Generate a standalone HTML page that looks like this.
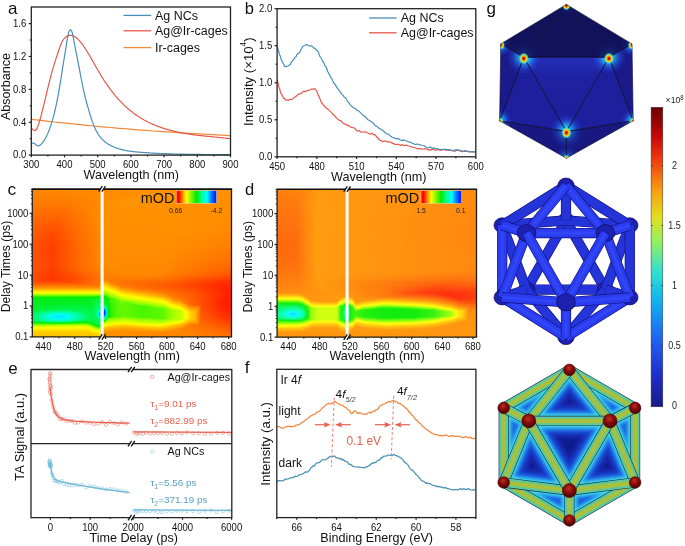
<!DOCTYPE html>
<html><head><meta charset="utf-8"><style>
html,body{margin:0;padding:0;background:#fff;width:685px;height:546px;overflow:hidden}
svg{display:block;will-change:transform}
text{font-family:"Liberation Sans", sans-serif}
</style></head><body>
<svg width="685" height="546" viewBox="0 0 685 546" font-family='"Liberation Sans", sans-serif'>
<path d="M31.3,119.3 L34.3,119.7 L38.3,120.1 L43.1,120.7 L48.5,121.3 L54.2,122.0 L60.0,122.6 L66.1,123.2 L72.9,123.9 L79.9,124.6 L87.0,125.3 L93.8,126.0 L100.0,126.6 L105.3,127.1 L110.0,127.5 L114.4,127.9 L118.9,128.3 L124.0,128.7 L130.0,129.2 L137.2,129.8 L145.2,130.4 L153.7,131.0 L162.6,131.6 L171.4,132.2 L180.0,132.8 L189.0,133.3 L198.6,133.9 L208.3,134.4 L217.3,134.9 L224.9,135.3 L230.4,135.6" fill="none" stroke="#f28a3c" stroke-width="1.2" stroke-linejoin="round"/>
<path d="M31.4,127.8 L32.1,128.8 L32.8,129.6 L33.5,130.2 L34.2,130.6 L34.9,130.6 L35.6,130.3 L36.3,129.5 L37.0,128.4 L37.7,126.8 L38.4,124.9 L39.1,122.7 L39.8,120.4 L40.5,117.9 L41.2,115.3 L41.9,112.6 L42.6,109.8 L43.3,107.0 L44.0,104.1 L44.7,101.2 L45.4,98.3 L46.1,95.4 L46.8,92.4 L47.5,89.5 L48.2,86.6 L48.9,83.7 L49.6,80.9 L50.3,78.1 L51.0,75.5 L51.7,72.9 L52.4,70.3 L53.1,67.9 L53.8,65.6 L54.5,63.3 L55.2,61.1 L55.9,58.9 L56.6,56.8 L57.3,54.7 L58.0,52.5 L58.7,50.4 L59.4,48.3 L60.1,46.4 L60.8,44.5 L61.5,42.9 L62.2,41.5 L62.9,40.3 L63.6,39.3 L64.3,38.4 L65.0,37.7 L65.7,37.1 L66.4,36.6 L67.1,36.2 L67.8,35.8 L68.5,35.6 L69.2,35.4 L69.9,35.3 L70.6,35.3 L71.3,35.4 L72.0,35.5 L72.7,35.7 L73.4,36.0 L74.1,36.3 L74.8,36.7 L75.5,37.2 L76.2,37.7 L76.9,38.3 L77.6,38.9 L78.3,39.6 L79.0,40.3 L79.7,41.1 L80.4,41.9 L81.1,42.7 L81.8,43.6 L82.5,44.6 L83.2,45.5 L83.9,46.6 L84.6,47.6 L85.3,48.7 L86.0,49.7 L86.7,50.9 L87.4,52.0 L88.1,53.1 L88.8,54.3 L89.5,55.5 L90.2,56.7 L90.9,57.9 L91.6,59.1 L92.3,60.4 L93.0,61.6 L93.7,62.9 L94.4,64.1 L95.1,65.3 L95.8,66.6 L96.5,67.8 L97.2,69.0 L97.9,70.2 L98.6,71.5 L99.3,72.6 L100.0,73.8 L100.7,75.0 L101.4,76.1 L102.1,77.3 L102.8,78.4 L103.5,79.5 L104.2,80.6 L104.9,81.6 L105.6,82.7 L106.3,83.7 L107.0,84.7 L107.7,85.7 L108.4,86.7 L109.1,87.7 L109.8,88.6 L110.5,89.6 L111.2,90.5 L111.9,91.4 L112.6,92.3 L113.3,93.2 L114.0,94.1 L114.7,94.9 L115.4,95.8 L116.1,96.6 L116.8,97.4 L117.5,98.2 L118.2,99.0 L118.9,99.8 L119.6,100.5 L120.3,101.3 L121.0,102.0 L121.7,102.7 L122.4,103.4 L123.1,104.1 L123.8,104.8 L124.5,105.5 L125.2,106.1 L125.9,106.8 L126.6,107.4 L127.3,108.0 L128.0,108.7 L128.7,109.3 L129.4,109.8 L130.1,110.4 L130.8,111.0 L131.5,111.6 L132.2,112.1 L132.9,112.6 L133.6,113.2 L134.3,113.7 L135.0,114.2 L135.7,114.7 L136.4,115.2 L137.1,115.7 L137.8,116.1 L138.5,116.6 L139.2,117.0 L139.9,117.5 L140.6,117.9 L141.3,118.3 L142.0,118.8 L142.7,119.2 L143.4,119.6 L144.1,120.0 L144.8,120.3 L145.5,120.7 L146.2,121.1 L146.9,121.5 L147.6,121.8 L148.3,122.2 L149.0,122.5 L149.7,122.8 L150.4,123.2 L151.1,123.5 L151.8,123.8 L152.5,124.1 L153.2,124.4 L153.9,124.7 L154.6,125.0 L155.3,125.3 L156.0,125.6 L156.7,125.8 L157.4,126.1 L158.1,126.4 L158.8,126.6 L159.5,126.9 L160.2,127.1 L160.9,127.4 L161.6,127.6 L162.3,127.9 L163.0,128.1 L163.7,128.3 L164.4,128.6 L165.1,128.8 L165.8,129.0 L166.5,129.2 L167.2,129.4 L167.9,129.6 L168.6,129.8 L169.3,130.0 L170.0,130.2 L170.7,130.4 L171.4,130.6 L172.1,130.7 L172.8,130.9 L173.5,131.1 L174.2,131.3 L174.9,131.4 L175.6,131.6 L176.3,131.7 L177.0,131.9 L177.7,132.0 L178.4,132.2 L179.1,132.3 L179.8,132.5 L180.5,132.6 L181.2,132.8 L181.9,132.9 L182.6,133.0 L183.3,133.1 L184.0,133.3 L184.7,133.4 L185.4,133.5 L186.1,133.6 L186.8,133.7 L187.5,133.9 L188.2,134.0 L188.9,134.1 L189.6,134.2 L190.3,134.3 L191.0,134.4 L191.7,134.5 L192.4,134.6 L193.1,134.7 L193.8,134.8 L194.5,134.9 L195.2,134.9 L195.9,135.0 L196.6,135.1 L197.3,135.2 L198.0,135.3 L198.7,135.4 L199.4,135.5 L200.1,135.5 L200.8,135.6 L201.5,135.7 L202.2,135.8 L202.9,135.8 L203.6,135.9 L204.3,136.0 L205.0,136.1 L205.7,136.1 L206.4,136.2 L207.1,136.3 L207.8,136.4 L208.5,136.4 L209.2,136.5 L209.9,136.6 L210.6,136.6 L211.3,136.7 L212.0,136.8 L212.7,136.8 L213.4,136.9 L214.1,137.0 L214.8,137.0 L215.5,137.1 L216.2,137.2 L216.9,137.2 L217.6,137.3 L218.3,137.4 L219.0,137.5 L219.7,137.5 L220.4,137.6 L221.1,137.7 L221.8,137.7 L222.5,137.8 L223.2,137.9 L223.9,138.0 L224.6,138.0 L225.3,138.1 L226.0,138.2 L226.7,138.3 L227.4,138.4 L228.1,138.4 L228.8,138.5 L229.5,138.6 L230.2,138.7 L230.4,138.7" fill="none" stroke="#e8584b" stroke-width="1.2" stroke-linejoin="round"/>
<path d="M31.4,144.3 L32.1,143.4 L32.8,143.0 L33.5,143.0 L34.2,143.3 L34.9,143.9 L35.6,144.5 L36.3,145.0 L37.0,145.5 L37.7,145.8 L38.4,145.8 L39.1,145.7 L39.8,145.3 L40.5,144.8 L41.2,144.2 L41.9,143.4 L42.6,142.6 L43.3,141.6 L44.0,140.5 L44.7,139.4 L45.4,138.2 L46.1,136.9 L46.8,135.5 L47.5,134.0 L48.2,132.4 L48.9,130.7 L49.6,128.9 L50.3,126.9 L51.0,124.9 L51.7,122.7 L52.4,120.3 L53.1,117.9 L53.8,115.2 L54.5,112.5 L55.2,109.5 L55.9,106.4 L56.6,103.1 L57.3,99.7 L58.0,96.0 L58.7,92.2 L59.4,88.2 L60.1,83.9 L60.8,79.6 L61.5,75.1 L62.2,70.7 L62.9,66.2 L63.6,61.9 L64.3,57.6 L65.0,53.4 L65.7,49.1 L66.4,44.6 L67.1,40.1 L67.8,36.1 L68.5,33.0 L69.2,31.1 L69.9,30.1 L70.6,29.9 L71.3,30.5 L72.0,32.0 L72.7,34.6 L73.4,38.1 L74.1,41.9 L74.8,45.6 L75.5,49.2 L76.2,52.7 L76.9,56.2 L77.6,59.7 L78.3,63.3 L79.0,66.9 L79.7,70.6 L80.4,74.3 L81.1,78.0 L81.8,81.6 L82.5,85.2 L83.2,88.5 L83.9,91.8 L84.6,94.8 L85.3,97.6 L86.0,100.4 L86.7,103.0 L87.4,105.5 L88.1,107.9 L88.8,110.4 L89.5,112.7 L90.2,115.0 L90.9,117.3 L91.6,119.4 L92.3,121.5 L93.0,123.4 L93.7,125.2 L94.4,127.0 L95.1,128.5 L95.8,130.0 L96.5,131.3 L97.2,132.6 L97.9,133.7 L98.6,134.8 L99.3,135.8 L100.0,136.7 L100.7,137.6 L101.4,138.3 L102.1,139.1 L102.8,139.8 L103.5,140.5 L104.2,141.1 L104.9,141.7 L105.6,142.2 L106.3,142.8 L107.0,143.3 L107.7,143.7 L108.4,144.2 L109.1,144.6 L109.8,145.0 L110.5,145.4 L111.2,145.7 L111.9,146.1 L112.6,146.4 L113.3,146.7 L114.0,147.0 L114.7,147.3 L115.4,147.6 L116.1,147.8 L116.8,148.1 L117.5,148.3 L118.2,148.6 L118.9,148.8 L119.6,149.0 L120.3,149.2 L121.0,149.4 L121.7,149.6 L122.4,149.8 L123.1,149.9 L123.8,150.1 L124.5,150.2 L125.2,150.4 L125.9,150.5 L126.6,150.7 L127.3,150.8 L128.0,150.9 L128.7,151.0 L129.4,151.1 L130.1,151.2 L130.8,151.3 L131.5,151.4 L132.2,151.5 L132.9,151.6 L133.6,151.7 L134.3,151.7 L135.0,151.8 L135.7,151.9 L136.4,151.9 L137.1,152.0 L137.8,152.1 L138.5,152.1 L139.2,152.2 L139.9,152.2 L140.6,152.3 L141.3,152.3 L142.0,152.4 L142.7,152.5 L143.4,152.5 L144.1,152.6 L144.8,152.6 L145.5,152.7 L146.2,152.7 L146.9,152.7 L147.6,152.8 L148.3,152.8 L149.0,152.9 L149.7,152.9 L150.4,153.0 L151.1,153.0 L151.8,153.1 L152.5,153.1 L153.2,153.1 L153.9,153.2 L154.6,153.2 L155.3,153.3 L156.0,153.3 L156.7,153.3 L157.4,153.4 L158.1,153.4 L158.8,153.4 L159.5,153.5 L160.2,153.5 L160.9,153.5 L161.6,153.6 L162.3,153.6 L163.0,153.6 L163.7,153.6 L164.4,153.7 L165.1,153.7 L165.8,153.7 L166.5,153.8 L167.2,153.8 L167.9,153.8 L168.6,153.8 L169.3,153.9 L170.0,153.9 L170.7,153.9 L171.4,153.9 L172.1,153.9 L172.8,154.0 L173.5,154.0 L174.2,154.0 L174.9,154.0 L175.6,154.0 L176.3,154.1 L177.0,154.1 L177.7,154.1 L178.4,154.1 L179.1,154.1 L179.8,154.2 L180.5,154.2 L181.2,154.2 L181.9,154.2 L182.6,154.2 L183.3,154.2 L184.0,154.2 L184.7,154.2 L185.4,154.3 L186.1,154.3 L186.8,154.3 L187.5,154.3 L188.2,154.3 L188.9,154.3 L189.6,154.3 L190.3,154.3 L191.0,154.3 L191.7,154.4 L192.4,154.4 L193.1,154.4 L193.8,154.4 L194.5,154.4 L195.2,154.4 L195.9,154.4 L196.6,154.4 L197.3,154.4 L198.0,154.4 L198.7,154.4 L199.4,154.4 L200.1,154.4 L200.8,154.4 L201.5,154.5 L202.2,154.5 L202.9,154.5 L203.6,154.5 L204.3,154.5 L205.0,154.5 L205.7,154.5 L206.4,154.5 L207.1,154.5 L207.8,154.5 L208.5,154.5 L209.2,154.5 L209.9,154.5 L210.6,154.5 L211.3,154.5 L212.0,154.5 L212.7,154.5 L213.4,154.5 L214.1,154.5 L214.8,154.5 L215.5,154.5 L216.2,154.5 L216.9,154.5 L217.6,154.5 L218.3,154.5 L219.0,154.5 L219.7,154.5 L220.4,154.5 L221.1,154.5 L221.8,154.6 L222.5,154.6 L223.2,154.6 L223.9,154.6 L224.6,154.6 L225.3,154.6 L226.0,154.6 L226.7,154.6 L227.4,154.6 L228.1,154.6 L228.8,154.6 L229.5,154.6 L230.2,154.6 L230.4,154.6" fill="none" stroke="#4a8fb8" stroke-width="1.2" stroke-linejoin="round"/>
<rect x="31.3" y="7" width="199.2" height="148.1" fill="none" stroke="#222" stroke-width="1.3"/>
<line x1="31.3" y1="155.1" x2="31.3" y2="157.3" stroke="#222" stroke-width="1.2"/>
<text transform="translate(31.3 167.6) scale(0.9 1)" font-size="10.6" text-anchor="middle" fill="#111">300</text>
<line x1="47.9" y1="155.1" x2="47.9" y2="156.5" stroke="#222" stroke-width="1.2"/>
<line x1="64.5" y1="155.1" x2="64.5" y2="157.3" stroke="#222" stroke-width="1.2"/>
<text transform="translate(64.5 167.6) scale(0.9 1)" font-size="10.6" text-anchor="middle" fill="#111">400</text>
<line x1="81.1" y1="155.1" x2="81.1" y2="156.5" stroke="#222" stroke-width="1.2"/>
<line x1="97.7" y1="155.1" x2="97.7" y2="157.3" stroke="#222" stroke-width="1.2"/>
<text transform="translate(97.7 167.6) scale(0.9 1)" font-size="10.6" text-anchor="middle" fill="#111">500</text>
<line x1="114.3" y1="155.1" x2="114.3" y2="156.5" stroke="#222" stroke-width="1.2"/>
<line x1="130.9" y1="155.1" x2="130.9" y2="157.3" stroke="#222" stroke-width="1.2"/>
<text transform="translate(130.9 167.6) scale(0.9 1)" font-size="10.6" text-anchor="middle" fill="#111">600</text>
<line x1="147.5" y1="155.1" x2="147.5" y2="156.5" stroke="#222" stroke-width="1.2"/>
<line x1="164.1" y1="155.1" x2="164.1" y2="157.3" stroke="#222" stroke-width="1.2"/>
<text transform="translate(164.1 167.6) scale(0.9 1)" font-size="10.6" text-anchor="middle" fill="#111">700</text>
<line x1="180.7" y1="155.1" x2="180.7" y2="156.5" stroke="#222" stroke-width="1.2"/>
<line x1="197.3" y1="155.1" x2="197.3" y2="157.3" stroke="#222" stroke-width="1.2"/>
<text transform="translate(197.3 167.6) scale(0.9 1)" font-size="10.6" text-anchor="middle" fill="#111">800</text>
<line x1="213.9" y1="155.1" x2="213.9" y2="156.5" stroke="#222" stroke-width="1.2"/>
<line x1="230.5" y1="155.1" x2="230.5" y2="157.3" stroke="#222" stroke-width="1.2"/>
<text transform="translate(230.5 167.6) scale(0.9 1)" font-size="10.6" text-anchor="middle" fill="#111">900</text>
<line x1="31.3" y1="155.1" x2="28.7" y2="155.1" stroke="#222" stroke-width="1.2"/>
<text transform="translate(26.3 158.4) scale(0.9 1)" font-size="10.6" text-anchor="end" fill="#111">0.0</text>
<line x1="31.3" y1="138.66" x2="29.8" y2="138.66" stroke="#222" stroke-width="1.2"/>
<line x1="31.3" y1="122.22" x2="28.7" y2="122.22" stroke="#222" stroke-width="1.2"/>
<text transform="translate(26.3 125.52) scale(0.9 1)" font-size="10.6" text-anchor="end" fill="#111">0.4</text>
<line x1="31.3" y1="105.79" x2="29.8" y2="105.79" stroke="#222" stroke-width="1.2"/>
<line x1="31.3" y1="89.35" x2="28.7" y2="89.35" stroke="#222" stroke-width="1.2"/>
<text transform="translate(26.3 92.65) scale(0.9 1)" font-size="10.6" text-anchor="end" fill="#111">0.8</text>
<line x1="31.3" y1="72.91" x2="29.8" y2="72.91" stroke="#222" stroke-width="1.2"/>
<line x1="31.3" y1="56.47" x2="28.7" y2="56.47" stroke="#222" stroke-width="1.2"/>
<text transform="translate(26.3 59.77) scale(0.9 1)" font-size="10.6" text-anchor="end" fill="#111">1.2</text>
<line x1="31.3" y1="40.03" x2="29.8" y2="40.03" stroke="#222" stroke-width="1.2"/>
<line x1="31.3" y1="23.6" x2="28.7" y2="23.6" stroke="#222" stroke-width="1.2"/>
<text transform="translate(26.3 26.9) scale(0.9 1)" font-size="10.6" text-anchor="end" fill="#111">1.6</text>
<text x="131.2" y="179.4" font-size="12.6" text-anchor="middle" fill="#111">Wavelength (nm)</text>
<text x="10.2" y="86.5" font-size="12.6" text-anchor="middle" fill="#111" transform="rotate(-90 10.2 86.5)">Absorbance</text>
<line x1="123.5" y1="15.4" x2="151.2" y2="15.4" stroke="#4a8fb8" stroke-width="1.3"/>
<text x="155" y="19.7" font-size="12.45" text-anchor="start" fill="#111">Ag NCs</text>
<line x1="123.5" y1="30.8" x2="151.2" y2="30.8" stroke="#e8584b" stroke-width="1.3"/>
<text x="155" y="35.1" font-size="12.45" text-anchor="start" fill="#111">Ag@Ir-cages</text>
<line x1="123.5" y1="47.6" x2="151.2" y2="47.6" stroke="#f28a3c" stroke-width="1.3"/>
<text x="155" y="51.9" font-size="12.45" text-anchor="start" fill="#111">Ir-cages</text>
<text x="8.1" y="13.8" font-size="17" text-anchor="start" fill="#111">a</text>
<path d="M277.2,79.6 L277.7,81.9 L278.3,84.3 L278.7,86.1 L279.1,87.7 L279.5,88.4 L279.9,89.7 L280.7,93.3 L281.5,94.2 L282.5,95.7 L283.4,98.2 L284.4,98.4 L285.8,100.1 L287.2,100.1 L288.6,100.3 L290.0,99.3 L291.4,99.4 L292.8,98.8 L294.1,97.3 L295.5,96.8 L296.8,95.8 L298.2,94.0 L299.9,94.1 L301.2,93.2 L302.6,92.1 L304.1,91.1 L305.5,91.7 L306.9,90.6 L308.4,90.3 L309.9,90.0 L311.4,89.2 L313.2,89.2 L314.9,88.7 L316.1,90.4 L317.0,91.4 L317.7,93.8 L318.4,95.6 L319.1,96.5 L319.8,98.4 L320.6,100.2 L321.4,102.7 L322.3,103.3 L323.2,105.0 L324.2,105.8 L325.4,107.3 L326.7,108.3 L328.2,109.4 L329.6,110.9 L331.1,112.1 L332.5,113.9 L333.9,114.9 L335.3,116.8 L336.7,118.1 L338.1,119.6 L339.5,120.3 L340.9,120.6 L342.3,122.6 L343.7,123.6 L345.1,124.4 L346.5,124.7 L347.9,125.7 L349.2,125.6 L350.6,127.2 L352.0,127.5 L353.4,127.7 L354.8,128.2 L356.2,130.2 L357.6,131.2 L359.2,130.5 L360.9,132.1 L362.8,132.0 L364.9,131.9 L366.9,132.5 L368.7,133.5 L370.2,134.1 L372.1,133.3 L373.6,134.8 L375.2,134.8 L376.9,137.2 L377.9,137.7 L379.1,139.6 L380.3,140.6 L381.6,140.6 L383.0,141.8 L384.5,141.1 L386.0,141.0 L387.7,142.1 L389.4,141.8 L391.3,142.6 L393.4,143.6 L395.4,144.5 L397.2,144.3 L398.7,144.4 L400.5,145.5 L402.0,144.4 L403.7,145.4 L405.1,145.5 L406.6,145.1 L408.1,145.7 L409.7,146.2 L411.2,146.8 L412.7,147.1 L414.1,147.5 L415.6,148.0 L417.2,148.8 L418.8,148.5 L420.6,148.6 L422.6,149.3 L424.5,148.7 L426.5,149.0 L428.3,150.1 L429.9,149.6 L431.4,149.8 L432.8,149.1 L434.3,149.8 L435.9,150.1 L437.7,149.3 L439.6,150.2 L441.5,150.2 L443.5,149.3 L445.4,150.2 L447.3,150.0 L449.2,150.5 L451.1,150.2 L453.0,150.9 L454.9,151.1 L456.8,150.1 L458.6,150.2 L460.5,151.2 L462.4,151.7 L464.4,150.7 L466.7,151.2 L469.4,151.7 L472.0,151.6 L474.2,151.9 L475.8,152.0" fill="none" stroke="#e8584b" stroke-width="1.2" stroke-linejoin="round"/>
<path d="M277.2,46.1 L277.7,48.1 L278.3,49.9 L279.1,52.7 L279.5,54.7 L280.3,56.1 L281.1,59.0 L282.0,61.4 L282.9,62.9 L283.9,64.5 L284.8,66.7 L286.2,66.6 L287.7,66.0 L289.1,65.2 L290.5,64.2 L291.4,62.1 L292.3,61.1 L293.2,59.7 L294.1,59.0 L295.1,57.2 L296.0,56.7 L296.9,54.5 L297.8,53.7 L298.8,53.0 L299.8,52.0 L300.9,49.7 L302.1,47.7 L303.2,46.0 L304.5,45.5 L306.4,44.4 L307.9,45.5 L309.3,46.0 L310.7,45.7 L312.6,46.6 L314.1,48.1 L315.4,48.8 L316.7,50.3 L317.8,51.3 L318.5,52.4 L319.1,54.1 L319.8,56.4 L320.6,57.1 L321.4,58.7 L322.3,60.2 L323.2,61.9 L324.2,63.7 L325.4,66.7 L326.0,66.8 L326.7,68.0 L327.4,70.8 L328.2,72.2 L328.9,73.9 L329.6,74.5 L330.4,76.7 L331.1,78.1 L331.8,78.4 L332.5,80.4 L333.2,81.8 L333.9,82.8 L334.6,83.8 L336.0,85.9 L337.4,88.2 L338.8,90.1 L340.2,91.7 L341.6,94.1 L343.0,95.2 L344.4,97.5 L345.8,97.9 L347.2,100.9 L348.5,102.2 L349.9,104.3 L351.3,105.8 L352.7,107.3 L354.1,108.1 L355.5,108.3 L356.9,110.4 L358.4,110.7 L360.0,112.1 L361.8,114.1 L363.6,115.5 L365.6,117.0 L367.6,119.4 L369.5,120.6 L371.4,121.7 L373.3,123.1 L375.2,125.6 L377.1,126.5 L379.0,128.4 L380.9,129.2 L382.8,130.4 L384.7,132.2 L386.6,133.9 L388.5,134.1 L390.4,136.1 L392.3,137.2 L394.2,137.9 L396.1,138.8 L398.0,138.3 L399.9,139.8 L401.8,140.7 L403.6,139.9 L405.5,140.7 L407.4,141.3 L409.3,142.2 L411.2,142.7 L413.2,143.5 L415.1,144.5 L417.0,144.0 L418.9,144.5 L420.8,145.1 L422.6,145.5 L424.5,145.8 L426.4,147.6 L428.3,147.8 L430.2,147.1 L432.1,148.1 L434.0,148.2 L435.9,148.5 L437.8,148.8 L439.7,149.5 L441.6,149.6 L443.5,149.4 L445.4,149.3 L447.3,149.7 L449.2,149.5 L451.1,150.3 L453.0,150.6 L454.9,150.2 L456.8,149.9 L458.6,150.2 L460.5,150.6 L462.4,151.1 L464.4,151.5 L466.7,151.1 L469.4,152.0 L472.0,151.9 L474.2,151.9 L475.8,151.9" fill="none" stroke="#4a8fb8" stroke-width="1.2" stroke-linejoin="round"/>
<rect x="277.1" y="8.7" width="198.7" height="148.1" fill="none" stroke="#222" stroke-width="1.3"/>
<line x1="277.1" y1="156.8" x2="277.1" y2="159" stroke="#222" stroke-width="1.2"/>
<text transform="translate(277.1 169.6) scale(0.9 1)" font-size="10.6" text-anchor="middle" fill="#111">450</text>
<line x1="296.97" y1="156.8" x2="296.97" y2="158.2" stroke="#222" stroke-width="1.2"/>
<line x1="316.84" y1="156.8" x2="316.84" y2="159" stroke="#222" stroke-width="1.2"/>
<text transform="translate(316.84 169.6) scale(0.9 1)" font-size="10.6" text-anchor="middle" fill="#111">480</text>
<line x1="336.71" y1="156.8" x2="336.71" y2="158.2" stroke="#222" stroke-width="1.2"/>
<line x1="356.58" y1="156.8" x2="356.58" y2="159" stroke="#222" stroke-width="1.2"/>
<text transform="translate(356.58 169.6) scale(0.9 1)" font-size="10.6" text-anchor="middle" fill="#111">510</text>
<line x1="376.45" y1="156.8" x2="376.45" y2="158.2" stroke="#222" stroke-width="1.2"/>
<line x1="396.32" y1="156.8" x2="396.32" y2="159" stroke="#222" stroke-width="1.2"/>
<text transform="translate(396.32 169.6) scale(0.9 1)" font-size="10.6" text-anchor="middle" fill="#111">540</text>
<line x1="416.19" y1="156.8" x2="416.19" y2="158.2" stroke="#222" stroke-width="1.2"/>
<line x1="436.06" y1="156.8" x2="436.06" y2="159" stroke="#222" stroke-width="1.2"/>
<text transform="translate(436.06 169.6) scale(0.9 1)" font-size="10.6" text-anchor="middle" fill="#111">570</text>
<line x1="455.93" y1="156.8" x2="455.93" y2="158.2" stroke="#222" stroke-width="1.2"/>
<line x1="475.8" y1="156.8" x2="475.8" y2="159" stroke="#222" stroke-width="1.2"/>
<text transform="translate(475.8 169.6) scale(0.9 1)" font-size="10.6" text-anchor="middle" fill="#111">600</text>
<line x1="277.1" y1="156.8" x2="274.5" y2="156.8" stroke="#222" stroke-width="1.2"/>
<text transform="translate(272.3 160.1) scale(0.9 1)" font-size="10.6" text-anchor="end" fill="#111">0.0</text>
<line x1="277.1" y1="138.29" x2="275.6" y2="138.29" stroke="#222" stroke-width="1.2"/>
<line x1="277.1" y1="119.78" x2="274.5" y2="119.78" stroke="#222" stroke-width="1.2"/>
<text transform="translate(272.3 123.08) scale(0.9 1)" font-size="10.6" text-anchor="end" fill="#111">0.5</text>
<line x1="277.1" y1="101.26" x2="275.6" y2="101.26" stroke="#222" stroke-width="1.2"/>
<line x1="277.1" y1="82.75" x2="274.5" y2="82.75" stroke="#222" stroke-width="1.2"/>
<text transform="translate(272.3 86.05) scale(0.9 1)" font-size="10.6" text-anchor="end" fill="#111">1.0</text>
<line x1="277.1" y1="64.24" x2="275.6" y2="64.24" stroke="#222" stroke-width="1.2"/>
<line x1="277.1" y1="45.73" x2="274.5" y2="45.73" stroke="#222" stroke-width="1.2"/>
<text transform="translate(272.3 49.03) scale(0.9 1)" font-size="10.6" text-anchor="end" fill="#111">1.5</text>
<line x1="277.1" y1="27.21" x2="275.6" y2="27.21" stroke="#222" stroke-width="1.2"/>
<line x1="277.1" y1="8.7" x2="274.5" y2="8.7" stroke="#222" stroke-width="1.2"/>
<text transform="translate(272.3 12) scale(0.9 1)" font-size="10.6" text-anchor="end" fill="#111">2.0</text>
<text x="378.8" y="180.6" font-size="12.6" text-anchor="middle" fill="#111">Wavelength (nm)</text>
<text x="253.5" y="81.7" font-size="13.2" text-anchor="middle" fill="#111" transform="rotate(-90 253.5 81.7)">Intensity (×10<tspan font-size="8.2" dy="-7.2">4</tspan><tspan dy="7.2">)</tspan></text>
<line x1="369.1" y1="18" x2="396.6" y2="18" stroke="#4a8fb8" stroke-width="1.3"/>
<text x="400.8" y="22.3" font-size="12.45" text-anchor="start" fill="#111">Ag NCs</text>
<line x1="369.1" y1="32.8" x2="396.6" y2="32.8" stroke="#e8584b" stroke-width="1.3"/>
<text x="400.8" y="37.1" font-size="12.45" text-anchor="start" fill="#111">Ag@Ir-cages</text>
<text x="244.8" y="13.7" font-size="16.5" text-anchor="start" fill="#111">b</text>
<defs><linearGradient id="c0"><stop offset="0.000" stop-color="#ff8600"/><stop offset="0.256" stop-color="#ff8c00"/><stop offset="1.000" stop-color="#ff9100"/></linearGradient><linearGradient id="c1"><stop offset="0.000" stop-color="#ff8500"/><stop offset="0.241" stop-color="#ff8b00"/><stop offset="0.924" stop-color="#ff9100"/><stop offset="1.000" stop-color="#ff9100"/></linearGradient><linearGradient id="c2"><stop offset="0.000" stop-color="#ff8500"/><stop offset="0.226" stop-color="#ff8900"/><stop offset="0.823" stop-color="#ff9300"/><stop offset="1.000" stop-color="#ff9100"/></linearGradient><linearGradient id="c3"><stop offset="0.000" stop-color="#ff8400"/><stop offset="0.221" stop-color="#ff8800"/><stop offset="0.773" stop-color="#ff9300"/><stop offset="1.000" stop-color="#ff9100"/></linearGradient><linearGradient id="c4"><stop offset="0.000" stop-color="#ff8300"/><stop offset="0.211" stop-color="#ff8700"/><stop offset="0.703" stop-color="#ff9400"/><stop offset="1.000" stop-color="#ff9100"/></linearGradient><linearGradient id="c5"><stop offset="0.000" stop-color="#ff8300"/><stop offset="0.201" stop-color="#ff8500"/><stop offset="0.643" stop-color="#ff9500"/><stop offset="1.000" stop-color="#ff9100"/></linearGradient><linearGradient id="c6"><stop offset="0.000" stop-color="#ff8200"/><stop offset="0.196" stop-color="#ff8400"/><stop offset="0.602" stop-color="#ff9500"/><stop offset="1.000" stop-color="#ff9100"/></linearGradient><linearGradient id="c7"><stop offset="0.000" stop-color="#ff8100"/><stop offset="0.191" stop-color="#ff8300"/><stop offset="0.567" stop-color="#ff9400"/><stop offset="1.000" stop-color="#ff9100"/></linearGradient><linearGradient id="c8"><stop offset="0.000" stop-color="#ff8000"/><stop offset="0.186" stop-color="#ff8100"/><stop offset="0.537" stop-color="#ff9400"/><stop offset="1.000" stop-color="#ff9000"/></linearGradient><linearGradient id="c9"><stop offset="0.000" stop-color="#ff7f00"/><stop offset="0.181" stop-color="#ff8000"/><stop offset="0.512" stop-color="#ff9400"/><stop offset="1.000" stop-color="#ff9000"/></linearGradient><linearGradient id="c10"><stop offset="0.000" stop-color="#ff7f00"/><stop offset="0.176" stop-color="#ff7e00"/><stop offset="0.487" stop-color="#ff9400"/><stop offset="1.000" stop-color="#ff9000"/></linearGradient><linearGradient id="c11"><stop offset="0.000" stop-color="#ff7e00"/><stop offset="0.171" stop-color="#ff7d00"/><stop offset="0.472" stop-color="#ff9300"/><stop offset="1.000" stop-color="#ff9000"/></linearGradient><linearGradient id="c12"><stop offset="0.000" stop-color="#ff7d00"/><stop offset="0.166" stop-color="#ff7b00"/><stop offset="0.457" stop-color="#ff9300"/><stop offset="1.000" stop-color="#ff9000"/></linearGradient><linearGradient id="c13"><stop offset="0.000" stop-color="#ff7c00"/><stop offset="0.161" stop-color="#ff7a00"/><stop offset="0.447" stop-color="#ff9300"/><stop offset="1.000" stop-color="#ff9000"/></linearGradient><linearGradient id="c14"><stop offset="0.000" stop-color="#ff7b00"/><stop offset="0.161" stop-color="#ff7900"/><stop offset="0.437" stop-color="#ff9300"/><stop offset="1.000" stop-color="#ff9000"/></linearGradient><linearGradient id="c15"><stop offset="0.000" stop-color="#ff7a00"/><stop offset="0.156" stop-color="#ff7700"/><stop offset="0.427" stop-color="#ff9300"/><stop offset="1.000" stop-color="#ff9000"/></linearGradient><linearGradient id="c16"><stop offset="0.000" stop-color="#ff7900"/><stop offset="0.151" stop-color="#ff7500"/><stop offset="0.422" stop-color="#ff9200"/><stop offset="1.000" stop-color="#ff9000"/></linearGradient><linearGradient id="c17"><stop offset="0.000" stop-color="#ff7800"/><stop offset="0.151" stop-color="#ff7400"/><stop offset="0.412" stop-color="#ff9200"/><stop offset="1.000" stop-color="#ff8f00"/></linearGradient><linearGradient id="c18"><stop offset="0.000" stop-color="#ff7700"/><stop offset="0.146" stop-color="#ff7200"/><stop offset="0.407" stop-color="#ff9200"/><stop offset="1.000" stop-color="#ff8f00"/></linearGradient><linearGradient id="c19"><stop offset="0.000" stop-color="#ff7600"/><stop offset="0.141" stop-color="#ff7000"/><stop offset="0.402" stop-color="#ff9200"/><stop offset="1.000" stop-color="#ff8f00"/></linearGradient><linearGradient id="c20"><stop offset="0.000" stop-color="#ff7500"/><stop offset="0.141" stop-color="#ff6f00"/><stop offset="0.397" stop-color="#ff9200"/><stop offset="1.000" stop-color="#ff8f00"/></linearGradient><linearGradient id="c21"><stop offset="0.000" stop-color="#ff7400"/><stop offset="0.136" stop-color="#ff6d00"/><stop offset="0.397" stop-color="#ff9100"/><stop offset="1.000" stop-color="#ff8f00"/></linearGradient><linearGradient id="c22"><stop offset="0.000" stop-color="#ff7300"/><stop offset="0.136" stop-color="#ff6c00"/><stop offset="0.392" stop-color="#ff9100"/><stop offset="1.000" stop-color="#ff8f00"/></linearGradient><linearGradient id="c23"><stop offset="0.000" stop-color="#ff7100"/><stop offset="0.136" stop-color="#ff6b00"/><stop offset="0.387" stop-color="#ff9100"/><stop offset="1.000" stop-color="#ff8e00"/></linearGradient><linearGradient id="c24"><stop offset="0.000" stop-color="#ff7000"/><stop offset="0.131" stop-color="#ff6900"/><stop offset="0.387" stop-color="#ff9100"/><stop offset="1.000" stop-color="#ff8e00"/></linearGradient><linearGradient id="c25"><stop offset="0.000" stop-color="#ff6f00"/><stop offset="0.131" stop-color="#ff6700"/><stop offset="0.382" stop-color="#ff9100"/><stop offset="0.909" stop-color="#ff8f00"/><stop offset="1.000" stop-color="#ff8e00"/></linearGradient><linearGradient id="c26"><stop offset="0.000" stop-color="#ff6e00"/><stop offset="0.126" stop-color="#ff6500"/><stop offset="0.382" stop-color="#ff9000"/><stop offset="0.889" stop-color="#ff8f00"/><stop offset="1.000" stop-color="#ff8e00"/></linearGradient><linearGradient id="c27"><stop offset="0.000" stop-color="#ff6d00"/><stop offset="0.126" stop-color="#ff6400"/><stop offset="0.382" stop-color="#ff9000"/><stop offset="0.879" stop-color="#ff8f00"/><stop offset="1.000" stop-color="#ff8d00"/></linearGradient><linearGradient id="c28"><stop offset="0.000" stop-color="#ff6c00"/><stop offset="0.126" stop-color="#ff6200"/><stop offset="0.377" stop-color="#ff9000"/><stop offset="0.853" stop-color="#ff8f00"/><stop offset="1.000" stop-color="#ff8d00"/></linearGradient><linearGradient id="c29"><stop offset="0.000" stop-color="#ff6b00"/><stop offset="0.120" stop-color="#ff6000"/><stop offset="0.377" stop-color="#ff9000"/><stop offset="0.843" stop-color="#ff8f00"/><stop offset="1.000" stop-color="#ff8d00"/></linearGradient><linearGradient id="c30"><stop offset="0.000" stop-color="#ff6a00"/><stop offset="0.120" stop-color="#ff5f00"/><stop offset="0.371" stop-color="#ff9000"/><stop offset="0.823" stop-color="#ff9000"/><stop offset="1.000" stop-color="#ff8d00"/></linearGradient><linearGradient id="c31"><stop offset="0.000" stop-color="#ff6800"/><stop offset="0.120" stop-color="#ff5d00"/><stop offset="0.371" stop-color="#ff8f00"/><stop offset="0.818" stop-color="#ff9000"/><stop offset="1.000" stop-color="#ff8c00"/></linearGradient><linearGradient id="c32"><stop offset="0.000" stop-color="#ff6700"/><stop offset="0.115" stop-color="#ff5b00"/><stop offset="0.371" stop-color="#ff8f00"/><stop offset="0.808" stop-color="#ff9000"/><stop offset="1.000" stop-color="#ff8c00"/></linearGradient><linearGradient id="c33"><stop offset="0.000" stop-color="#ff6600"/><stop offset="0.115" stop-color="#ff5a00"/><stop offset="0.371" stop-color="#ff8f00"/><stop offset="0.803" stop-color="#ff9000"/><stop offset="1.000" stop-color="#ff8c00"/></linearGradient><linearGradient id="c34"><stop offset="0.000" stop-color="#ff6500"/><stop offset="0.115" stop-color="#ff5900"/><stop offset="0.366" stop-color="#ff8f00"/><stop offset="0.788" stop-color="#ff9000"/><stop offset="1.000" stop-color="#ff8b00"/></linearGradient><linearGradient id="c35"><stop offset="0.000" stop-color="#ff6400"/><stop offset="0.115" stop-color="#ff5700"/><stop offset="0.366" stop-color="#ff8f00"/><stop offset="0.783" stop-color="#ff9000"/><stop offset="1.000" stop-color="#ff8b00"/></linearGradient><linearGradient id="c36"><stop offset="0.000" stop-color="#ff6300"/><stop offset="0.110" stop-color="#ff5500"/><stop offset="0.366" stop-color="#ff8f00"/><stop offset="0.773" stop-color="#ff9000"/><stop offset="1.000" stop-color="#ff8b00"/></linearGradient><linearGradient id="c37"><stop offset="0.000" stop-color="#ff6200"/><stop offset="0.110" stop-color="#ff5400"/><stop offset="0.366" stop-color="#ff8f00"/><stop offset="0.768" stop-color="#ff9000"/><stop offset="1.000" stop-color="#ff8a00"/></linearGradient><linearGradient id="c38"><stop offset="0.000" stop-color="#ff6100"/><stop offset="0.110" stop-color="#ff5300"/><stop offset="0.366" stop-color="#ff8e00"/><stop offset="0.763" stop-color="#ff9000"/><stop offset="1.000" stop-color="#ff8a00"/></linearGradient><linearGradient id="c39"><stop offset="0.000" stop-color="#ff6000"/><stop offset="0.110" stop-color="#ff5100"/><stop offset="0.361" stop-color="#ff8e00"/><stop offset="0.753" stop-color="#ff9000"/><stop offset="1.000" stop-color="#ff8900"/></linearGradient><linearGradient id="c40"><stop offset="0.000" stop-color="#ff5f00"/><stop offset="0.110" stop-color="#ff5000"/><stop offset="0.361" stop-color="#ff8e00"/><stop offset="0.748" stop-color="#ff9000"/><stop offset="1.000" stop-color="#ff8900"/></linearGradient><linearGradient id="c41"><stop offset="0.000" stop-color="#ff5e00"/><stop offset="0.105" stop-color="#ff4e00"/><stop offset="0.361" stop-color="#ff8e00"/><stop offset="0.743" stop-color="#ff9000"/><stop offset="1.000" stop-color="#ff8900"/></linearGradient><linearGradient id="c42"><stop offset="0.000" stop-color="#ff5d00"/><stop offset="0.105" stop-color="#ff4d00"/><stop offset="0.361" stop-color="#ff8e00"/><stop offset="0.738" stop-color="#ff9000"/><stop offset="1.000" stop-color="#ff8800"/></linearGradient><linearGradient id="c43"><stop offset="0.000" stop-color="#ff5c00"/><stop offset="0.105" stop-color="#ff4c00"/><stop offset="0.361" stop-color="#ff8d00"/><stop offset="0.733" stop-color="#ff9000"/><stop offset="1.000" stop-color="#ff8800"/></linearGradient><linearGradient id="c44"><stop offset="0.000" stop-color="#ff5b00"/><stop offset="0.105" stop-color="#ff4b00"/><stop offset="0.361" stop-color="#ff8d00"/><stop offset="0.728" stop-color="#ff9000"/><stop offset="1.000" stop-color="#ff8700"/></linearGradient><linearGradient id="c45"><stop offset="0.000" stop-color="#ff5a00"/><stop offset="0.105" stop-color="#ff4900"/><stop offset="0.361" stop-color="#ff8d00"/><stop offset="0.723" stop-color="#ff9000"/><stop offset="1.000" stop-color="#ff8700"/></linearGradient><linearGradient id="c46"><stop offset="0.000" stop-color="#ff5900"/><stop offset="0.105" stop-color="#ff4800"/><stop offset="0.356" stop-color="#ff8d00"/><stop offset="0.708" stop-color="#ff9000"/><stop offset="1.000" stop-color="#ff8600"/></linearGradient><linearGradient id="c47"><stop offset="0.000" stop-color="#ff5800"/><stop offset="0.100" stop-color="#ff4700"/><stop offset="0.246" stop-color="#ff7200"/><stop offset="0.397" stop-color="#ff9000"/><stop offset="0.773" stop-color="#ff8c00"/><stop offset="1.000" stop-color="#ff8500"/></linearGradient><linearGradient id="c48"><stop offset="0.000" stop-color="#ff5800"/><stop offset="0.100" stop-color="#ff4600"/><stop offset="0.246" stop-color="#ff7200"/><stop offset="0.397" stop-color="#ff9000"/><stop offset="0.768" stop-color="#ff8c00"/><stop offset="1.000" stop-color="#ff8500"/></linearGradient><linearGradient id="c49"><stop offset="0.000" stop-color="#ff5700"/><stop offset="0.100" stop-color="#ff4500"/><stop offset="0.241" stop-color="#ff6f00"/><stop offset="0.387" stop-color="#ff8f00"/><stop offset="0.748" stop-color="#ff8d00"/><stop offset="1.000" stop-color="#ff8400"/></linearGradient><linearGradient id="c50"><stop offset="0.000" stop-color="#ff5600"/><stop offset="0.100" stop-color="#ff4400"/><stop offset="0.236" stop-color="#ff6d00"/><stop offset="0.382" stop-color="#ff8f00"/><stop offset="0.738" stop-color="#ff8d00"/><stop offset="1.000" stop-color="#ff8400"/></linearGradient><linearGradient id="c51"><stop offset="0.000" stop-color="#ff5600"/><stop offset="0.100" stop-color="#ff4300"/><stop offset="0.236" stop-color="#ff6d00"/><stop offset="0.382" stop-color="#ff8f00"/><stop offset="0.738" stop-color="#ff8d00"/><stop offset="1.000" stop-color="#ff8300"/></linearGradient><linearGradient id="c52"><stop offset="0.000" stop-color="#ff5500"/><stop offset="0.100" stop-color="#ff4300"/><stop offset="0.236" stop-color="#ff6c00"/><stop offset="0.382" stop-color="#ff8f00"/><stop offset="0.733" stop-color="#ff8d00"/><stop offset="1.000" stop-color="#ff8200"/></linearGradient><linearGradient id="c53"><stop offset="0.000" stop-color="#ff5500"/><stop offset="0.100" stop-color="#ff4200"/><stop offset="0.231" stop-color="#ff6a00"/><stop offset="0.371" stop-color="#ff8e00"/><stop offset="0.713" stop-color="#ff8e00"/><stop offset="1.000" stop-color="#ff8200"/></linearGradient><linearGradient id="c54"><stop offset="0.000" stop-color="#ff5400"/><stop offset="0.100" stop-color="#ff4100"/><stop offset="0.231" stop-color="#ff6a00"/><stop offset="0.371" stop-color="#ff8e00"/><stop offset="0.708" stop-color="#ff8d00"/><stop offset="1.000" stop-color="#ff8100"/></linearGradient><linearGradient id="c55"><stop offset="0.000" stop-color="#ff5400"/><stop offset="0.100" stop-color="#ff4100"/><stop offset="0.231" stop-color="#ff6900"/><stop offset="0.371" stop-color="#ff8d00"/><stop offset="0.708" stop-color="#ff8d00"/><stop offset="1.000" stop-color="#ff8100"/></linearGradient><linearGradient id="c56"><stop offset="0.000" stop-color="#ff5300"/><stop offset="0.100" stop-color="#ff4000"/><stop offset="0.231" stop-color="#ff6900"/><stop offset="0.371" stop-color="#ff8d00"/><stop offset="0.703" stop-color="#ff8d00"/><stop offset="1.000" stop-color="#ff8000"/></linearGradient><linearGradient id="c57"><stop offset="0.000" stop-color="#ff5300"/><stop offset="0.100" stop-color="#ff4000"/><stop offset="0.226" stop-color="#ff6700"/><stop offset="0.366" stop-color="#ff8d00"/><stop offset="0.693" stop-color="#ff8d00"/><stop offset="1.000" stop-color="#ff7f00"/></linearGradient><linearGradient id="c58"><stop offset="0.000" stop-color="#ff5300"/><stop offset="0.100" stop-color="#ff3f00"/><stop offset="0.226" stop-color="#ff6700"/><stop offset="0.366" stop-color="#ff8d00"/><stop offset="0.688" stop-color="#ff8d00"/><stop offset="1.000" stop-color="#ff7e00"/></linearGradient><linearGradient id="c59"><stop offset="0.000" stop-color="#ff5200"/><stop offset="0.100" stop-color="#ff3f00"/><stop offset="0.226" stop-color="#ff6600"/><stop offset="0.366" stop-color="#ff8d00"/><stop offset="0.688" stop-color="#ff8d00"/><stop offset="1.000" stop-color="#ff7e00"/></linearGradient><linearGradient id="c60"><stop offset="0.000" stop-color="#ff5200"/><stop offset="0.100" stop-color="#ff3f00"/><stop offset="0.226" stop-color="#ff6600"/><stop offset="0.366" stop-color="#ff8d00"/><stop offset="0.683" stop-color="#ff8d00"/><stop offset="0.999" stop-color="#ff7d00"/><stop offset="1.000" stop-color="#ff7d00"/></linearGradient><linearGradient id="c61"><stop offset="0.000" stop-color="#ff5200"/><stop offset="0.100" stop-color="#ff3f00"/><stop offset="0.226" stop-color="#ff6600"/><stop offset="0.366" stop-color="#ff8d00"/><stop offset="0.683" stop-color="#ff8c00"/><stop offset="0.994" stop-color="#ff7c00"/><stop offset="1.000" stop-color="#ff7c00"/></linearGradient><linearGradient id="c62"><stop offset="0.000" stop-color="#ff5200"/><stop offset="0.100" stop-color="#ff3f00"/><stop offset="0.226" stop-color="#ff6600"/><stop offset="0.366" stop-color="#ff8d00"/><stop offset="0.683" stop-color="#ff8c00"/><stop offset="0.989" stop-color="#ff7b00"/><stop offset="1.000" stop-color="#ff7b00"/></linearGradient><linearGradient id="c63"><stop offset="0.000" stop-color="#ff5200"/><stop offset="0.100" stop-color="#ff3f00"/><stop offset="0.226" stop-color="#ff6600"/><stop offset="0.366" stop-color="#ff8d00"/><stop offset="0.678" stop-color="#ff8c00"/><stop offset="0.989" stop-color="#ff7a00"/><stop offset="1.000" stop-color="#ff7b00"/></linearGradient><linearGradient id="c64"><stop offset="0.000" stop-color="#ff5200"/><stop offset="0.100" stop-color="#ff3f00"/><stop offset="0.226" stop-color="#ff6600"/><stop offset="0.366" stop-color="#ff8d00"/><stop offset="0.678" stop-color="#ff8c00"/><stop offset="0.984" stop-color="#ff7900"/><stop offset="1.000" stop-color="#ff7a00"/></linearGradient><linearGradient id="c65"><stop offset="0.000" stop-color="#ff5200"/><stop offset="0.100" stop-color="#ff3f00"/><stop offset="0.226" stop-color="#ff6600"/><stop offset="0.366" stop-color="#ff8c00"/><stop offset="0.673" stop-color="#ff8c00"/><stop offset="0.984" stop-color="#ff7800"/><stop offset="1.000" stop-color="#ff7900"/></linearGradient><linearGradient id="c66"><stop offset="0.000" stop-color="#ff5200"/><stop offset="0.100" stop-color="#ff3f00"/><stop offset="0.226" stop-color="#ff6600"/><stop offset="0.366" stop-color="#ff8c00"/><stop offset="0.673" stop-color="#ff8b00"/><stop offset="0.979" stop-color="#ff7700"/><stop offset="1.000" stop-color="#ff7800"/></linearGradient><linearGradient id="c67"><stop offset="0.000" stop-color="#ff5300"/><stop offset="0.100" stop-color="#ff3f00"/><stop offset="0.226" stop-color="#ff6600"/><stop offset="0.366" stop-color="#ff8c00"/><stop offset="0.673" stop-color="#ff8b00"/><stop offset="0.979" stop-color="#ff7600"/><stop offset="1.000" stop-color="#ff7700"/></linearGradient><linearGradient id="c68"><stop offset="0.000" stop-color="#ff5300"/><stop offset="0.100" stop-color="#ff3f00"/><stop offset="0.226" stop-color="#ff6700"/><stop offset="0.366" stop-color="#ff8c00"/><stop offset="0.668" stop-color="#ff8b00"/><stop offset="0.979" stop-color="#ff7500"/><stop offset="1.000" stop-color="#ff7600"/></linearGradient><linearGradient id="c69"><stop offset="0.000" stop-color="#ff5300"/><stop offset="0.100" stop-color="#ff4000"/><stop offset="0.231" stop-color="#ff6900"/><stop offset="0.371" stop-color="#ff8d00"/><stop offset="0.678" stop-color="#ff8a00"/><stop offset="0.979" stop-color="#ff7400"/><stop offset="1.000" stop-color="#ff7500"/></linearGradient><linearGradient id="c70"><stop offset="0.000" stop-color="#ff5300"/><stop offset="0.100" stop-color="#ff4000"/><stop offset="0.231" stop-color="#ff6900"/><stop offset="0.371" stop-color="#ff8d00"/><stop offset="0.673" stop-color="#ff8a00"/><stop offset="0.974" stop-color="#ff7300"/><stop offset="1.000" stop-color="#ff7400"/></linearGradient><linearGradient id="c71"><stop offset="0.000" stop-color="#ff5400"/><stop offset="0.100" stop-color="#ff4000"/><stop offset="0.231" stop-color="#ff6900"/><stop offset="0.371" stop-color="#ff8d00"/><stop offset="0.673" stop-color="#ff8900"/><stop offset="0.974" stop-color="#ff7100"/><stop offset="1.000" stop-color="#ff7300"/></linearGradient><linearGradient id="c72"><stop offset="0.000" stop-color="#ff5400"/><stop offset="0.100" stop-color="#ff4100"/><stop offset="0.231" stop-color="#ff6900"/><stop offset="0.371" stop-color="#ff8d00"/><stop offset="0.668" stop-color="#ff8a00"/><stop offset="0.974" stop-color="#ff7000"/><stop offset="1.000" stop-color="#ff7100"/></linearGradient><linearGradient id="c73"><stop offset="0.000" stop-color="#ff5400"/><stop offset="0.100" stop-color="#ff4100"/><stop offset="0.231" stop-color="#ff6900"/><stop offset="0.371" stop-color="#ff8c00"/><stop offset="0.668" stop-color="#ff8900"/><stop offset="0.974" stop-color="#ff6f00"/><stop offset="1.000" stop-color="#ff7000"/></linearGradient><linearGradient id="c74"><stop offset="0.000" stop-color="#ff5400"/><stop offset="0.100" stop-color="#ff4100"/><stop offset="0.231" stop-color="#ff6900"/><stop offset="0.377" stop-color="#ff8d00"/><stop offset="0.673" stop-color="#ff8800"/><stop offset="0.974" stop-color="#ff6d00"/><stop offset="1.000" stop-color="#ff6f00"/></linearGradient><linearGradient id="c75"><stop offset="0.000" stop-color="#ff5400"/><stop offset="0.100" stop-color="#ff4100"/><stop offset="0.231" stop-color="#ff6800"/><stop offset="0.377" stop-color="#ff8c00"/><stop offset="0.668" stop-color="#ff8900"/><stop offset="0.974" stop-color="#ff6c00"/><stop offset="1.000" stop-color="#ff6d00"/></linearGradient><linearGradient id="c76"><stop offset="0.000" stop-color="#ff5400"/><stop offset="0.100" stop-color="#ff4100"/><stop offset="0.231" stop-color="#ff6800"/><stop offset="0.377" stop-color="#ff8c00"/><stop offset="0.663" stop-color="#ff8900"/><stop offset="0.974" stop-color="#ff6b00"/><stop offset="1.000" stop-color="#ff6c00"/></linearGradient><linearGradient id="c77"><stop offset="0.000" stop-color="#ff5400"/><stop offset="0.100" stop-color="#ff4100"/><stop offset="0.231" stop-color="#ff6700"/><stop offset="0.377" stop-color="#ff8b00"/><stop offset="0.663" stop-color="#ff8800"/><stop offset="0.974" stop-color="#ff6900"/><stop offset="1.000" stop-color="#ff6a00"/></linearGradient><linearGradient id="c78"><stop offset="0.000" stop-color="#ff5400"/><stop offset="0.100" stop-color="#ff4000"/><stop offset="0.231" stop-color="#ff6600"/><stop offset="0.382" stop-color="#ff8b00"/><stop offset="0.663" stop-color="#ff8800"/><stop offset="0.974" stop-color="#ff6700"/><stop offset="1.000" stop-color="#ff6900"/></linearGradient><linearGradient id="c79"><stop offset="0.000" stop-color="#ff5300"/><stop offset="0.100" stop-color="#ff4000"/><stop offset="0.231" stop-color="#ff6500"/><stop offset="0.382" stop-color="#ff8b00"/><stop offset="0.658" stop-color="#ff8800"/><stop offset="0.974" stop-color="#ff6600"/><stop offset="1.000" stop-color="#ff6700"/></linearGradient><linearGradient id="c80"><stop offset="0.000" stop-color="#ff5300"/><stop offset="0.100" stop-color="#ff3f00"/><stop offset="0.231" stop-color="#ff6400"/><stop offset="0.382" stop-color="#ff8a00"/><stop offset="0.653" stop-color="#ff8800"/><stop offset="0.974" stop-color="#ff6400"/><stop offset="1.000" stop-color="#ff6500"/></linearGradient><linearGradient id="c81"><stop offset="0.000" stop-color="#ff5200"/><stop offset="0.100" stop-color="#ff3d00"/><stop offset="0.226" stop-color="#ff6000"/><stop offset="0.382" stop-color="#ff8900"/><stop offset="0.648" stop-color="#ff8800"/><stop offset="0.979" stop-color="#ff6200"/><stop offset="1.000" stop-color="#ff6300"/></linearGradient><linearGradient id="c82"><stop offset="0.000" stop-color="#ff5100"/><stop offset="0.100" stop-color="#ff3c00"/><stop offset="0.226" stop-color="#ff5e00"/><stop offset="0.382" stop-color="#ff8700"/><stop offset="0.638" stop-color="#ff8800"/><stop offset="0.979" stop-color="#ff5f00"/><stop offset="1.000" stop-color="#ff6100"/></linearGradient><linearGradient id="c83"><stop offset="0.000" stop-color="#ff5000"/><stop offset="0.100" stop-color="#ff3b00"/><stop offset="0.221" stop-color="#ff5a00"/><stop offset="0.382" stop-color="#ff8600"/><stop offset="0.633" stop-color="#ff8800"/><stop offset="0.979" stop-color="#ff5d00"/><stop offset="1.000" stop-color="#ff5e00"/></linearGradient><linearGradient id="c84"><stop offset="0.000" stop-color="#ff4f00"/><stop offset="0.100" stop-color="#ff3a00"/><stop offset="0.216" stop-color="#ff5600"/><stop offset="0.377" stop-color="#ff8400"/><stop offset="0.617" stop-color="#ff8800"/><stop offset="0.979" stop-color="#ff5a00"/><stop offset="1.000" stop-color="#ff5b00"/></linearGradient><linearGradient id="c85"><stop offset="0.000" stop-color="#ff4e00"/><stop offset="0.100" stop-color="#ff3800"/><stop offset="0.211" stop-color="#ff5300"/><stop offset="0.377" stop-color="#ff8200"/><stop offset="0.612" stop-color="#ff8700"/><stop offset="0.979" stop-color="#ff5600"/><stop offset="1.000" stop-color="#ff5800"/></linearGradient><linearGradient id="c86"><stop offset="0.000" stop-color="#ff4d00"/><stop offset="0.100" stop-color="#ff3800"/><stop offset="0.206" stop-color="#ff4f00"/><stop offset="0.377" stop-color="#ff8100"/><stop offset="0.612" stop-color="#ff8500"/><stop offset="0.979" stop-color="#ff5300"/><stop offset="1.000" stop-color="#ff5400"/></linearGradient><linearGradient id="c87"><stop offset="0.000" stop-color="#ff4c00"/><stop offset="0.100" stop-color="#ff3700"/><stop offset="0.206" stop-color="#ff4d00"/><stop offset="0.377" stop-color="#ff7f00"/><stop offset="0.612" stop-color="#ff8200"/><stop offset="0.979" stop-color="#ff4e00"/><stop offset="1.000" stop-color="#ff5000"/></linearGradient><linearGradient id="c88"><stop offset="0.000" stop-color="#ff4c00"/><stop offset="0.100" stop-color="#ff3600"/><stop offset="0.206" stop-color="#ff4c00"/><stop offset="0.377" stop-color="#ff7d00"/><stop offset="0.612" stop-color="#ff7f00"/><stop offset="0.979" stop-color="#ff4900"/><stop offset="1.000" stop-color="#ff4b00"/></linearGradient><linearGradient id="c89"><stop offset="0.000" stop-color="#ff4c00"/><stop offset="0.100" stop-color="#ff3600"/><stop offset="0.206" stop-color="#ff4c00"/><stop offset="0.371" stop-color="#ff7b00"/><stop offset="0.607" stop-color="#ff7b00"/><stop offset="0.974" stop-color="#ff4300"/><stop offset="1.000" stop-color="#ff4600"/></linearGradient><linearGradient id="c90"><stop offset="0.000" stop-color="#ff4c00"/><stop offset="0.100" stop-color="#ff3700"/><stop offset="0.211" stop-color="#ff4d00"/><stop offset="0.341" stop-color="#ff7400"/><stop offset="0.346" stop-color="#ff8700"/><stop offset="0.382" stop-color="#ff7a00"/><stop offset="0.638" stop-color="#ff7400"/><stop offset="0.974" stop-color="#ff3d00"/><stop offset="1.000" stop-color="#ff4000"/></linearGradient><linearGradient id="c91"><stop offset="0.000" stop-color="#ff4e00"/><stop offset="0.100" stop-color="#ff3800"/><stop offset="0.211" stop-color="#ff4e00"/><stop offset="0.341" stop-color="#ff7400"/><stop offset="0.346" stop-color="#ff9400"/><stop offset="0.371" stop-color="#ff8400"/><stop offset="0.387" stop-color="#ff7900"/><stop offset="0.663" stop-color="#ff6d00"/><stop offset="0.964" stop-color="#ff3800"/><stop offset="1.000" stop-color="#ff3a00"/></linearGradient><linearGradient id="c92"><stop offset="0.000" stop-color="#ff4f00"/><stop offset="0.080" stop-color="#ff3f00"/><stop offset="0.186" stop-color="#ff4700"/><stop offset="0.341" stop-color="#ff7300"/><stop offset="0.346" stop-color="#ffa100"/><stop offset="0.377" stop-color="#ff8a00"/><stop offset="0.392" stop-color="#ff7800"/><stop offset="0.688" stop-color="#ff6500"/><stop offset="0.959" stop-color="#ff3300"/><stop offset="1.000" stop-color="#ff3600"/></linearGradient><linearGradient id="c93"><stop offset="0.000" stop-color="#ff5100"/><stop offset="0.206" stop-color="#ff4f00"/><stop offset="0.341" stop-color="#ff7300"/><stop offset="0.346" stop-color="#ffb000"/><stop offset="0.377" stop-color="#ff9700"/><stop offset="0.397" stop-color="#ff7a00"/><stop offset="0.743" stop-color="#ff5700"/><stop offset="0.959" stop-color="#ff2f00"/><stop offset="1.000" stop-color="#ff3200"/></linearGradient><linearGradient id="c94"><stop offset="0.000" stop-color="#ff5800"/><stop offset="0.241" stop-color="#ff5d00"/><stop offset="0.341" stop-color="#ff7400"/><stop offset="0.346" stop-color="#ffc100"/><stop offset="0.371" stop-color="#ffac00"/><stop offset="0.397" stop-color="#ff8800"/><stop offset="0.432" stop-color="#ff7700"/><stop offset="0.763" stop-color="#ff5000"/><stop offset="0.964" stop-color="#ff2b00"/><stop offset="1.000" stop-color="#ff2e00"/></linearGradient><linearGradient id="c95"><stop offset="0.000" stop-color="#ff6400"/><stop offset="0.281" stop-color="#ff6a00"/><stop offset="0.341" stop-color="#ff7500"/><stop offset="0.346" stop-color="#ffd300"/><stop offset="0.371" stop-color="#ffbe00"/><stop offset="0.397" stop-color="#ff9500"/><stop offset="0.422" stop-color="#ff7f00"/><stop offset="0.442" stop-color="#ff7600"/><stop offset="0.773" stop-color="#ff4c00"/><stop offset="0.964" stop-color="#ff2800"/><stop offset="1.000" stop-color="#ff2a00"/></linearGradient><linearGradient id="c96"><stop offset="0.000" stop-color="#ff7100"/><stop offset="0.341" stop-color="#ff7600"/><stop offset="0.346" stop-color="#ffe400"/><stop offset="0.371" stop-color="#ffcf00"/><stop offset="0.397" stop-color="#ffa200"/><stop offset="0.422" stop-color="#ff8d00"/><stop offset="0.442" stop-color="#ff7700"/><stop offset="0.773" stop-color="#ff4b00"/><stop offset="0.964" stop-color="#ff2500"/><stop offset="1.000" stop-color="#ff2800"/></linearGradient><linearGradient id="c97"><stop offset="0.000" stop-color="#ff8000"/><stop offset="0.341" stop-color="#ff8000"/><stop offset="0.346" stop-color="#fff200"/><stop offset="0.371" stop-color="#ffe100"/><stop offset="0.397" stop-color="#ffb100"/><stop offset="0.427" stop-color="#ff9200"/><stop offset="0.452" stop-color="#ff7900"/><stop offset="0.783" stop-color="#ff4a00"/><stop offset="0.964" stop-color="#ff2400"/><stop offset="1.000" stop-color="#ff2600"/></linearGradient><linearGradient id="c98"><stop offset="0.000" stop-color="#ff8e00"/><stop offset="0.341" stop-color="#ff8e00"/><stop offset="0.346" stop-color="#fdff00"/><stop offset="0.371" stop-color="#fff000"/><stop offset="0.397" stop-color="#ffc200"/><stop offset="0.417" stop-color="#ffb000"/><stop offset="0.447" stop-color="#ff8800"/><stop offset="0.527" stop-color="#ff7300"/><stop offset="0.788" stop-color="#ff4a00"/><stop offset="0.964" stop-color="#ff2300"/><stop offset="1.000" stop-color="#ff2500"/></linearGradient><linearGradient id="c99"><stop offset="0.000" stop-color="#ff9e00"/><stop offset="0.341" stop-color="#ff9e00"/><stop offset="0.346" stop-color="#edff00"/><stop offset="0.371" stop-color="#fffe00"/><stop offset="0.397" stop-color="#ffd400"/><stop offset="0.417" stop-color="#ffc100"/><stop offset="0.442" stop-color="#ff9800"/><stop offset="0.527" stop-color="#ff7600"/><stop offset="0.783" stop-color="#ff4f00"/><stop offset="0.964" stop-color="#ff2300"/><stop offset="1.000" stop-color="#ff2500"/></linearGradient><linearGradient id="c100"><stop offset="0.000" stop-color="#ffb400"/><stop offset="0.341" stop-color="#ffb400"/><stop offset="0.346" stop-color="#d6ff00"/><stop offset="0.371" stop-color="#f1ff00"/><stop offset="0.387" stop-color="#fff100"/><stop offset="0.417" stop-color="#ffd300"/><stop offset="0.442" stop-color="#ffa500"/><stop offset="0.547" stop-color="#ff7900"/><stop offset="0.793" stop-color="#ff5000"/><stop offset="0.964" stop-color="#ff2300"/><stop offset="1.000" stop-color="#ff2400"/></linearGradient><linearGradient id="c101"><stop offset="0.000" stop-color="#ffcb00"/><stop offset="0.341" stop-color="#ffcb00"/><stop offset="0.346" stop-color="#c0ff00"/><stop offset="0.371" stop-color="#dbff00"/><stop offset="0.387" stop-color="#feff00"/><stop offset="0.422" stop-color="#ffdb00"/><stop offset="0.447" stop-color="#ffb100"/><stop offset="0.547" stop-color="#ff8700"/><stop offset="0.628" stop-color="#ff7400"/><stop offset="0.818" stop-color="#ff4c00"/><stop offset="0.969" stop-color="#ff2300"/><stop offset="1.000" stop-color="#ff2400"/></linearGradient><linearGradient id="c102"><stop offset="0.000" stop-color="#ffe200"/><stop offset="0.341" stop-color="#ffe200"/><stop offset="0.346" stop-color="#aaff00"/><stop offset="0.371" stop-color="#c4ff00"/><stop offset="0.392" stop-color="#f8ff00"/><stop offset="0.412" stop-color="#fff900"/><stop offset="0.447" stop-color="#ffc200"/><stop offset="0.542" stop-color="#ff9400"/><stop offset="0.628" stop-color="#ff7800"/><stop offset="0.813" stop-color="#ff5100"/><stop offset="0.964" stop-color="#ff2400"/><stop offset="1.000" stop-color="#ff2400"/></linearGradient><linearGradient id="c103"><stop offset="0.000" stop-color="#fff800"/><stop offset="0.341" stop-color="#fff800"/><stop offset="0.346" stop-color="#93ff00"/><stop offset="0.371" stop-color="#aeff00"/><stop offset="0.397" stop-color="#ebff00"/><stop offset="0.422" stop-color="#fff900"/><stop offset="0.447" stop-color="#ffd400"/><stop offset="0.497" stop-color="#ffb700"/><stop offset="0.542" stop-color="#ffa100"/><stop offset="0.643" stop-color="#ff7a00"/><stop offset="0.818" stop-color="#ff5300"/><stop offset="0.964" stop-color="#ff2500"/><stop offset="1.000" stop-color="#ff2400"/></linearGradient><linearGradient id="c104"><stop offset="0.000" stop-color="#eaff00"/><stop offset="0.341" stop-color="#eaff00"/><stop offset="0.346" stop-color="#7bfd00"/><stop offset="0.371" stop-color="#98ff00"/><stop offset="0.397" stop-color="#d4ff00"/><stop offset="0.412" stop-color="#e2ff00"/><stop offset="0.427" stop-color="#ffff00"/><stop offset="0.447" stop-color="#ffe500"/><stop offset="0.492" stop-color="#ffcd00"/><stop offset="0.542" stop-color="#ffb000"/><stop offset="0.683" stop-color="#ff7800"/><stop offset="0.838" stop-color="#ff4d00"/><stop offset="0.969" stop-color="#ff2400"/><stop offset="1.000" stop-color="#ff2400"/></linearGradient><linearGradient id="c105"><stop offset="0.000" stop-color="#b0ff00"/><stop offset="0.341" stop-color="#b0ff00"/><stop offset="0.346" stop-color="#4cf600"/><stop offset="0.351" stop-color="#54f700"/><stop offset="0.356" stop-color="#6cfa00"/><stop offset="0.371" stop-color="#80fd00"/><stop offset="0.397" stop-color="#beff00"/><stop offset="0.412" stop-color="#ccff00"/><stop offset="0.437" stop-color="#fffd00"/><stop offset="0.542" stop-color="#ffc100"/><stop offset="0.643" stop-color="#ff9400"/><stop offset="0.683" stop-color="#ff7b00"/><stop offset="0.838" stop-color="#ff4f00"/><stop offset="0.969" stop-color="#ff2400"/><stop offset="1.000" stop-color="#ff2400"/></linearGradient><linearGradient id="c106"><stop offset="0.000" stop-color="#76fc00"/><stop offset="0.341" stop-color="#76fc00"/><stop offset="0.346" stop-color="#1def00"/><stop offset="0.366" stop-color="#3ff400"/><stop offset="0.371" stop-color="#54f700"/><stop offset="0.377" stop-color="#76fc00"/><stop offset="0.392" stop-color="#a0ff00"/><stop offset="0.417" stop-color="#c0ff00"/><stop offset="0.442" stop-color="#f9ff00"/><stop offset="0.482" stop-color="#fff500"/><stop offset="0.542" stop-color="#ffd300"/><stop offset="0.638" stop-color="#ffa100"/><stop offset="0.668" stop-color="#ff8f00"/><stop offset="0.688" stop-color="#ff7d00"/><stop offset="0.838" stop-color="#ff5100"/><stop offset="0.964" stop-color="#ff2400"/><stop offset="1.000" stop-color="#ff2300"/></linearGradient><linearGradient id="c107"><stop offset="0.000" stop-color="#40f400"/><stop offset="0.301" stop-color="#3af300"/><stop offset="0.341" stop-color="#2af100"/><stop offset="0.346" stop-color="#00ee14"/><stop offset="0.356" stop-color="#00eb00"/><stop offset="0.366" stop-color="#10ed00"/><stop offset="0.377" stop-color="#42f400"/><stop offset="0.382" stop-color="#6dfb00"/><stop offset="0.397" stop-color="#91ff00"/><stop offset="0.412" stop-color="#9fff00"/><stop offset="0.442" stop-color="#e6ff00"/><stop offset="0.497" stop-color="#fff900"/><stop offset="0.552" stop-color="#ffe200"/><stop offset="0.638" stop-color="#ffb000"/><stop offset="0.673" stop-color="#ff9600"/><stop offset="0.698" stop-color="#ff7d00"/><stop offset="0.843" stop-color="#ff5000"/><stop offset="0.969" stop-color="#ff2300"/><stop offset="1.000" stop-color="#ff2200"/></linearGradient><linearGradient id="c108"><stop offset="0.000" stop-color="#0fed00"/><stop offset="0.301" stop-color="#08ec00"/><stop offset="0.341" stop-color="#00ed0d"/><stop offset="0.346" stop-color="#00ef1f"/><stop offset="0.366" stop-color="#00ee14"/><stop offset="0.371" stop-color="#00ec05"/><stop offset="0.382" stop-color="#32f200"/><stop offset="0.392" stop-color="#71fb00"/><stop offset="0.412" stop-color="#88fe00"/><stop offset="0.442" stop-color="#cfff00"/><stop offset="0.517" stop-color="#fffa00"/><stop offset="0.592" stop-color="#ffdb00"/><stop offset="0.643" stop-color="#ffc100"/><stop offset="0.678" stop-color="#ff9c00"/><stop offset="0.708" stop-color="#ff7c00"/><stop offset="0.848" stop-color="#ff4e00"/><stop offset="0.969" stop-color="#ff2200"/><stop offset="1.000" stop-color="#ff2100"/></linearGradient><linearGradient id="c109"><stop offset="0.000" stop-color="#00ed10"/><stop offset="0.296" stop-color="#00ee15"/><stop offset="0.341" stop-color="#00f232"/><stop offset="0.346" stop-color="#00f025"/><stop offset="0.366" stop-color="#00ee19"/><stop offset="0.377" stop-color="#08ec00"/><stop offset="0.397" stop-color="#4df600"/><stop offset="0.407" stop-color="#5df800"/><stop offset="0.442" stop-color="#b9ff00"/><stop offset="0.492" stop-color="#ddff00"/><stop offset="0.527" stop-color="#fbff00"/><stop offset="0.577" stop-color="#fff400"/><stop offset="0.658" stop-color="#ffc800"/><stop offset="0.713" stop-color="#ff7f00"/><stop offset="0.868" stop-color="#ff4400"/><stop offset="0.979" stop-color="#ff2100"/><stop offset="1.000" stop-color="#ff2000"/></linearGradient><linearGradient id="c110"><stop offset="0.000" stop-color="#00ee19"/><stop offset="0.296" stop-color="#00ef20"/><stop offset="0.341" stop-color="#00f442"/><stop offset="0.346" stop-color="#00f12c"/><stop offset="0.361" stop-color="#00f029"/><stop offset="0.377" stop-color="#04ec00"/><stop offset="0.397" stop-color="#48f500"/><stop offset="0.417" stop-color="#58f800"/><stop offset="0.427" stop-color="#7ffd00"/><stop offset="0.447" stop-color="#a8ff00"/><stop offset="0.487" stop-color="#c2ff00"/><stop offset="0.532" stop-color="#ebff00"/><stop offset="0.592" stop-color="#fff900"/><stop offset="0.658" stop-color="#ffdb00"/><stop offset="0.708" stop-color="#ff9100"/><stop offset="0.768" stop-color="#ff6f00"/><stop offset="0.964" stop-color="#ff2200"/><stop offset="1.000" stop-color="#ff2000"/></linearGradient><linearGradient id="c111"><stop offset="0.000" stop-color="#00ef1a"/><stop offset="0.296" stop-color="#00ef22"/><stop offset="0.341" stop-color="#00f549"/><stop offset="0.346" stop-color="#00f234"/><stop offset="0.361" stop-color="#00f130"/><stop offset="0.377" stop-color="#00eb01"/><stop offset="0.397" stop-color="#46f500"/><stop offset="0.427" stop-color="#60f900"/><stop offset="0.442" stop-color="#8cff00"/><stop offset="0.492" stop-color="#b1ff00"/><stop offset="0.537" stop-color="#d6ff00"/><stop offset="0.577" stop-color="#eaff00"/><stop offset="0.617" stop-color="#fff900"/><stop offset="0.663" stop-color="#ffe400"/><stop offset="0.708" stop-color="#ff9e00"/><stop offset="0.743" stop-color="#ff8900"/><stop offset="0.763" stop-color="#ff7100"/><stop offset="0.964" stop-color="#ff2100"/><stop offset="1.000" stop-color="#ff1f00"/></linearGradient><linearGradient id="c112"><stop offset="0.000" stop-color="#00ef1c"/><stop offset="0.296" stop-color="#00f023"/><stop offset="0.341" stop-color="#00f651"/><stop offset="0.346" stop-color="#00f33c"/><stop offset="0.361" stop-color="#00f238"/><stop offset="0.377" stop-color="#00ec07"/><stop offset="0.397" stop-color="#43f500"/><stop offset="0.437" stop-color="#67fa00"/><stop offset="0.452" stop-color="#7bfd00"/><stop offset="0.497" stop-color="#a0ff00"/><stop offset="0.537" stop-color="#bfff00"/><stop offset="0.577" stop-color="#d4ff00"/><stop offset="0.622" stop-color="#faff00"/><stop offset="0.658" stop-color="#fff900"/><stop offset="0.713" stop-color="#ffa600"/><stop offset="0.743" stop-color="#ff9600"/><stop offset="0.763" stop-color="#ff7100"/><stop offset="0.964" stop-color="#ff2100"/><stop offset="1.000" stop-color="#ff1e00"/></linearGradient><linearGradient id="c113"><stop offset="0.000" stop-color="#00ef1d"/><stop offset="0.281" stop-color="#00ef21"/><stop offset="0.306" stop-color="#00f12f"/><stop offset="0.341" stop-color="#00f75a"/><stop offset="0.346" stop-color="#00f445"/><stop offset="0.361" stop-color="#00f440"/><stop offset="0.371" stop-color="#00f023"/><stop offset="0.382" stop-color="#0bed00"/><stop offset="0.397" stop-color="#41f400"/><stop offset="0.447" stop-color="#6afa00"/><stop offset="0.472" stop-color="#6cfa00"/><stop offset="0.532" stop-color="#a8ff00"/><stop offset="0.577" stop-color="#beff00"/><stop offset="0.633" stop-color="#ebff00"/><stop offset="0.668" stop-color="#fffc00"/><stop offset="0.718" stop-color="#ffb300"/><stop offset="0.743" stop-color="#ffa300"/><stop offset="0.773" stop-color="#ff6e00"/><stop offset="0.964" stop-color="#ff2100"/><stop offset="1.000" stop-color="#ff1e00"/></linearGradient><linearGradient id="c114"><stop offset="0.000" stop-color="#00ef1f"/><stop offset="0.251" stop-color="#00f026"/><stop offset="0.296" stop-color="#00f027"/><stop offset="0.341" stop-color="#00f862"/><stop offset="0.346" stop-color="#00f54e"/><stop offset="0.361" stop-color="#00f548"/><stop offset="0.371" stop-color="#00f12a"/><stop offset="0.382" stop-color="#06ec00"/><stop offset="0.397" stop-color="#3ef400"/><stop offset="0.442" stop-color="#68fa00"/><stop offset="0.487" stop-color="#5ff900"/><stop offset="0.527" stop-color="#8fff00"/><stop offset="0.577" stop-color="#a7ff00"/><stop offset="0.633" stop-color="#d5ff00"/><stop offset="0.658" stop-color="#e3ff00"/><stop offset="0.678" stop-color="#fffc00"/><stop offset="0.718" stop-color="#ffc400"/><stop offset="0.743" stop-color="#ffb200"/><stop offset="0.778" stop-color="#ff6d00"/><stop offset="0.959" stop-color="#ff2200"/><stop offset="1.000" stop-color="#ff1e00"/></linearGradient><linearGradient id="c115"><stop offset="0.000" stop-color="#00ef21"/><stop offset="0.226" stop-color="#00f12c"/><stop offset="0.296" stop-color="#00f029"/><stop offset="0.341" stop-color="#00f96b"/><stop offset="0.346" stop-color="#00f757"/><stop offset="0.361" stop-color="#00f651"/><stop offset="0.371" stop-color="#00f231"/><stop offset="0.382" stop-color="#01eb00"/><stop offset="0.397" stop-color="#3cf400"/><stop offset="0.442" stop-color="#68fa00"/><stop offset="0.497" stop-color="#5af800"/><stop offset="0.507" stop-color="#5cf800"/><stop offset="0.527" stop-color="#76fc00"/><stop offset="0.572" stop-color="#8cff00"/><stop offset="0.633" stop-color="#beff00"/><stop offset="0.658" stop-color="#cdff00"/><stop offset="0.683" stop-color="#fcff00"/><stop offset="0.723" stop-color="#ffd400"/><stop offset="0.743" stop-color="#ffc300"/><stop offset="0.788" stop-color="#ff6a00"/><stop offset="0.959" stop-color="#ff2200"/><stop offset="1.000" stop-color="#ff1e00"/></linearGradient><linearGradient id="c116"><stop offset="0.000" stop-color="#00f024"/><stop offset="0.206" stop-color="#00f233"/><stop offset="0.296" stop-color="#00f12b"/><stop offset="0.341" stop-color="#00fa74"/><stop offset="0.346" stop-color="#00f860"/><stop offset="0.361" stop-color="#00f75a"/><stop offset="0.371" stop-color="#00f338"/><stop offset="0.382" stop-color="#00ec05"/><stop offset="0.397" stop-color="#39f300"/><stop offset="0.437" stop-color="#64f900"/><stop offset="0.482" stop-color="#61f900"/><stop offset="0.527" stop-color="#52f700"/><stop offset="0.572" stop-color="#73fb00"/><stop offset="0.633" stop-color="#a8ff00"/><stop offset="0.658" stop-color="#b7ff00"/><stop offset="0.693" stop-color="#fcff00"/><stop offset="0.728" stop-color="#ffe400"/><stop offset="0.748" stop-color="#ffcb00"/><stop offset="0.788" stop-color="#ff7a00"/><stop offset="0.803" stop-color="#ff6500"/><stop offset="0.843" stop-color="#ff6000"/><stop offset="0.848" stop-color="#ff5000"/><stop offset="0.969" stop-color="#ff2000"/><stop offset="1.000" stop-color="#ff1f00"/></linearGradient><linearGradient id="c117"><stop offset="0.000" stop-color="#00f027"/><stop offset="0.196" stop-color="#00f33a"/><stop offset="0.296" stop-color="#00f12e"/><stop offset="0.341" stop-color="#00fc7d"/><stop offset="0.346" stop-color="#00f969"/><stop offset="0.356" stop-color="#00f967"/><stop offset="0.361" stop-color="#00ffa1"/><stop offset="0.366" stop-color="#00ffa1"/><stop offset="0.371" stop-color="#00f33f"/><stop offset="0.382" stop-color="#00ec0a"/><stop offset="0.392" stop-color="#26f000"/><stop offset="0.407" stop-color="#46f500"/><stop offset="0.447" stop-color="#68fa00"/><stop offset="0.552" stop-color="#4bf600"/><stop offset="0.572" stop-color="#4ef600"/><stop offset="0.607" stop-color="#80fd00"/><stop offset="0.658" stop-color="#a0ff00"/><stop offset="0.703" stop-color="#fcff00"/><stop offset="0.743" stop-color="#ffe600"/><stop offset="0.788" stop-color="#ff8800"/><stop offset="0.813" stop-color="#ff7900"/><stop offset="0.838" stop-color="#ff7800"/><stop offset="0.848" stop-color="#ff5000"/><stop offset="0.969" stop-color="#ff2100"/><stop offset="1.000" stop-color="#ff1f00"/></linearGradient><linearGradient id="c118"><stop offset="0.000" stop-color="#00f12a"/><stop offset="0.181" stop-color="#00f442"/><stop offset="0.301" stop-color="#00f236"/><stop offset="0.341" stop-color="#00fd85"/><stop offset="0.346" stop-color="#00fa71"/><stop offset="0.356" stop-color="#00fa6f"/><stop offset="0.361" stop-color="#00ffe2"/><stop offset="0.366" stop-color="#00ffe2"/><stop offset="0.371" stop-color="#00f967"/><stop offset="0.377" stop-color="#00f12b"/><stop offset="0.382" stop-color="#00ed0e"/><stop offset="0.387" stop-color="#0ded00"/><stop offset="0.397" stop-color="#34f200"/><stop offset="0.432" stop-color="#60f900"/><stop offset="0.472" stop-color="#64f900"/><stop offset="0.547" stop-color="#4bf600"/><stop offset="0.597" stop-color="#52f700"/><stop offset="0.622" stop-color="#74fc00"/><stop offset="0.653" stop-color="#82fe00"/><stop offset="0.713" stop-color="#f8ff00"/><stop offset="0.738" stop-color="#fffb00"/><stop offset="0.763" stop-color="#ffca00"/><stop offset="0.788" stop-color="#ff9500"/><stop offset="0.813" stop-color="#ff8700"/><stop offset="0.833" stop-color="#ff8700"/><stop offset="0.848" stop-color="#ff5100"/><stop offset="0.964" stop-color="#ff2300"/><stop offset="1.000" stop-color="#ff2000"/></linearGradient><linearGradient id="c119"><stop offset="0.000" stop-color="#00f12d"/><stop offset="0.176" stop-color="#00f54a"/><stop offset="0.301" stop-color="#00f238"/><stop offset="0.341" stop-color="#00fe8c"/><stop offset="0.346" stop-color="#00fb79"/><stop offset="0.351" stop-color="#00fb79"/><stop offset="0.356" stop-color="#00ffa6"/><stop offset="0.361" stop-color="#00d7ff"/><stop offset="0.366" stop-color="#00d7ff"/><stop offset="0.371" stop-color="#00ffa6"/><stop offset="0.377" stop-color="#00f130"/><stop offset="0.387" stop-color="#09ec00"/><stop offset="0.397" stop-color="#32f200"/><stop offset="0.427" stop-color="#5bf800"/><stop offset="0.462" stop-color="#66fa00"/><stop offset="0.547" stop-color="#4bf600"/><stop offset="0.648" stop-color="#5ff900"/><stop offset="0.713" stop-color="#e3ff00"/><stop offset="0.748" stop-color="#fffb00"/><stop offset="0.788" stop-color="#ffa200"/><stop offset="0.813" stop-color="#ff9400"/><stop offset="0.833" stop-color="#ff8d00"/><stop offset="0.848" stop-color="#ff5200"/><stop offset="0.964" stop-color="#ff2400"/><stop offset="1.000" stop-color="#ff2100"/></linearGradient><linearGradient id="c120"><stop offset="0.000" stop-color="#00f131"/><stop offset="0.166" stop-color="#00f652"/><stop offset="0.301" stop-color="#00f33b"/><stop offset="0.341" stop-color="#00fe92"/><stop offset="0.346" stop-color="#00fc7f"/><stop offset="0.351" stop-color="#00fc80"/><stop offset="0.356" stop-color="#00ffd0"/><stop offset="0.361" stop-color="#0093ff"/><stop offset="0.366" stop-color="#0093ff"/><stop offset="0.371" stop-color="#00ffd0"/><stop offset="0.377" stop-color="#00f234"/><stop offset="0.387" stop-color="#06ec00"/><stop offset="0.397" stop-color="#30f200"/><stop offset="0.427" stop-color="#5af800"/><stop offset="0.462" stop-color="#66fa00"/><stop offset="0.547" stop-color="#4bf600"/><stop offset="0.653" stop-color="#5bf800"/><stop offset="0.673" stop-color="#77fc00"/><stop offset="0.708" stop-color="#c6ff00"/><stop offset="0.738" stop-color="#e0ff00"/><stop offset="0.753" stop-color="#feff00"/><stop offset="0.793" stop-color="#ffa900"/><stop offset="0.828" stop-color="#ff9f00"/><stop offset="0.848" stop-color="#ff5300"/><stop offset="0.964" stop-color="#ff2500"/><stop offset="1.000" stop-color="#ff2200"/></linearGradient><linearGradient id="c121"><stop offset="0.000" stop-color="#00f234"/><stop offset="0.070" stop-color="#00f654"/><stop offset="0.136" stop-color="#00fa6e"/><stop offset="0.301" stop-color="#00f33f"/><stop offset="0.331" stop-color="#00fd85"/><stop offset="0.336" stop-color="#00ffc9"/><stop offset="0.341" stop-color="#00ff9d"/><stop offset="0.346" stop-color="#00fd84"/><stop offset="0.351" stop-color="#00fd85"/><stop offset="0.356" stop-color="#00fff2"/><stop offset="0.361" stop-color="#0066ff"/><stop offset="0.366" stop-color="#0066ff"/><stop offset="0.371" stop-color="#00fff2"/><stop offset="0.377" stop-color="#00f238"/><stop offset="0.387" stop-color="#04ec00"/><stop offset="0.397" stop-color="#2ff200"/><stop offset="0.422" stop-color="#55f700"/><stop offset="0.462" stop-color="#65f900"/><stop offset="0.547" stop-color="#4bf600"/><stop offset="0.653" stop-color="#5bf800"/><stop offset="0.723" stop-color="#bfff00"/><stop offset="0.738" stop-color="#caff00"/><stop offset="0.763" stop-color="#fffa00"/><stop offset="0.798" stop-color="#ffb400"/><stop offset="0.823" stop-color="#ffae00"/><stop offset="0.848" stop-color="#ff5400"/><stop offset="0.964" stop-color="#ff2600"/><stop offset="1.000" stop-color="#ff2400"/></linearGradient><linearGradient id="c122"><stop offset="0.000" stop-color="#00f237"/><stop offset="0.120" stop-color="#00fe92"/><stop offset="0.171" stop-color="#00fd8a"/><stop offset="0.236" stop-color="#00f758"/><stop offset="0.306" stop-color="#00f447"/><stop offset="0.326" stop-color="#00fb7b"/><stop offset="0.331" stop-color="#00ffbd"/><stop offset="0.336" stop-color="#00f6ff"/><stop offset="0.341" stop-color="#00ffd4"/><stop offset="0.346" stop-color="#00fd87"/><stop offset="0.351" stop-color="#00fd88"/><stop offset="0.356" stop-color="#00f3ff"/><stop offset="0.361" stop-color="#0049ff"/><stop offset="0.366" stop-color="#0049ff"/><stop offset="0.371" stop-color="#00f3ff"/><stop offset="0.377" stop-color="#00f33a"/><stop offset="0.387" stop-color="#03eb00"/><stop offset="0.397" stop-color="#2ef200"/><stop offset="0.422" stop-color="#54f700"/><stop offset="0.462" stop-color="#65f900"/><stop offset="0.547" stop-color="#4af600"/><stop offset="0.653" stop-color="#5bf800"/><stop offset="0.718" stop-color="#b0ff00"/><stop offset="0.743" stop-color="#c0ff00"/><stop offset="0.768" stop-color="#fffe00"/><stop offset="0.798" stop-color="#ffc500"/><stop offset="0.818" stop-color="#ffbb00"/><stop offset="0.838" stop-color="#ff7800"/><stop offset="0.848" stop-color="#ff5500"/><stop offset="0.964" stop-color="#ff2800"/><stop offset="1.000" stop-color="#ff2500"/></linearGradient><linearGradient id="c123"><stop offset="0.000" stop-color="#00f33e"/><stop offset="0.095" stop-color="#00ffa5"/><stop offset="0.146" stop-color="#00ffb4"/><stop offset="0.201" stop-color="#00ff94"/><stop offset="0.251" stop-color="#00f75a"/><stop offset="0.306" stop-color="#00f547"/><stop offset="0.326" stop-color="#00fc7d"/><stop offset="0.331" stop-color="#00ffe5"/><stop offset="0.336" stop-color="#00bdff"/><stop offset="0.341" stop-color="#00fffe"/><stop offset="0.346" stop-color="#00fd89"/><stop offset="0.351" stop-color="#00fd8a"/><stop offset="0.356" stop-color="#00e6ff"/><stop offset="0.361" stop-color="#003cff"/><stop offset="0.366" stop-color="#003cff"/><stop offset="0.371" stop-color="#00e6ff"/><stop offset="0.377" stop-color="#00f33b"/><stop offset="0.387" stop-color="#02eb00"/><stop offset="0.397" stop-color="#2ef200"/><stop offset="0.422" stop-color="#53f700"/><stop offset="0.462" stop-color="#64f900"/><stop offset="0.547" stop-color="#4af600"/><stop offset="0.653" stop-color="#5bf800"/><stop offset="0.718" stop-color="#b0ff00"/><stop offset="0.743" stop-color="#c0ff00"/><stop offset="0.773" stop-color="#fffe00"/><stop offset="0.798" stop-color="#ffcc00"/><stop offset="0.818" stop-color="#ffbb00"/><stop offset="0.838" stop-color="#ff7800"/><stop offset="0.848" stop-color="#ff5600"/><stop offset="0.964" stop-color="#ff2a00"/><stop offset="1.000" stop-color="#ff2700"/></linearGradient><linearGradient id="c124"><stop offset="0.000" stop-color="#00f549"/><stop offset="0.080" stop-color="#00ffb3"/><stop offset="0.131" stop-color="#00ffd5"/><stop offset="0.176" stop-color="#00ffc5"/><stop offset="0.231" stop-color="#00fd86"/><stop offset="0.266" stop-color="#00f758"/><stop offset="0.306" stop-color="#00f549"/><stop offset="0.326" stop-color="#00fc7d"/><stop offset="0.331" stop-color="#00fffb"/><stop offset="0.336" stop-color="#009dff"/><stop offset="0.341" stop-color="#00e4ff"/><stop offset="0.346" stop-color="#00fd89"/><stop offset="0.351" stop-color="#00fd8a"/><stop offset="0.356" stop-color="#00e9ff"/><stop offset="0.361" stop-color="#003fff"/><stop offset="0.366" stop-color="#003fff"/><stop offset="0.371" stop-color="#00e9ff"/><stop offset="0.377" stop-color="#00f33b"/><stop offset="0.387" stop-color="#02eb00"/><stop offset="0.397" stop-color="#2df100"/><stop offset="0.422" stop-color="#52f700"/><stop offset="0.462" stop-color="#64f900"/><stop offset="0.547" stop-color="#4af600"/><stop offset="0.653" stop-color="#5bf800"/><stop offset="0.718" stop-color="#b0ff00"/><stop offset="0.743" stop-color="#c0ff00"/><stop offset="0.773" stop-color="#fffe00"/><stop offset="0.798" stop-color="#ffcc00"/><stop offset="0.818" stop-color="#ffbb00"/><stop offset="0.838" stop-color="#ff7800"/><stop offset="0.848" stop-color="#ff5800"/><stop offset="0.964" stop-color="#ff2c00"/><stop offset="1.000" stop-color="#ff2900"/></linearGradient><linearGradient id="c125"><stop offset="0.000" stop-color="#00f653"/><stop offset="0.085" stop-color="#00ffd1"/><stop offset="0.131" stop-color="#00fff3"/><stop offset="0.171" stop-color="#00ffe4"/><stop offset="0.241" stop-color="#00fd89"/><stop offset="0.271" stop-color="#00f759"/><stop offset="0.306" stop-color="#00f54b"/><stop offset="0.326" stop-color="#00fb7c"/><stop offset="0.331" stop-color="#00fffd"/><stop offset="0.336" stop-color="#009aff"/><stop offset="0.341" stop-color="#00e1ff"/><stop offset="0.346" stop-color="#00fd88"/><stop offset="0.351" stop-color="#00fd89"/><stop offset="0.356" stop-color="#00fdff"/><stop offset="0.361" stop-color="#0053ff"/><stop offset="0.366" stop-color="#0053ff"/><stop offset="0.371" stop-color="#00fdff"/><stop offset="0.377" stop-color="#00f33a"/><stop offset="0.387" stop-color="#02eb00"/><stop offset="0.397" stop-color="#2ef200"/><stop offset="0.417" stop-color="#4ef600"/><stop offset="0.457" stop-color="#64f900"/><stop offset="0.552" stop-color="#4bf600"/><stop offset="0.653" stop-color="#5bf800"/><stop offset="0.718" stop-color="#b0ff00"/><stop offset="0.743" stop-color="#c0ff00"/><stop offset="0.773" stop-color="#fffe00"/><stop offset="0.798" stop-color="#ffcc00"/><stop offset="0.818" stop-color="#ffbb00"/><stop offset="0.838" stop-color="#ff7800"/><stop offset="0.843" stop-color="#ff6200"/><stop offset="0.924" stop-color="#ff3800"/><stop offset="1.000" stop-color="#ff2c00"/></linearGradient><linearGradient id="c126"><stop offset="0.000" stop-color="#00f75b"/><stop offset="0.090" stop-color="#00ffea"/><stop offset="0.115" stop-color="#00faff"/><stop offset="0.146" stop-color="#00f2ff"/><stop offset="0.171" stop-color="#00fffa"/><stop offset="0.246" stop-color="#00fe8d"/><stop offset="0.281" stop-color="#00f757"/><stop offset="0.306" stop-color="#00f54c"/><stop offset="0.326" stop-color="#00fb79"/><stop offset="0.331" stop-color="#00ffeb"/><stop offset="0.336" stop-color="#00b4ff"/><stop offset="0.341" stop-color="#00f9ff"/><stop offset="0.346" stop-color="#00fd85"/><stop offset="0.351" stop-color="#00fd85"/><stop offset="0.356" stop-color="#00ffe5"/><stop offset="0.361" stop-color="#0075ff"/><stop offset="0.366" stop-color="#0075ff"/><stop offset="0.371" stop-color="#00ffe5"/><stop offset="0.377" stop-color="#00f338"/><stop offset="0.387" stop-color="#04ec00"/><stop offset="0.397" stop-color="#2ff200"/><stop offset="0.417" stop-color="#4df600"/><stop offset="0.457" stop-color="#64f900"/><stop offset="0.552" stop-color="#4bf600"/><stop offset="0.653" stop-color="#5bf800"/><stop offset="0.718" stop-color="#b0ff00"/><stop offset="0.743" stop-color="#c0ff00"/><stop offset="0.773" stop-color="#fffe00"/><stop offset="0.798" stop-color="#ffcc00"/><stop offset="0.818" stop-color="#ffbb00"/><stop offset="0.838" stop-color="#ff7800"/><stop offset="0.843" stop-color="#ff6200"/><stop offset="0.949" stop-color="#ff3300"/><stop offset="1.000" stop-color="#ff2e00"/></linearGradient><linearGradient id="c127"><stop offset="0.000" stop-color="#00f85f"/><stop offset="0.090" stop-color="#00fff4"/><stop offset="0.110" stop-color="#00f1ff"/><stop offset="0.141" stop-color="#00e1ff"/><stop offset="0.181" stop-color="#00fff9"/><stop offset="0.281" stop-color="#00f757"/><stop offset="0.311" stop-color="#00f650"/><stop offset="0.326" stop-color="#00fb76"/><stop offset="0.331" stop-color="#00ffc6"/><stop offset="0.336" stop-color="#00e9ff"/><stop offset="0.341" stop-color="#00ffde"/><stop offset="0.346" stop-color="#00fc80"/><stop offset="0.351" stop-color="#00fc81"/><stop offset="0.356" stop-color="#00ffc0"/><stop offset="0.361" stop-color="#00adff"/><stop offset="0.366" stop-color="#00adff"/><stop offset="0.371" stop-color="#00ffc0"/><stop offset="0.377" stop-color="#00f235"/><stop offset="0.387" stop-color="#06ec00"/><stop offset="0.397" stop-color="#30f200"/><stop offset="0.422" stop-color="#51f700"/><stop offset="0.462" stop-color="#63f900"/><stop offset="0.547" stop-color="#4af600"/><stop offset="0.653" stop-color="#5bf800"/><stop offset="0.718" stop-color="#b0ff00"/><stop offset="0.743" stop-color="#c0ff00"/><stop offset="0.773" stop-color="#fffe00"/><stop offset="0.798" stop-color="#ffcc00"/><stop offset="0.818" stop-color="#ffbb00"/><stop offset="0.838" stop-color="#ff7800"/><stop offset="0.843" stop-color="#ff6200"/><stop offset="0.959" stop-color="#ff3300"/><stop offset="1.000" stop-color="#ff3000"/></linearGradient><linearGradient id="c128"><stop offset="0.000" stop-color="#00f85e"/><stop offset="0.095" stop-color="#00fff9"/><stop offset="0.136" stop-color="#00e3ff"/><stop offset="0.166" stop-color="#00f3ff"/><stop offset="0.186" stop-color="#00fff1"/><stop offset="0.281" stop-color="#00f656"/><stop offset="0.311" stop-color="#00f54d"/><stop offset="0.326" stop-color="#00fa71"/><stop offset="0.331" stop-color="#00ff92"/><stop offset="0.336" stop-color="#00ffd6"/><stop offset="0.341" stop-color="#00ffa9"/><stop offset="0.346" stop-color="#00f650"/><stop offset="0.351" stop-color="#00f651"/><stop offset="0.356" stop-color="#00fe92"/><stop offset="0.361" stop-color="#00f5ff"/><stop offset="0.366" stop-color="#00f5ff"/><stop offset="0.371" stop-color="#00fe92"/><stop offset="0.377" stop-color="#00ed10"/><stop offset="0.382" stop-color="#09ec00"/><stop offset="0.397" stop-color="#43f500"/><stop offset="0.407" stop-color="#56f700"/><stop offset="0.412" stop-color="#6dfb00"/><stop offset="0.457" stop-color="#82fe00"/><stop offset="0.507" stop-color="#63f900"/><stop offset="0.547" stop-color="#50f600"/><stop offset="0.653" stop-color="#5bf800"/><stop offset="0.718" stop-color="#b0ff00"/><stop offset="0.743" stop-color="#c0ff00"/><stop offset="0.773" stop-color="#fffe00"/><stop offset="0.798" stop-color="#ffcc00"/><stop offset="0.818" stop-color="#ffbb00"/><stop offset="0.838" stop-color="#ff7800"/><stop offset="0.843" stop-color="#ff6200"/><stop offset="0.964" stop-color="#ff3500"/><stop offset="1.000" stop-color="#ff3300"/></linearGradient><linearGradient id="c129"><stop offset="0.000" stop-color="#00f759"/><stop offset="0.085" stop-color="#00ffe0"/><stop offset="0.120" stop-color="#00fbff"/><stop offset="0.151" stop-color="#00f9ff"/><stop offset="0.181" stop-color="#00ffeb"/><stop offset="0.256" stop-color="#00fb78"/><stop offset="0.281" stop-color="#00f653"/><stop offset="0.311" stop-color="#00f54a"/><stop offset="0.331" stop-color="#00fb77"/><stop offset="0.336" stop-color="#00fe8f"/><stop offset="0.341" stop-color="#00fd86"/><stop offset="0.346" stop-color="#00ef1b"/><stop offset="0.351" stop-color="#00ef1c"/><stop offset="0.356" stop-color="#00f549"/><stop offset="0.361" stop-color="#00ffc9"/><stop offset="0.366" stop-color="#00ffc9"/><stop offset="0.371" stop-color="#00f549"/><stop offset="0.377" stop-color="#21f000"/><stop offset="0.382" stop-color="#72fb00"/><stop offset="0.412" stop-color="#86fe00"/><stop offset="0.457" stop-color="#99ff00"/><stop offset="0.547" stop-color="#75fc00"/><stop offset="0.638" stop-color="#56f700"/><stop offset="0.663" stop-color="#66fa00"/><stop offset="0.713" stop-color="#acff00"/><stop offset="0.743" stop-color="#c0ff00"/><stop offset="0.773" stop-color="#fffe00"/><stop offset="0.798" stop-color="#ffcc00"/><stop offset="0.818" stop-color="#ffbb00"/><stop offset="0.838" stop-color="#ff7800"/><stop offset="0.843" stop-color="#ff6200"/><stop offset="0.974" stop-color="#ff3700"/><stop offset="1.000" stop-color="#ff3600"/></linearGradient><linearGradient id="c130"><stop offset="0.000" stop-color="#00f651"/><stop offset="0.085" stop-color="#00ffcc"/><stop offset="0.131" stop-color="#00ffed"/><stop offset="0.171" stop-color="#00ffdf"/><stop offset="0.241" stop-color="#00fd85"/><stop offset="0.276" stop-color="#00f652"/><stop offset="0.311" stop-color="#00f446"/><stop offset="0.341" stop-color="#00fc7e"/><stop offset="0.346" stop-color="#76fc00"/><stop offset="0.351" stop-color="#76fc00"/><stop offset="0.356" stop-color="#04ec00"/><stop offset="0.361" stop-color="#00fc7f"/><stop offset="0.366" stop-color="#00fc7f"/><stop offset="0.371" stop-color="#04ec00"/><stop offset="0.377" stop-color="#84fe00"/><stop offset="0.402" stop-color="#9aff00"/><stop offset="0.457" stop-color="#b0ff00"/><stop offset="0.547" stop-color="#8eff00"/><stop offset="0.648" stop-color="#77fc00"/><stop offset="0.723" stop-color="#bbff00"/><stop offset="0.743" stop-color="#caff00"/><stop offset="0.768" stop-color="#fffd00"/><stop offset="0.793" stop-color="#ffc900"/><stop offset="0.818" stop-color="#ffbb00"/><stop offset="0.838" stop-color="#ff7800"/><stop offset="0.843" stop-color="#ff6300"/><stop offset="0.979" stop-color="#ff3900"/><stop offset="1.000" stop-color="#ff3900"/></linearGradient><linearGradient id="c131"><stop offset="0.000" stop-color="#00f447"/><stop offset="0.085" stop-color="#00ffb3"/><stop offset="0.136" stop-color="#00ffcf"/><stop offset="0.181" stop-color="#00ffbb"/><stop offset="0.231" stop-color="#00fc81"/><stop offset="0.271" stop-color="#00f64f"/><stop offset="0.311" stop-color="#00f442"/><stop offset="0.341" stop-color="#00fb76"/><stop offset="0.346" stop-color="#8fff00"/><stop offset="0.351" stop-color="#8fff00"/><stop offset="0.356" stop-color="#4df600"/><stop offset="0.361" stop-color="#00ef1f"/><stop offset="0.366" stop-color="#00ef1f"/><stop offset="0.371" stop-color="#4df600"/><stop offset="0.377" stop-color="#9bff00"/><stop offset="0.402" stop-color="#b0ff00"/><stop offset="0.457" stop-color="#c6ff00"/><stop offset="0.547" stop-color="#a5ff00"/><stop offset="0.648" stop-color="#90ff00"/><stop offset="0.723" stop-color="#d1ff00"/><stop offset="0.743" stop-color="#e0ff00"/><stop offset="0.758" stop-color="#feff00"/><stop offset="0.788" stop-color="#ffc000"/><stop offset="0.823" stop-color="#ffae00"/><stop offset="0.843" stop-color="#ff6500"/><stop offset="0.984" stop-color="#ff3b00"/><stop offset="1.000" stop-color="#ff3b00"/></linearGradient><linearGradient id="c132"><stop offset="0.000" stop-color="#00f236"/><stop offset="0.110" stop-color="#00ff99"/><stop offset="0.161" stop-color="#00ff95"/><stop offset="0.231" stop-color="#00f443"/><stop offset="0.261" stop-color="#00f025"/><stop offset="0.291" stop-color="#00f443"/><stop offset="0.311" stop-color="#00f33e"/><stop offset="0.341" stop-color="#00fa6d"/><stop offset="0.346" stop-color="#a5ff00"/><stop offset="0.351" stop-color="#a5ff00"/><stop offset="0.356" stop-color="#93ff00"/><stop offset="0.361" stop-color="#3bf300"/><stop offset="0.366" stop-color="#3bf300"/><stop offset="0.371" stop-color="#93ff00"/><stop offset="0.377" stop-color="#b1ff00"/><stop offset="0.402" stop-color="#c7ff00"/><stop offset="0.457" stop-color="#dcff00"/><stop offset="0.547" stop-color="#bbff00"/><stop offset="0.648" stop-color="#a6ff00"/><stop offset="0.723" stop-color="#e8ff00"/><stop offset="0.743" stop-color="#f7ff00"/><stop offset="0.753" stop-color="#fff500"/><stop offset="0.778" stop-color="#ffbf00"/><stop offset="0.808" stop-color="#ffa700"/><stop offset="0.823" stop-color="#ffa700"/><stop offset="0.833" stop-color="#ff8d00"/><stop offset="0.843" stop-color="#ff6700"/><stop offset="0.984" stop-color="#ff3f00"/><stop offset="1.000" stop-color="#ff3f00"/></linearGradient><linearGradient id="c133"><stop offset="0.000" stop-color="#02eb00"/><stop offset="0.120" stop-color="#00f445"/><stop offset="0.171" stop-color="#00f237"/><stop offset="0.236" stop-color="#06ec00"/><stop offset="0.261" stop-color="#0eed00"/><stop offset="0.281" stop-color="#00ec0b"/><stop offset="0.291" stop-color="#00ef1c"/><stop offset="0.301" stop-color="#00f33c"/><stop offset="0.316" stop-color="#00f442"/><stop offset="0.341" stop-color="#00f864"/><stop offset="0.346" stop-color="#bbff00"/><stop offset="0.356" stop-color="#bbff00"/><stop offset="0.361" stop-color="#8dff00"/><stop offset="0.366" stop-color="#8dff00"/><stop offset="0.371" stop-color="#c2ff00"/><stop offset="0.402" stop-color="#ddff00"/><stop offset="0.457" stop-color="#f3ff00"/><stop offset="0.547" stop-color="#d1ff00"/><stop offset="0.648" stop-color="#bcff00"/><stop offset="0.718" stop-color="#fbff00"/><stop offset="0.738" stop-color="#fffa00"/><stop offset="0.783" stop-color="#ffaa00"/><stop offset="0.808" stop-color="#ff9900"/><stop offset="0.828" stop-color="#ff9900"/><stop offset="0.843" stop-color="#ff6900"/><stop offset="0.984" stop-color="#ff4300"/><stop offset="1.000" stop-color="#ff4300"/></linearGradient><linearGradient id="c134"><stop offset="0.000" stop-color="#31f200"/><stop offset="0.131" stop-color="#0ded00"/><stop offset="0.201" stop-color="#29f100"/><stop offset="0.261" stop-color="#3ff400"/><stop offset="0.291" stop-color="#16ee00"/><stop offset="0.296" stop-color="#02eb00"/><stop offset="0.311" stop-color="#00f236"/><stop offset="0.341" stop-color="#00f75b"/><stop offset="0.346" stop-color="#d2ff00"/><stop offset="0.366" stop-color="#ceff00"/><stop offset="0.397" stop-color="#f2ff00"/><stop offset="0.462" stop-color="#fff800"/><stop offset="0.517" stop-color="#eeff00"/><stop offset="0.648" stop-color="#d3ff00"/><stop offset="0.698" stop-color="#fffc00"/><stop offset="0.743" stop-color="#ffdd00"/><stop offset="0.793" stop-color="#ff9200"/><stop offset="0.833" stop-color="#ff8b00"/><stop offset="0.843" stop-color="#ff6a00"/><stop offset="0.989" stop-color="#ff4600"/><stop offset="1.000" stop-color="#ff4700"/></linearGradient><linearGradient id="c135"><stop offset="0.000" stop-color="#71fb00"/><stop offset="0.261" stop-color="#90ff00"/><stop offset="0.286" stop-color="#6cfa00"/><stop offset="0.291" stop-color="#46f500"/><stop offset="0.306" stop-color="#08ec00"/><stop offset="0.321" stop-color="#00f33b"/><stop offset="0.341" stop-color="#00f653"/><stop offset="0.346" stop-color="#e8ff00"/><stop offset="0.371" stop-color="#efff00"/><stop offset="0.392" stop-color="#fffa00"/><stop offset="0.457" stop-color="#ffe100"/><stop offset="0.542" stop-color="#fdff00"/><stop offset="0.648" stop-color="#e9ff00"/><stop offset="0.683" stop-color="#fff700"/><stop offset="0.723" stop-color="#ffd600"/><stop offset="0.748" stop-color="#ffc200"/><stop offset="0.798" stop-color="#ff7f00"/><stop offset="0.838" stop-color="#ff7800"/><stop offset="0.848" stop-color="#ff6b00"/><stop offset="0.989" stop-color="#ff4a00"/><stop offset="1.000" stop-color="#ff4a00"/></linearGradient><linearGradient id="c136"><stop offset="0.000" stop-color="#9cff00"/><stop offset="0.261" stop-color="#beff00"/><stop offset="0.291" stop-color="#8cff00"/><stop offset="0.296" stop-color="#76fc00"/><stop offset="0.301" stop-color="#4cf600"/><stop offset="0.316" stop-color="#09ec00"/><stop offset="0.326" stop-color="#00ee18"/><stop offset="0.336" stop-color="#00f235"/><stop offset="0.341" stop-color="#00f238"/><stop offset="0.346" stop-color="#fdff00"/><stop offset="0.371" stop-color="#fffb00"/><stop offset="0.402" stop-color="#ffe000"/><stop offset="0.457" stop-color="#ffcb00"/><stop offset="0.547" stop-color="#ffeb00"/><stop offset="0.648" stop-color="#feff00"/><stop offset="0.718" stop-color="#ffc400"/><stop offset="0.748" stop-color="#ffb400"/><stop offset="0.788" stop-color="#ff7b00"/><stop offset="0.989" stop-color="#ff4e00"/><stop offset="1.000" stop-color="#ff4e00"/></linearGradient><linearGradient id="c137"><stop offset="0.000" stop-color="#ccff00"/><stop offset="0.261" stop-color="#eeff00"/><stop offset="0.291" stop-color="#baff00"/><stop offset="0.306" stop-color="#76fc00"/><stop offset="0.311" stop-color="#4ef600"/><stop offset="0.331" stop-color="#0bed00"/><stop offset="0.341" stop-color="#00eb02"/><stop offset="0.346" stop-color="#ffeb00"/><stop offset="0.377" stop-color="#ffdf00"/><stop offset="0.402" stop-color="#ffca00"/><stop offset="0.467" stop-color="#ffbd00"/><stop offset="0.638" stop-color="#ffeb00"/><stop offset="0.673" stop-color="#ffd700"/><stop offset="0.718" stop-color="#ffb600"/><stop offset="0.748" stop-color="#ffa600"/><stop offset="0.778" stop-color="#ff7e00"/><stop offset="0.994" stop-color="#ff5200"/><stop offset="1.000" stop-color="#ff5200"/></linearGradient><linearGradient id="c138"><stop offset="0.000" stop-color="#f7ff00"/><stop offset="0.276" stop-color="#faff00"/><stop offset="0.286" stop-color="#f6ff00"/><stop offset="0.296" stop-color="#d1ff00"/><stop offset="0.316" stop-color="#7afc00"/><stop offset="0.321" stop-color="#6ffb00"/><stop offset="0.326" stop-color="#4af600"/><stop offset="0.336" stop-color="#31f200"/><stop offset="0.341" stop-color="#2ff200"/><stop offset="0.346" stop-color="#ffd500"/><stop offset="0.377" stop-color="#ffc900"/><stop offset="0.452" stop-color="#ffae00"/><stop offset="0.648" stop-color="#ffd400"/><stop offset="0.723" stop-color="#ffa700"/><stop offset="0.753" stop-color="#ff9200"/><stop offset="0.768" stop-color="#ff8000"/><stop offset="0.994" stop-color="#ff5500"/><stop offset="1.000" stop-color="#ff5500"/></linearGradient><linearGradient id="c139"><stop offset="0.000" stop-color="#fff900"/><stop offset="0.271" stop-color="#fff400"/><stop offset="0.296" stop-color="#f9ff00"/><stop offset="0.316" stop-color="#a5ff00"/><stop offset="0.336" stop-color="#7dfd00"/><stop offset="0.341" stop-color="#7dfd00"/><stop offset="0.346" stop-color="#ffc200"/><stop offset="0.382" stop-color="#ffb700"/><stop offset="0.462" stop-color="#ffa100"/><stop offset="0.633" stop-color="#ffc200"/><stop offset="0.678" stop-color="#ffb200"/><stop offset="0.748" stop-color="#ff8a00"/><stop offset="0.979" stop-color="#ff5900"/><stop offset="1.000" stop-color="#ff5900"/></linearGradient><linearGradient id="c140"><stop offset="0.000" stop-color="#ffeb00"/><stop offset="0.271" stop-color="#ffe500"/><stop offset="0.296" stop-color="#fff800"/><stop offset="0.306" stop-color="#f9ff00"/><stop offset="0.326" stop-color="#bdff00"/><stop offset="0.336" stop-color="#a9ff00"/><stop offset="0.341" stop-color="#a9ff00"/><stop offset="0.346" stop-color="#ffb500"/><stop offset="0.382" stop-color="#ffa900"/><stop offset="0.462" stop-color="#ff9300"/><stop offset="0.633" stop-color="#ffb400"/><stop offset="0.678" stop-color="#ffa400"/><stop offset="0.743" stop-color="#ff8500"/><stop offset="1.000" stop-color="#ff5c00"/></linearGradient><linearGradient id="c141"><stop offset="0.000" stop-color="#ffdd00"/><stop offset="0.281" stop-color="#ffdd00"/><stop offset="0.306" stop-color="#fff800"/><stop offset="0.326" stop-color="#edff00"/><stop offset="0.336" stop-color="#d9ff00"/><stop offset="0.341" stop-color="#d9ff00"/><stop offset="0.346" stop-color="#ffa700"/><stop offset="0.382" stop-color="#ff9b00"/><stop offset="0.437" stop-color="#ff9100"/><stop offset="0.577" stop-color="#ff9d00"/><stop offset="0.658" stop-color="#ffa300"/><stop offset="0.708" stop-color="#ff8900"/><stop offset="1.000" stop-color="#ff6000"/></linearGradient><linearGradient id="c142"><stop offset="0.000" stop-color="#ffd600"/><stop offset="0.281" stop-color="#ffd500"/><stop offset="0.306" stop-color="#ffe900"/><stop offset="0.331" stop-color="#fdff00"/><stop offset="0.341" stop-color="#fbff00"/><stop offset="0.346" stop-color="#ff9900"/><stop offset="0.472" stop-color="#ff9100"/><stop offset="0.612" stop-color="#ff9600"/><stop offset="0.663" stop-color="#ff9300"/><stop offset="1.000" stop-color="#ff6300"/></linearGradient><linearGradient id="c143"><stop offset="0.000" stop-color="#ffce00"/><stop offset="0.281" stop-color="#ffce00"/><stop offset="0.341" stop-color="#fff500"/><stop offset="0.346" stop-color="#ff9100"/><stop offset="0.778" stop-color="#ff8300"/><stop offset="1.000" stop-color="#ff6600"/></linearGradient><linearGradient id="c144"><stop offset="0.000" stop-color="#ffc800"/><stop offset="0.291" stop-color="#ffca00"/><stop offset="0.341" stop-color="#ffe700"/><stop offset="0.346" stop-color="#ff9100"/><stop offset="0.783" stop-color="#ff8300"/><stop offset="1.000" stop-color="#ff6900"/></linearGradient><linearGradient id="c145"><stop offset="0.000" stop-color="#ffc500"/><stop offset="0.296" stop-color="#ffc700"/><stop offset="0.341" stop-color="#ffdb00"/><stop offset="0.346" stop-color="#ff9100"/><stop offset="0.788" stop-color="#ff8300"/><stop offset="1.000" stop-color="#ff6c00"/></linearGradient><linearGradient id="c146"><stop offset="0.000" stop-color="#ffc200"/><stop offset="0.301" stop-color="#ffc600"/><stop offset="0.341" stop-color="#ffd400"/><stop offset="0.346" stop-color="#ff9100"/><stop offset="0.798" stop-color="#ff8300"/><stop offset="1.000" stop-color="#ff6f00"/></linearGradient><linearGradient id="c147"><stop offset="0.000" stop-color="#ffc000"/><stop offset="0.301" stop-color="#ffc300"/><stop offset="0.341" stop-color="#ffcc00"/><stop offset="0.346" stop-color="#ff9100"/><stop offset="0.808" stop-color="#ff8200"/><stop offset="1.000" stop-color="#ff7100"/></linearGradient></defs>
<rect x="32.30" y="188.90" width="199.20" height="1.30" fill="url(#c0)"/><rect x="32.30" y="189.90" width="199.20" height="1.30" fill="url(#c1)"/><rect x="32.30" y="190.90" width="199.20" height="1.30" fill="url(#c2)"/><rect x="32.30" y="191.90" width="199.20" height="1.30" fill="url(#c3)"/><rect x="32.30" y="192.90" width="199.20" height="1.30" fill="url(#c4)"/><rect x="32.30" y="193.90" width="199.20" height="1.30" fill="url(#c5)"/><rect x="32.30" y="194.90" width="199.20" height="1.30" fill="url(#c6)"/><rect x="32.30" y="195.90" width="199.20" height="1.30" fill="url(#c7)"/><rect x="32.30" y="196.90" width="199.20" height="1.30" fill="url(#c8)"/><rect x="32.30" y="197.90" width="199.20" height="1.30" fill="url(#c9)"/><rect x="32.30" y="198.90" width="199.20" height="1.30" fill="url(#c10)"/><rect x="32.30" y="199.90" width="199.20" height="1.30" fill="url(#c11)"/><rect x="32.30" y="200.90" width="199.20" height="1.30" fill="url(#c12)"/><rect x="32.30" y="201.90" width="199.20" height="1.30" fill="url(#c13)"/><rect x="32.30" y="202.90" width="199.20" height="1.30" fill="url(#c14)"/><rect x="32.30" y="203.90" width="199.20" height="1.30" fill="url(#c15)"/><rect x="32.30" y="204.90" width="199.20" height="1.30" fill="url(#c16)"/><rect x="32.30" y="205.90" width="199.20" height="1.30" fill="url(#c17)"/><rect x="32.30" y="206.90" width="199.20" height="1.30" fill="url(#c18)"/><rect x="32.30" y="207.90" width="199.20" height="1.30" fill="url(#c19)"/><rect x="32.30" y="208.90" width="199.20" height="1.30" fill="url(#c20)"/><rect x="32.30" y="209.90" width="199.20" height="1.30" fill="url(#c21)"/><rect x="32.30" y="210.90" width="199.20" height="1.30" fill="url(#c22)"/><rect x="32.30" y="211.90" width="199.20" height="1.30" fill="url(#c23)"/><rect x="32.30" y="212.90" width="199.20" height="1.30" fill="url(#c24)"/><rect x="32.30" y="213.90" width="199.20" height="1.30" fill="url(#c25)"/><rect x="32.30" y="214.90" width="199.20" height="1.30" fill="url(#c26)"/><rect x="32.30" y="215.90" width="199.20" height="1.30" fill="url(#c27)"/><rect x="32.30" y="216.90" width="199.20" height="1.30" fill="url(#c28)"/><rect x="32.30" y="217.90" width="199.20" height="1.30" fill="url(#c29)"/><rect x="32.30" y="218.90" width="199.20" height="1.30" fill="url(#c30)"/><rect x="32.30" y="219.90" width="199.20" height="1.30" fill="url(#c31)"/><rect x="32.30" y="220.90" width="199.20" height="1.30" fill="url(#c32)"/><rect x="32.30" y="221.90" width="199.20" height="1.30" fill="url(#c33)"/><rect x="32.30" y="222.90" width="199.20" height="1.30" fill="url(#c34)"/><rect x="32.30" y="223.90" width="199.20" height="1.30" fill="url(#c35)"/><rect x="32.30" y="224.90" width="199.20" height="1.30" fill="url(#c36)"/><rect x="32.30" y="225.90" width="199.20" height="1.30" fill="url(#c37)"/><rect x="32.30" y="226.90" width="199.20" height="1.30" fill="url(#c38)"/><rect x="32.30" y="227.90" width="199.20" height="1.30" fill="url(#c39)"/><rect x="32.30" y="228.90" width="199.20" height="1.30" fill="url(#c40)"/><rect x="32.30" y="229.90" width="199.20" height="1.30" fill="url(#c41)"/><rect x="32.30" y="230.90" width="199.20" height="1.30" fill="url(#c42)"/><rect x="32.30" y="231.90" width="199.20" height="1.30" fill="url(#c43)"/><rect x="32.30" y="232.90" width="199.20" height="1.30" fill="url(#c44)"/><rect x="32.30" y="233.90" width="199.20" height="1.30" fill="url(#c45)"/><rect x="32.30" y="234.90" width="199.20" height="1.30" fill="url(#c46)"/><rect x="32.30" y="235.90" width="199.20" height="1.30" fill="url(#c47)"/><rect x="32.30" y="236.90" width="199.20" height="1.30" fill="url(#c48)"/><rect x="32.30" y="237.90" width="199.20" height="1.30" fill="url(#c49)"/><rect x="32.30" y="238.90" width="199.20" height="1.30" fill="url(#c50)"/><rect x="32.30" y="239.90" width="199.20" height="1.30" fill="url(#c51)"/><rect x="32.30" y="240.90" width="199.20" height="1.30" fill="url(#c52)"/><rect x="32.30" y="241.90" width="199.20" height="1.30" fill="url(#c53)"/><rect x="32.30" y="242.90" width="199.20" height="1.30" fill="url(#c54)"/><rect x="32.30" y="243.90" width="199.20" height="1.30" fill="url(#c55)"/><rect x="32.30" y="244.90" width="199.20" height="1.30" fill="url(#c56)"/><rect x="32.30" y="245.90" width="199.20" height="1.30" fill="url(#c57)"/><rect x="32.30" y="246.90" width="199.20" height="1.30" fill="url(#c58)"/><rect x="32.30" y="247.90" width="199.20" height="1.30" fill="url(#c59)"/><rect x="32.30" y="248.90" width="199.20" height="1.30" fill="url(#c60)"/><rect x="32.30" y="249.90" width="199.20" height="1.30" fill="url(#c61)"/><rect x="32.30" y="250.90" width="199.20" height="1.30" fill="url(#c62)"/><rect x="32.30" y="251.90" width="199.20" height="1.30" fill="url(#c63)"/><rect x="32.30" y="252.90" width="199.20" height="1.30" fill="url(#c64)"/><rect x="32.30" y="253.90" width="199.20" height="1.30" fill="url(#c65)"/><rect x="32.30" y="254.90" width="199.20" height="1.30" fill="url(#c66)"/><rect x="32.30" y="255.90" width="199.20" height="1.30" fill="url(#c67)"/><rect x="32.30" y="256.90" width="199.20" height="1.30" fill="url(#c68)"/><rect x="32.30" y="257.90" width="199.20" height="1.30" fill="url(#c69)"/><rect x="32.30" y="258.90" width="199.20" height="1.30" fill="url(#c70)"/><rect x="32.30" y="259.90" width="199.20" height="1.30" fill="url(#c71)"/><rect x="32.30" y="260.90" width="199.20" height="1.30" fill="url(#c72)"/><rect x="32.30" y="261.90" width="199.20" height="1.30" fill="url(#c73)"/><rect x="32.30" y="262.90" width="199.20" height="1.30" fill="url(#c74)"/><rect x="32.30" y="263.90" width="199.20" height="1.30" fill="url(#c75)"/><rect x="32.30" y="264.90" width="199.20" height="1.30" fill="url(#c76)"/><rect x="32.30" y="265.90" width="199.20" height="1.30" fill="url(#c77)"/><rect x="32.30" y="266.90" width="199.20" height="1.30" fill="url(#c78)"/><rect x="32.30" y="267.90" width="199.20" height="1.30" fill="url(#c79)"/><rect x="32.30" y="268.90" width="199.20" height="1.30" fill="url(#c80)"/><rect x="32.30" y="269.90" width="199.20" height="1.30" fill="url(#c81)"/><rect x="32.30" y="270.90" width="199.20" height="1.30" fill="url(#c82)"/><rect x="32.30" y="271.90" width="199.20" height="1.30" fill="url(#c83)"/><rect x="32.30" y="272.90" width="199.20" height="1.30" fill="url(#c84)"/><rect x="32.30" y="273.90" width="199.20" height="1.30" fill="url(#c85)"/><rect x="32.30" y="274.90" width="199.20" height="1.30" fill="url(#c86)"/><rect x="32.30" y="275.90" width="199.20" height="1.30" fill="url(#c87)"/><rect x="32.30" y="276.90" width="199.20" height="1.30" fill="url(#c88)"/><rect x="32.30" y="277.90" width="199.20" height="1.30" fill="url(#c89)"/><rect x="32.30" y="278.90" width="199.20" height="1.30" fill="url(#c90)"/><rect x="32.30" y="279.90" width="199.20" height="1.30" fill="url(#c91)"/><rect x="32.30" y="280.90" width="199.20" height="1.30" fill="url(#c92)"/><rect x="32.30" y="281.90" width="199.20" height="1.30" fill="url(#c93)"/><rect x="32.30" y="282.90" width="199.20" height="1.30" fill="url(#c94)"/><rect x="32.30" y="283.90" width="199.20" height="1.30" fill="url(#c95)"/><rect x="32.30" y="284.90" width="199.20" height="1.30" fill="url(#c96)"/><rect x="32.30" y="285.90" width="199.20" height="1.30" fill="url(#c97)"/><rect x="32.30" y="286.90" width="199.20" height="1.30" fill="url(#c98)"/><rect x="32.30" y="287.90" width="199.20" height="1.30" fill="url(#c99)"/><rect x="32.30" y="288.90" width="199.20" height="1.30" fill="url(#c100)"/><rect x="32.30" y="289.90" width="199.20" height="1.30" fill="url(#c101)"/><rect x="32.30" y="290.90" width="199.20" height="1.30" fill="url(#c102)"/><rect x="32.30" y="291.90" width="199.20" height="1.30" fill="url(#c103)"/><rect x="32.30" y="292.90" width="199.20" height="1.30" fill="url(#c104)"/><rect x="32.30" y="293.90" width="199.20" height="1.30" fill="url(#c105)"/><rect x="32.30" y="294.90" width="199.20" height="1.30" fill="url(#c106)"/><rect x="32.30" y="295.90" width="199.20" height="1.30" fill="url(#c107)"/><rect x="32.30" y="296.90" width="199.20" height="1.30" fill="url(#c108)"/><rect x="32.30" y="297.90" width="199.20" height="1.30" fill="url(#c109)"/><rect x="32.30" y="298.90" width="199.20" height="1.30" fill="url(#c110)"/><rect x="32.30" y="299.90" width="199.20" height="1.30" fill="url(#c111)"/><rect x="32.30" y="300.90" width="199.20" height="1.30" fill="url(#c112)"/><rect x="32.30" y="301.90" width="199.20" height="1.30" fill="url(#c113)"/><rect x="32.30" y="302.90" width="199.20" height="1.30" fill="url(#c114)"/><rect x="32.30" y="303.90" width="199.20" height="1.30" fill="url(#c115)"/><rect x="32.30" y="304.90" width="199.20" height="1.30" fill="url(#c116)"/><rect x="32.30" y="305.90" width="199.20" height="1.30" fill="url(#c117)"/><rect x="32.30" y="306.90" width="199.20" height="1.30" fill="url(#c118)"/><rect x="32.30" y="307.90" width="199.20" height="1.30" fill="url(#c119)"/><rect x="32.30" y="308.90" width="199.20" height="1.30" fill="url(#c120)"/><rect x="32.30" y="309.90" width="199.20" height="1.30" fill="url(#c121)"/><rect x="32.30" y="310.90" width="199.20" height="1.30" fill="url(#c122)"/><rect x="32.30" y="311.90" width="199.20" height="1.30" fill="url(#c123)"/><rect x="32.30" y="312.90" width="199.20" height="1.30" fill="url(#c124)"/><rect x="32.30" y="313.90" width="199.20" height="1.30" fill="url(#c125)"/><rect x="32.30" y="314.90" width="199.20" height="1.30" fill="url(#c126)"/><rect x="32.30" y="315.90" width="199.20" height="1.30" fill="url(#c127)"/><rect x="32.30" y="316.90" width="199.20" height="1.30" fill="url(#c128)"/><rect x="32.30" y="317.90" width="199.20" height="1.30" fill="url(#c129)"/><rect x="32.30" y="318.90" width="199.20" height="1.30" fill="url(#c130)"/><rect x="32.30" y="319.90" width="199.20" height="1.30" fill="url(#c131)"/><rect x="32.30" y="320.90" width="199.20" height="1.30" fill="url(#c132)"/><rect x="32.30" y="321.90" width="199.20" height="1.30" fill="url(#c133)"/><rect x="32.30" y="322.90" width="199.20" height="1.30" fill="url(#c134)"/><rect x="32.30" y="323.90" width="199.20" height="1.30" fill="url(#c135)"/><rect x="32.30" y="324.90" width="199.20" height="1.30" fill="url(#c136)"/><rect x="32.30" y="325.90" width="199.20" height="1.30" fill="url(#c137)"/><rect x="32.30" y="326.90" width="199.20" height="1.30" fill="url(#c138)"/><rect x="32.30" y="327.90" width="199.20" height="1.30" fill="url(#c139)"/><rect x="32.30" y="328.90" width="199.20" height="1.30" fill="url(#c140)"/><rect x="32.30" y="329.90" width="199.20" height="1.30" fill="url(#c141)"/><rect x="32.30" y="330.90" width="199.20" height="1.30" fill="url(#c142)"/><rect x="32.30" y="331.90" width="199.20" height="1.30" fill="url(#c143)"/><rect x="32.30" y="332.90" width="199.20" height="1.30" fill="url(#c144)"/><rect x="32.30" y="333.90" width="199.20" height="1.30" fill="url(#c145)"/><rect x="32.30" y="334.90" width="199.20" height="1.30" fill="url(#c146)"/><rect x="32.30" y="335.90" width="199.20" height="1.30" fill="url(#c147)"/>
<rect x="100.6" y="188.9" width="3.0" height="147.99999999999997" fill="#fff"/>
<line x1="31.7" y1="189.1" x2="232.1" y2="189.1" stroke="#111" stroke-width="1.6"/>
<line x1="231.5" y1="188.9" x2="231.5" y2="336.9" stroke="#1a1a1a" stroke-width="1.3"/>
<line x1="32.3" y1="188.9" x2="32.3" y2="336.9" stroke="#222" stroke-width="1.3"/>
<line x1="31.7" y1="336.9" x2="232.1" y2="336.9" stroke="#222" stroke-width="1.3"/>
<rect x="100.39999999999999" y="187.9" width="3.4" height="2" fill="#fff"/>
<rect x="100.39999999999999" y="335.9" width="3.4" height="2" fill="#fff"/>
<line x1="98.7" y1="191.6" x2="102.3" y2="186.2" stroke="#111" stroke-width="1.3"/>
<line x1="101.9" y1="191.6" x2="105.5" y2="186.2" stroke="#111" stroke-width="1.3"/>
<line x1="98.7" y1="339.6" x2="102.3" y2="334.2" stroke="#111" stroke-width="1.3"/>
<line x1="101.9" y1="339.6" x2="105.5" y2="334.2" stroke="#111" stroke-width="1.3"/>
<line x1="32.3" y1="336.9" x2="29.7" y2="336.9" stroke="#222" stroke-width="1.2"/>
<line x1="32.3" y1="327.6" x2="30.9" y2="327.6" stroke="#222" stroke-width="0.9"/>
<line x1="32.3" y1="322.16" x2="30.9" y2="322.16" stroke="#222" stroke-width="0.9"/>
<line x1="32.3" y1="318.3" x2="30.9" y2="318.3" stroke="#222" stroke-width="0.9"/>
<line x1="32.3" y1="315.3" x2="30.9" y2="315.3" stroke="#222" stroke-width="0.9"/>
<line x1="32.3" y1="312.86" x2="30.9" y2="312.86" stroke="#222" stroke-width="0.9"/>
<line x1="32.3" y1="310.79" x2="30.9" y2="310.79" stroke="#222" stroke-width="0.9"/>
<line x1="32.3" y1="308.99" x2="30.9" y2="308.99" stroke="#222" stroke-width="0.9"/>
<line x1="32.3" y1="307.41" x2="30.9" y2="307.41" stroke="#222" stroke-width="0.9"/>
<line x1="32.3" y1="306" x2="29.7" y2="306" stroke="#222" stroke-width="1.2"/>
<line x1="32.3" y1="296.7" x2="30.9" y2="296.7" stroke="#222" stroke-width="0.9"/>
<line x1="32.3" y1="291.26" x2="30.9" y2="291.26" stroke="#222" stroke-width="0.9"/>
<line x1="32.3" y1="287.4" x2="30.9" y2="287.4" stroke="#222" stroke-width="0.9"/>
<line x1="32.3" y1="284.4" x2="30.9" y2="284.4" stroke="#222" stroke-width="0.9"/>
<line x1="32.3" y1="281.96" x2="30.9" y2="281.96" stroke="#222" stroke-width="0.9"/>
<line x1="32.3" y1="279.89" x2="30.9" y2="279.89" stroke="#222" stroke-width="0.9"/>
<line x1="32.3" y1="278.09" x2="30.9" y2="278.09" stroke="#222" stroke-width="0.9"/>
<line x1="32.3" y1="276.51" x2="30.9" y2="276.51" stroke="#222" stroke-width="0.9"/>
<line x1="32.3" y1="275.1" x2="29.7" y2="275.1" stroke="#222" stroke-width="1.2"/>
<line x1="32.3" y1="265.8" x2="30.9" y2="265.8" stroke="#222" stroke-width="0.9"/>
<line x1="32.3" y1="260.36" x2="30.9" y2="260.36" stroke="#222" stroke-width="0.9"/>
<line x1="32.3" y1="256.5" x2="30.9" y2="256.5" stroke="#222" stroke-width="0.9"/>
<line x1="32.3" y1="253.5" x2="30.9" y2="253.5" stroke="#222" stroke-width="0.9"/>
<line x1="32.3" y1="251.06" x2="30.9" y2="251.06" stroke="#222" stroke-width="0.9"/>
<line x1="32.3" y1="248.99" x2="30.9" y2="248.99" stroke="#222" stroke-width="0.9"/>
<line x1="32.3" y1="247.19" x2="30.9" y2="247.19" stroke="#222" stroke-width="0.9"/>
<line x1="32.3" y1="245.61" x2="30.9" y2="245.61" stroke="#222" stroke-width="0.9"/>
<line x1="32.3" y1="244.2" x2="29.7" y2="244.2" stroke="#222" stroke-width="1.2"/>
<line x1="32.3" y1="234.9" x2="30.9" y2="234.9" stroke="#222" stroke-width="0.9"/>
<line x1="32.3" y1="229.46" x2="30.9" y2="229.46" stroke="#222" stroke-width="0.9"/>
<line x1="32.3" y1="225.6" x2="30.9" y2="225.6" stroke="#222" stroke-width="0.9"/>
<line x1="32.3" y1="222.6" x2="30.9" y2="222.6" stroke="#222" stroke-width="0.9"/>
<line x1="32.3" y1="220.16" x2="30.9" y2="220.16" stroke="#222" stroke-width="0.9"/>
<line x1="32.3" y1="218.09" x2="30.9" y2="218.09" stroke="#222" stroke-width="0.9"/>
<line x1="32.3" y1="216.29" x2="30.9" y2="216.29" stroke="#222" stroke-width="0.9"/>
<line x1="32.3" y1="214.71" x2="30.9" y2="214.71" stroke="#222" stroke-width="0.9"/>
<line x1="32.3" y1="213.3" x2="29.7" y2="213.3" stroke="#222" stroke-width="1.2"/>
<line x1="32.3" y1="204" x2="30.9" y2="204" stroke="#222" stroke-width="0.9"/>
<line x1="32.3" y1="198.56" x2="30.9" y2="198.56" stroke="#222" stroke-width="0.9"/>
<line x1="32.3" y1="194.7" x2="30.9" y2="194.7" stroke="#222" stroke-width="0.9"/>
<line x1="32.3" y1="191.7" x2="30.9" y2="191.7" stroke="#222" stroke-width="0.9"/>
<line x1="32.3" y1="189.26" x2="30.9" y2="189.26" stroke="#222" stroke-width="0.9"/>
<text transform="translate(28.4 340.3) scale(0.9 1)" font-size="10.6" text-anchor="end" fill="#111">0.1</text>
<text transform="translate(28.4 309.4) scale(0.9 1)" font-size="10.6" text-anchor="end" fill="#111">1</text>
<text transform="translate(28.4 278.5) scale(0.9 1)" font-size="10.6" text-anchor="end" fill="#111">10</text>
<text transform="translate(28.4 247.6) scale(0.9 1)" font-size="10.6" text-anchor="end" fill="#111">100</text>
<text transform="translate(28.4 216.7) scale(0.9 1)" font-size="10.6" text-anchor="end" fill="#111">1000</text>
<line x1="43.5" y1="336.9" x2="43.5" y2="339.1" stroke="#222" stroke-width="1.2"/>
<text transform="translate(43.5 350.2) scale(0.9 1)" font-size="10.6" text-anchor="middle" fill="#111">440</text>
<line x1="59" y1="336.9" x2="59" y2="338.3" stroke="#222" stroke-width="1.2"/>
<line x1="74.8" y1="336.9" x2="74.8" y2="339.1" stroke="#222" stroke-width="1.2"/>
<text transform="translate(74.8 350.2) scale(0.9 1)" font-size="10.6" text-anchor="middle" fill="#111">480</text>
<line x1="90.2" y1="336.9" x2="90.2" y2="338.3" stroke="#222" stroke-width="1.2"/>
<line x1="105.6" y1="336.9" x2="105.6" y2="339.1" stroke="#222" stroke-width="1.2"/>
<text transform="translate(105.6 350.2) scale(0.9 1)" font-size="10.6" text-anchor="middle" fill="#111">520</text>
<line x1="121.2" y1="336.9" x2="121.2" y2="338.3" stroke="#222" stroke-width="1.2"/>
<line x1="136.6" y1="336.9" x2="136.6" y2="339.1" stroke="#222" stroke-width="1.2"/>
<text transform="translate(136.6 350.2) scale(0.9 1)" font-size="10.6" text-anchor="middle" fill="#111">560</text>
<line x1="151.8" y1="336.9" x2="151.8" y2="338.3" stroke="#222" stroke-width="1.2"/>
<line x1="166.9" y1="336.9" x2="166.9" y2="339.1" stroke="#222" stroke-width="1.2"/>
<text transform="translate(166.9 350.2) scale(0.9 1)" font-size="10.6" text-anchor="middle" fill="#111">600</text>
<line x1="182.3" y1="336.9" x2="182.3" y2="338.3" stroke="#222" stroke-width="1.2"/>
<line x1="197.7" y1="336.9" x2="197.7" y2="339.1" stroke="#222" stroke-width="1.2"/>
<text transform="translate(197.7 350.2) scale(0.9 1)" font-size="10.6" text-anchor="middle" fill="#111">640</text>
<line x1="213.1" y1="336.9" x2="213.1" y2="338.3" stroke="#222" stroke-width="1.2"/>
<line x1="228.6" y1="336.9" x2="228.6" y2="339.1" stroke="#222" stroke-width="1.2"/>
<text transform="translate(228.6 350.2) scale(0.9 1)" font-size="10.6" text-anchor="middle" fill="#111">680</text>
<defs><linearGradient id="cbc"><stop offset="0.00" stop-color="#ff1414"/><stop offset="0.06" stop-color="#ff0000"/><stop offset="0.15" stop-color="#ff8000"/><stop offset="0.25" stop-color="#ffff00"/><stop offset="0.50" stop-color="#00eb00"/><stop offset="0.63" stop-color="#00ff96"/><stop offset="0.76" stop-color="#00ffff"/><stop offset="0.88" stop-color="#006eff"/><stop offset="0.96" stop-color="#0028ff"/><stop offset="1.00" stop-color="#0a1ef0"/></linearGradient></defs>
<rect x="176.2" y="190.5" width="40.5" height="12.8" fill="url(#cbc)" stroke="#ffd8b0" stroke-width="0.5"/>
<text x="174.4" y="202.9" font-size="14.4" text-anchor="end" fill="#111">mOD</text>
<text transform="translate(169 213.1) scale(0.9 1)" font-size="7.6" text-anchor="start" fill="#222">0.66</text>
<text transform="translate(222.2 213.1) scale(0.9 1)" font-size="7.6" text-anchor="end" fill="#222">-4.2</text>
<text x="132.3" y="360.1" font-size="12.6" text-anchor="middle" fill="#111">Wavelength (nm)</text>
<text x="9.9" y="266.5" font-size="12.2" text-anchor="middle" fill="#111" transform="rotate(-90 9.9 266.5)">Delay Times (ps)</text>
<text x="7.6" y="195" font-size="17.3" text-anchor="start" fill="#111">c</text>
<defs><linearGradient id="d0"><stop offset="0.000" stop-color="#ff7900"/><stop offset="0.115" stop-color="#ff7d00"/><stop offset="0.216" stop-color="#ff9500"/><stop offset="1.000" stop-color="#ff8500"/></linearGradient><linearGradient id="d1"><stop offset="0.000" stop-color="#ff7800"/><stop offset="0.115" stop-color="#ff7d00"/><stop offset="0.216" stop-color="#ff9500"/><stop offset="1.000" stop-color="#ff8500"/></linearGradient><linearGradient id="d2"><stop offset="0.000" stop-color="#ff7800"/><stop offset="0.115" stop-color="#ff7c00"/><stop offset="0.211" stop-color="#ff9500"/><stop offset="1.000" stop-color="#ff8500"/></linearGradient><linearGradient id="d3"><stop offset="0.000" stop-color="#ff7700"/><stop offset="0.110" stop-color="#ff7a00"/><stop offset="0.211" stop-color="#ff9500"/><stop offset="1.000" stop-color="#ff8500"/></linearGradient><linearGradient id="d4"><stop offset="0.000" stop-color="#ff7600"/><stop offset="0.110" stop-color="#ff7900"/><stop offset="0.211" stop-color="#ff9600"/><stop offset="1.000" stop-color="#ff8500"/></linearGradient><linearGradient id="d5"><stop offset="0.000" stop-color="#ff7600"/><stop offset="0.110" stop-color="#ff7900"/><stop offset="0.206" stop-color="#ff9600"/><stop offset="1.000" stop-color="#ff8400"/></linearGradient><linearGradient id="d6"><stop offset="0.000" stop-color="#ff7500"/><stop offset="0.110" stop-color="#ff7800"/><stop offset="0.206" stop-color="#ff9600"/><stop offset="1.000" stop-color="#ff8400"/></linearGradient><linearGradient id="d7"><stop offset="0.000" stop-color="#ff7400"/><stop offset="0.110" stop-color="#ff7800"/><stop offset="0.206" stop-color="#ff9600"/><stop offset="1.000" stop-color="#ff8400"/></linearGradient><linearGradient id="d8"><stop offset="0.000" stop-color="#ff7400"/><stop offset="0.110" stop-color="#ff7700"/><stop offset="0.206" stop-color="#ff9600"/><stop offset="1.000" stop-color="#ff8400"/></linearGradient><linearGradient id="d9"><stop offset="0.000" stop-color="#ff7300"/><stop offset="0.110" stop-color="#ff7700"/><stop offset="0.206" stop-color="#ff9600"/><stop offset="1.000" stop-color="#ff8300"/></linearGradient><linearGradient id="d10"><stop offset="0.000" stop-color="#ff7300"/><stop offset="0.105" stop-color="#ff7500"/><stop offset="0.206" stop-color="#ff9600"/><stop offset="1.000" stop-color="#ff8300"/></linearGradient><linearGradient id="d11"><stop offset="0.000" stop-color="#ff7200"/><stop offset="0.105" stop-color="#ff7400"/><stop offset="0.201" stop-color="#ff9600"/><stop offset="1.000" stop-color="#ff8300"/></linearGradient><linearGradient id="d12"><stop offset="0.000" stop-color="#ff7200"/><stop offset="0.105" stop-color="#ff7400"/><stop offset="0.201" stop-color="#ff9600"/><stop offset="1.000" stop-color="#ff8300"/></linearGradient><linearGradient id="d13"><stop offset="0.000" stop-color="#ff7100"/><stop offset="0.105" stop-color="#ff7400"/><stop offset="0.201" stop-color="#ff9600"/><stop offset="1.000" stop-color="#ff8300"/></linearGradient><linearGradient id="d14"><stop offset="0.000" stop-color="#ff7100"/><stop offset="0.105" stop-color="#ff7300"/><stop offset="0.201" stop-color="#ff9600"/><stop offset="1.000" stop-color="#ff8300"/></linearGradient><linearGradient id="d15"><stop offset="0.000" stop-color="#ff7000"/><stop offset="0.105" stop-color="#ff7300"/><stop offset="0.201" stop-color="#ff9700"/><stop offset="1.000" stop-color="#ff8200"/></linearGradient><linearGradient id="d16"><stop offset="0.000" stop-color="#ff7000"/><stop offset="0.105" stop-color="#ff7200"/><stop offset="0.201" stop-color="#ff9700"/><stop offset="1.000" stop-color="#ff8200"/></linearGradient><linearGradient id="d17"><stop offset="0.000" stop-color="#ff7000"/><stop offset="0.105" stop-color="#ff7200"/><stop offset="0.201" stop-color="#ff9700"/><stop offset="1.000" stop-color="#ff8200"/></linearGradient><linearGradient id="d18"><stop offset="0.000" stop-color="#ff6f00"/><stop offset="0.105" stop-color="#ff7200"/><stop offset="0.201" stop-color="#ff9700"/><stop offset="1.000" stop-color="#ff8200"/></linearGradient><linearGradient id="d19"><stop offset="0.000" stop-color="#ff6f00"/><stop offset="0.100" stop-color="#ff7000"/><stop offset="0.201" stop-color="#ff9700"/><stop offset="1.000" stop-color="#ff8200"/></linearGradient><linearGradient id="d20"><stop offset="0.000" stop-color="#ff6e00"/><stop offset="0.100" stop-color="#ff6f00"/><stop offset="0.201" stop-color="#ff9700"/><stop offset="1.000" stop-color="#ff8200"/></linearGradient><linearGradient id="d21"><stop offset="0.000" stop-color="#ff6e00"/><stop offset="0.100" stop-color="#ff6f00"/><stop offset="0.201" stop-color="#ff9700"/><stop offset="1.000" stop-color="#ff8200"/></linearGradient><linearGradient id="d22"><stop offset="0.000" stop-color="#ff6d00"/><stop offset="0.100" stop-color="#ff6e00"/><stop offset="0.201" stop-color="#ff9700"/><stop offset="1.000" stop-color="#ff8100"/></linearGradient><linearGradient id="d23"><stop offset="0.000" stop-color="#ff6d00"/><stop offset="0.100" stop-color="#ff6e00"/><stop offset="0.196" stop-color="#ff9600"/><stop offset="1.000" stop-color="#ff8100"/></linearGradient><linearGradient id="d24"><stop offset="0.000" stop-color="#ff6d00"/><stop offset="0.100" stop-color="#ff6e00"/><stop offset="0.196" stop-color="#ff9700"/><stop offset="1.000" stop-color="#ff8100"/></linearGradient><linearGradient id="d25"><stop offset="0.000" stop-color="#ff6c00"/><stop offset="0.100" stop-color="#ff6d00"/><stop offset="0.196" stop-color="#ff9700"/><stop offset="1.000" stop-color="#ff8100"/></linearGradient><linearGradient id="d26"><stop offset="0.000" stop-color="#ff6c00"/><stop offset="0.100" stop-color="#ff6d00"/><stop offset="0.196" stop-color="#ff9700"/><stop offset="1.000" stop-color="#ff8100"/></linearGradient><linearGradient id="d27"><stop offset="0.000" stop-color="#ff6c00"/><stop offset="0.100" stop-color="#ff6c00"/><stop offset="0.196" stop-color="#ff9700"/><stop offset="1.000" stop-color="#ff8100"/></linearGradient><linearGradient id="d28"><stop offset="0.000" stop-color="#ff6b00"/><stop offset="0.100" stop-color="#ff6c00"/><stop offset="0.196" stop-color="#ff9700"/><stop offset="1.000" stop-color="#ff8100"/></linearGradient><linearGradient id="d29"><stop offset="0.000" stop-color="#ff6b00"/><stop offset="0.100" stop-color="#ff6c00"/><stop offset="0.196" stop-color="#ff9700"/><stop offset="1.000" stop-color="#ff8100"/></linearGradient><linearGradient id="d30"><stop offset="0.000" stop-color="#ff6a00"/><stop offset="0.100" stop-color="#ff6b00"/><stop offset="0.196" stop-color="#ff9700"/><stop offset="1.000" stop-color="#ff8100"/></linearGradient><linearGradient id="d31"><stop offset="0.000" stop-color="#ff6a00"/><stop offset="0.100" stop-color="#ff6b00"/><stop offset="0.196" stop-color="#ff9700"/><stop offset="1.000" stop-color="#ff8100"/></linearGradient><linearGradient id="d32"><stop offset="0.000" stop-color="#ff6a00"/><stop offset="0.100" stop-color="#ff6b00"/><stop offset="0.196" stop-color="#ff9700"/><stop offset="1.000" stop-color="#ff8000"/></linearGradient><linearGradient id="d33"><stop offset="0.000" stop-color="#ff6900"/><stop offset="0.095" stop-color="#ff6900"/><stop offset="0.196" stop-color="#ff9700"/><stop offset="1.000" stop-color="#ff8000"/></linearGradient><linearGradient id="d34"><stop offset="0.000" stop-color="#ff6900"/><stop offset="0.095" stop-color="#ff6800"/><stop offset="0.196" stop-color="#ff9700"/><stop offset="1.000" stop-color="#ff8000"/></linearGradient><linearGradient id="d35"><stop offset="0.000" stop-color="#ff6800"/><stop offset="0.095" stop-color="#ff6800"/><stop offset="0.196" stop-color="#ff9700"/><stop offset="1.000" stop-color="#ff8000"/></linearGradient><linearGradient id="d36"><stop offset="0.000" stop-color="#ff6800"/><stop offset="0.095" stop-color="#ff6800"/><stop offset="0.196" stop-color="#ff9700"/><stop offset="1.000" stop-color="#ff8000"/></linearGradient><linearGradient id="d37"><stop offset="0.000" stop-color="#ff6800"/><stop offset="0.095" stop-color="#ff6700"/><stop offset="0.196" stop-color="#ff9700"/><stop offset="1.000" stop-color="#ff8000"/></linearGradient><linearGradient id="d38"><stop offset="0.000" stop-color="#ff6700"/><stop offset="0.095" stop-color="#ff6700"/><stop offset="0.196" stop-color="#ff9700"/><stop offset="1.000" stop-color="#ff8000"/></linearGradient><linearGradient id="d39"><stop offset="0.000" stop-color="#ff6700"/><stop offset="0.095" stop-color="#ff6600"/><stop offset="0.196" stop-color="#ff9700"/><stop offset="1.000" stop-color="#ff8000"/></linearGradient><linearGradient id="d40"><stop offset="0.000" stop-color="#ff6700"/><stop offset="0.095" stop-color="#ff6600"/><stop offset="0.196" stop-color="#ff9700"/><stop offset="1.000" stop-color="#ff8000"/></linearGradient><linearGradient id="d41"><stop offset="0.000" stop-color="#ff6600"/><stop offset="0.095" stop-color="#ff6600"/><stop offset="0.196" stop-color="#ff9700"/><stop offset="1.000" stop-color="#ff8000"/></linearGradient><linearGradient id="d42"><stop offset="0.000" stop-color="#ff6600"/><stop offset="0.095" stop-color="#ff6500"/><stop offset="0.196" stop-color="#ff9700"/><stop offset="1.000" stop-color="#ff8000"/></linearGradient><linearGradient id="d43"><stop offset="0.000" stop-color="#ff6600"/><stop offset="0.095" stop-color="#ff6500"/><stop offset="0.196" stop-color="#ff9700"/><stop offset="1.000" stop-color="#ff8000"/></linearGradient><linearGradient id="d44"><stop offset="0.000" stop-color="#ff6500"/><stop offset="0.095" stop-color="#ff6500"/><stop offset="0.191" stop-color="#ff9600"/><stop offset="0.687" stop-color="#ff8900"/><stop offset="1.000" stop-color="#ff8000"/></linearGradient><linearGradient id="d45"><stop offset="0.000" stop-color="#ff6500"/><stop offset="0.095" stop-color="#ff6400"/><stop offset="0.191" stop-color="#ff9600"/><stop offset="0.682" stop-color="#ff8900"/><stop offset="1.000" stop-color="#ff8000"/></linearGradient><linearGradient id="d46"><stop offset="0.000" stop-color="#ff6500"/><stop offset="0.095" stop-color="#ff6400"/><stop offset="0.191" stop-color="#ff9600"/><stop offset="0.677" stop-color="#ff8900"/><stop offset="1.000" stop-color="#ff8000"/></linearGradient><linearGradient id="d47"><stop offset="0.000" stop-color="#ff6400"/><stop offset="0.095" stop-color="#ff6400"/><stop offset="0.191" stop-color="#ff9600"/><stop offset="0.672" stop-color="#ff8a00"/><stop offset="1.000" stop-color="#ff8000"/></linearGradient><linearGradient id="d48"><stop offset="0.000" stop-color="#ff6400"/><stop offset="0.095" stop-color="#ff6400"/><stop offset="0.191" stop-color="#ff9600"/><stop offset="0.672" stop-color="#ff8a00"/><stop offset="1.000" stop-color="#ff8000"/></linearGradient><linearGradient id="d49"><stop offset="0.000" stop-color="#ff6400"/><stop offset="0.095" stop-color="#ff6300"/><stop offset="0.191" stop-color="#ff9600"/><stop offset="0.667" stop-color="#ff8a00"/><stop offset="1.000" stop-color="#ff8000"/></linearGradient><linearGradient id="d50"><stop offset="0.000" stop-color="#ff6400"/><stop offset="0.095" stop-color="#ff6300"/><stop offset="0.191" stop-color="#ff9600"/><stop offset="0.667" stop-color="#ff8a00"/><stop offset="1.000" stop-color="#ff8000"/></linearGradient><linearGradient id="d51"><stop offset="0.000" stop-color="#ff6400"/><stop offset="0.095" stop-color="#ff6300"/><stop offset="0.191" stop-color="#ff9600"/><stop offset="0.667" stop-color="#ff8a00"/><stop offset="1.000" stop-color="#ff8000"/></linearGradient><linearGradient id="d52"><stop offset="0.000" stop-color="#ff6300"/><stop offset="0.095" stop-color="#ff6300"/><stop offset="0.191" stop-color="#ff9600"/><stop offset="0.662" stop-color="#ff8a00"/><stop offset="1.000" stop-color="#ff8000"/></linearGradient><linearGradient id="d53"><stop offset="0.000" stop-color="#ff6300"/><stop offset="0.090" stop-color="#ff6100"/><stop offset="0.196" stop-color="#ff9700"/><stop offset="1.000" stop-color="#ff8000"/></linearGradient><linearGradient id="d54"><stop offset="0.000" stop-color="#ff6300"/><stop offset="0.090" stop-color="#ff6100"/><stop offset="0.196" stop-color="#ff9700"/><stop offset="1.000" stop-color="#ff8000"/></linearGradient><linearGradient id="d55"><stop offset="0.000" stop-color="#ff6300"/><stop offset="0.090" stop-color="#ff6100"/><stop offset="0.196" stop-color="#ff9700"/><stop offset="1.000" stop-color="#ff8000"/></linearGradient><linearGradient id="d56"><stop offset="0.000" stop-color="#ff6300"/><stop offset="0.090" stop-color="#ff6100"/><stop offset="0.196" stop-color="#ff9700"/><stop offset="1.000" stop-color="#ff8000"/></linearGradient><linearGradient id="d57"><stop offset="0.000" stop-color="#ff6300"/><stop offset="0.090" stop-color="#ff6100"/><stop offset="0.196" stop-color="#ff9700"/><stop offset="1.000" stop-color="#ff8000"/></linearGradient><linearGradient id="d58"><stop offset="0.000" stop-color="#ff6300"/><stop offset="0.090" stop-color="#ff6100"/><stop offset="0.196" stop-color="#ff9700"/><stop offset="1.000" stop-color="#ff8000"/></linearGradient><linearGradient id="d59"><stop offset="0.000" stop-color="#ff6300"/><stop offset="0.090" stop-color="#ff6100"/><stop offset="0.196" stop-color="#ff9700"/><stop offset="1.000" stop-color="#ff8000"/></linearGradient><linearGradient id="d60"><stop offset="0.000" stop-color="#ff6300"/><stop offset="0.090" stop-color="#ff6100"/><stop offset="0.196" stop-color="#ff9700"/><stop offset="1.000" stop-color="#ff8100"/></linearGradient><linearGradient id="d61"><stop offset="0.000" stop-color="#ff6300"/><stop offset="0.090" stop-color="#ff6100"/><stop offset="0.196" stop-color="#ff9700"/><stop offset="1.000" stop-color="#ff8100"/></linearGradient><linearGradient id="d62"><stop offset="0.000" stop-color="#ff6300"/><stop offset="0.090" stop-color="#ff6100"/><stop offset="0.196" stop-color="#ff9700"/><stop offset="1.000" stop-color="#ff8100"/></linearGradient><linearGradient id="d63"><stop offset="0.000" stop-color="#ff6300"/><stop offset="0.095" stop-color="#ff6300"/><stop offset="0.191" stop-color="#ff9600"/><stop offset="0.682" stop-color="#ff8900"/><stop offset="1.000" stop-color="#ff8100"/></linearGradient><linearGradient id="d64"><stop offset="0.000" stop-color="#ff6400"/><stop offset="0.095" stop-color="#ff6300"/><stop offset="0.191" stop-color="#ff9600"/><stop offset="0.682" stop-color="#ff8a00"/><stop offset="1.000" stop-color="#ff8100"/></linearGradient><linearGradient id="d65"><stop offset="0.000" stop-color="#ff6400"/><stop offset="0.095" stop-color="#ff6300"/><stop offset="0.191" stop-color="#ff9600"/><stop offset="0.692" stop-color="#ff8900"/><stop offset="1.000" stop-color="#ff8100"/></linearGradient><linearGradient id="d66"><stop offset="0.000" stop-color="#ff6400"/><stop offset="0.095" stop-color="#ff6300"/><stop offset="0.191" stop-color="#ff9600"/><stop offset="0.697" stop-color="#ff8900"/><stop offset="1.000" stop-color="#ff8100"/></linearGradient><linearGradient id="d67"><stop offset="0.000" stop-color="#ff6400"/><stop offset="0.095" stop-color="#ff6400"/><stop offset="0.191" stop-color="#ff9600"/><stop offset="0.702" stop-color="#ff8900"/><stop offset="1.000" stop-color="#ff8100"/></linearGradient><linearGradient id="d68"><stop offset="0.000" stop-color="#ff6500"/><stop offset="0.095" stop-color="#ff6400"/><stop offset="0.191" stop-color="#ff9600"/><stop offset="0.712" stop-color="#ff8800"/><stop offset="1.000" stop-color="#ff8100"/></linearGradient><linearGradient id="d69"><stop offset="0.000" stop-color="#ff6500"/><stop offset="0.095" stop-color="#ff6400"/><stop offset="0.191" stop-color="#ff9600"/><stop offset="0.717" stop-color="#ff8800"/><stop offset="1.000" stop-color="#ff8100"/></linearGradient><linearGradient id="d70"><stop offset="0.000" stop-color="#ff6500"/><stop offset="0.095" stop-color="#ff6500"/><stop offset="0.191" stop-color="#ff9600"/><stop offset="0.727" stop-color="#ff8700"/><stop offset="1.000" stop-color="#ff8200"/></linearGradient><linearGradient id="d71"><stop offset="0.000" stop-color="#ff6600"/><stop offset="0.095" stop-color="#ff6500"/><stop offset="0.196" stop-color="#ff9600"/><stop offset="1.000" stop-color="#ff8200"/></linearGradient><linearGradient id="d72"><stop offset="0.000" stop-color="#ff6600"/><stop offset="0.095" stop-color="#ff6600"/><stop offset="0.196" stop-color="#ff9600"/><stop offset="1.000" stop-color="#ff8200"/></linearGradient><linearGradient id="d73"><stop offset="0.000" stop-color="#ff6700"/><stop offset="0.095" stop-color="#ff6600"/><stop offset="0.196" stop-color="#ff9600"/><stop offset="1.000" stop-color="#ff8200"/></linearGradient><linearGradient id="d74"><stop offset="0.000" stop-color="#ff6700"/><stop offset="0.095" stop-color="#ff6700"/><stop offset="0.196" stop-color="#ff9600"/><stop offset="1.000" stop-color="#ff8200"/></linearGradient><linearGradient id="d75"><stop offset="0.000" stop-color="#ff6800"/><stop offset="0.095" stop-color="#ff6700"/><stop offset="0.196" stop-color="#ff9600"/><stop offset="1.000" stop-color="#ff8200"/></linearGradient><linearGradient id="d76"><stop offset="0.000" stop-color="#ff6900"/><stop offset="0.095" stop-color="#ff6800"/><stop offset="0.196" stop-color="#ff9600"/><stop offset="1.000" stop-color="#ff8200"/></linearGradient><linearGradient id="d77"><stop offset="0.000" stop-color="#ff6900"/><stop offset="0.095" stop-color="#ff6900"/><stop offset="0.196" stop-color="#ff9600"/><stop offset="1.000" stop-color="#ff8200"/></linearGradient><linearGradient id="d78"><stop offset="0.000" stop-color="#ff6a00"/><stop offset="0.100" stop-color="#ff6b00"/><stop offset="0.196" stop-color="#ff9600"/><stop offset="1.000" stop-color="#ff8100"/></linearGradient><linearGradient id="d79"><stop offset="0.000" stop-color="#ff6b00"/><stop offset="0.100" stop-color="#ff6c00"/><stop offset="0.196" stop-color="#ff9600"/><stop offset="1.000" stop-color="#ff8100"/></linearGradient><linearGradient id="d80"><stop offset="0.000" stop-color="#ff6b00"/><stop offset="0.100" stop-color="#ff6c00"/><stop offset="0.196" stop-color="#ff9600"/><stop offset="1.000" stop-color="#ff8100"/></linearGradient><linearGradient id="d81"><stop offset="0.000" stop-color="#ff6c00"/><stop offset="0.100" stop-color="#ff6d00"/><stop offset="0.196" stop-color="#ff9600"/><stop offset="1.000" stop-color="#ff8000"/></linearGradient><linearGradient id="d82"><stop offset="0.000" stop-color="#ff6d00"/><stop offset="0.100" stop-color="#ff6e00"/><stop offset="0.196" stop-color="#ff9600"/><stop offset="0.993" stop-color="#ff7f00"/><stop offset="1.000" stop-color="#ff7f00"/></linearGradient><linearGradient id="d83"><stop offset="0.000" stop-color="#ff6e00"/><stop offset="0.100" stop-color="#ff6f00"/><stop offset="0.201" stop-color="#ff9600"/><stop offset="0.983" stop-color="#ff7d00"/><stop offset="1.000" stop-color="#ff7e00"/></linearGradient><linearGradient id="d84"><stop offset="0.000" stop-color="#ff6f00"/><stop offset="0.105" stop-color="#ff7100"/><stop offset="0.201" stop-color="#ff9600"/><stop offset="0.973" stop-color="#ff7b00"/><stop offset="1.000" stop-color="#ff7c00"/></linearGradient><linearGradient id="d85"><stop offset="0.000" stop-color="#ff7000"/><stop offset="0.105" stop-color="#ff7200"/><stop offset="0.201" stop-color="#ff9600"/><stop offset="0.963" stop-color="#ff7800"/><stop offset="1.000" stop-color="#ff7a00"/></linearGradient><linearGradient id="d86"><stop offset="0.000" stop-color="#ff7100"/><stop offset="0.105" stop-color="#ff7300"/><stop offset="0.201" stop-color="#ff9600"/><stop offset="0.948" stop-color="#ff7500"/><stop offset="1.000" stop-color="#ff7800"/></linearGradient><linearGradient id="d87"><stop offset="0.000" stop-color="#ff7200"/><stop offset="0.105" stop-color="#ff7400"/><stop offset="0.201" stop-color="#ff9600"/><stop offset="0.933" stop-color="#ff7200"/><stop offset="1.000" stop-color="#ff7600"/></linearGradient><linearGradient id="d88"><stop offset="0.000" stop-color="#ff7300"/><stop offset="0.105" stop-color="#ff7400"/><stop offset="0.201" stop-color="#ff9500"/><stop offset="0.923" stop-color="#ff6f00"/><stop offset="1.000" stop-color="#ff7400"/></linearGradient><linearGradient id="d89"><stop offset="0.000" stop-color="#ff7400"/><stop offset="0.110" stop-color="#ff7700"/><stop offset="0.206" stop-color="#ff9500"/><stop offset="0.908" stop-color="#ff6b00"/><stop offset="1.000" stop-color="#ff7100"/></linearGradient><linearGradient id="d90"><stop offset="0.000" stop-color="#ff7500"/><stop offset="0.110" stop-color="#ff7800"/><stop offset="0.206" stop-color="#ff9500"/><stop offset="0.898" stop-color="#ff6700"/><stop offset="1.000" stop-color="#ff6e00"/></linearGradient><linearGradient id="d91"><stop offset="0.000" stop-color="#ff7600"/><stop offset="0.110" stop-color="#ff7900"/><stop offset="0.206" stop-color="#ff9500"/><stop offset="0.883" stop-color="#ff6300"/><stop offset="1.000" stop-color="#ff6b00"/></linearGradient><linearGradient id="d92"><stop offset="0.000" stop-color="#ff7700"/><stop offset="0.110" stop-color="#ff7a00"/><stop offset="0.211" stop-color="#ff9500"/><stop offset="0.702" stop-color="#ff6700"/><stop offset="0.948" stop-color="#ff6200"/><stop offset="1.000" stop-color="#ff6700"/></linearGradient><linearGradient id="d93"><stop offset="0.000" stop-color="#ff7800"/><stop offset="0.115" stop-color="#ff7c00"/><stop offset="0.211" stop-color="#ff9500"/><stop offset="0.632" stop-color="#ff6c00"/><stop offset="0.888" stop-color="#ff5a00"/><stop offset="1.000" stop-color="#ff6400"/></linearGradient><linearGradient id="d94"><stop offset="0.000" stop-color="#ff7900"/><stop offset="0.115" stop-color="#ff7d00"/><stop offset="0.216" stop-color="#ff9500"/><stop offset="0.612" stop-color="#ff6d00"/><stop offset="0.868" stop-color="#ff5500"/><stop offset="1.000" stop-color="#ff6000"/></linearGradient><linearGradient id="d95"><stop offset="0.000" stop-color="#ff7a00"/><stop offset="0.115" stop-color="#ff7e00"/><stop offset="0.216" stop-color="#ff9400"/><stop offset="0.587" stop-color="#ff6f00"/><stop offset="0.843" stop-color="#ff5000"/><stop offset="1.000" stop-color="#ff5c00"/></linearGradient><linearGradient id="d96"><stop offset="0.000" stop-color="#ff7b00"/><stop offset="0.120" stop-color="#ff8000"/><stop offset="0.226" stop-color="#ff9400"/><stop offset="0.577" stop-color="#ff6f00"/><stop offset="0.827" stop-color="#ff4b00"/><stop offset="1.000" stop-color="#ff5800"/></linearGradient><linearGradient id="d97"><stop offset="0.000" stop-color="#ff7c00"/><stop offset="0.120" stop-color="#ff8100"/><stop offset="0.226" stop-color="#ff9400"/><stop offset="0.562" stop-color="#ff7000"/><stop offset="0.812" stop-color="#ff4600"/><stop offset="0.998" stop-color="#ff5300"/><stop offset="1.000" stop-color="#ff5400"/></linearGradient><linearGradient id="d98"><stop offset="0.000" stop-color="#ff7e00"/><stop offset="0.125" stop-color="#ff8300"/><stop offset="0.236" stop-color="#ff9400"/><stop offset="0.557" stop-color="#ff7000"/><stop offset="0.802" stop-color="#ff4100"/><stop offset="0.978" stop-color="#ff4a00"/><stop offset="1.000" stop-color="#ff4f00"/></linearGradient><linearGradient id="d99"><stop offset="0.000" stop-color="#ff7f00"/><stop offset="0.125" stop-color="#ff8400"/><stop offset="0.241" stop-color="#ff9400"/><stop offset="0.547" stop-color="#ff7200"/><stop offset="0.792" stop-color="#ff3c00"/><stop offset="0.968" stop-color="#ff4300"/><stop offset="1.000" stop-color="#ff4a00"/></linearGradient><linearGradient id="d100"><stop offset="0.000" stop-color="#ff8000"/><stop offset="0.130" stop-color="#ff8600"/><stop offset="0.256" stop-color="#ff9300"/><stop offset="0.547" stop-color="#ff7100"/><stop offset="0.782" stop-color="#ff3800"/><stop offset="0.968" stop-color="#ff3d00"/><stop offset="1.000" stop-color="#ff4500"/></linearGradient><linearGradient id="d101"><stop offset="0.000" stop-color="#ff8100"/><stop offset="0.130" stop-color="#ff8700"/><stop offset="0.261" stop-color="#ff9300"/><stop offset="0.537" stop-color="#ff7300"/><stop offset="0.767" stop-color="#ff3400"/><stop offset="0.948" stop-color="#ff3500"/><stop offset="1.000" stop-color="#ff3f00"/></linearGradient><linearGradient id="d102"><stop offset="0.000" stop-color="#ff8200"/><stop offset="0.135" stop-color="#ff8900"/><stop offset="0.281" stop-color="#ff9200"/><stop offset="0.537" stop-color="#ff7300"/><stop offset="0.757" stop-color="#ff3100"/><stop offset="0.933" stop-color="#ff2f00"/><stop offset="1.000" stop-color="#ff3b00"/></linearGradient><linearGradient id="d103"><stop offset="0.000" stop-color="#ff8600"/><stop offset="0.140" stop-color="#ff8b00"/><stop offset="0.301" stop-color="#ff9100"/><stop offset="0.537" stop-color="#ff7300"/><stop offset="0.752" stop-color="#ff2e00"/><stop offset="0.923" stop-color="#ff2900"/><stop offset="1.000" stop-color="#ff3700"/></linearGradient><linearGradient id="d104"><stop offset="0.000" stop-color="#ff9400"/><stop offset="0.105" stop-color="#ff9000"/><stop offset="0.130" stop-color="#ff8900"/><stop offset="0.286" stop-color="#ff9200"/><stop offset="0.527" stop-color="#ff7600"/><stop offset="0.692" stop-color="#ff4000"/><stop offset="0.838" stop-color="#ff2200"/><stop offset="0.998" stop-color="#ff3400"/><stop offset="1.000" stop-color="#ff3400"/></linearGradient><linearGradient id="d105"><stop offset="0.000" stop-color="#ffa700"/><stop offset="0.105" stop-color="#ffa100"/><stop offset="0.140" stop-color="#ff8c00"/><stop offset="0.321" stop-color="#ff9000"/><stop offset="0.532" stop-color="#ff7500"/><stop offset="0.652" stop-color="#ff5100"/><stop offset="0.792" stop-color="#ff3500"/><stop offset="0.832" stop-color="#ff2000"/><stop offset="0.988" stop-color="#ff2f00"/><stop offset="1.000" stop-color="#ff3200"/></linearGradient><linearGradient id="d106"><stop offset="0.000" stop-color="#ffbd00"/><stop offset="0.105" stop-color="#ffb700"/><stop offset="0.130" stop-color="#ff9f00"/><stop offset="0.140" stop-color="#ff8c00"/><stop offset="0.351" stop-color="#ff9300"/><stop offset="0.562" stop-color="#ff6d00"/><stop offset="0.797" stop-color="#ff4000"/><stop offset="0.858" stop-color="#ff1f00"/><stop offset="1.000" stop-color="#ff3100"/></linearGradient><linearGradient id="d107"><stop offset="0.000" stop-color="#ffd400"/><stop offset="0.100" stop-color="#ffd200"/><stop offset="0.130" stop-color="#ffb500"/><stop offset="0.140" stop-color="#ff9400"/><stop offset="0.186" stop-color="#ff9200"/><stop offset="0.331" stop-color="#ff9000"/><stop offset="0.346" stop-color="#ffa600"/><stop offset="0.371" stop-color="#ff8d00"/><stop offset="0.737" stop-color="#ff5a00"/><stop offset="0.802" stop-color="#ff4900"/><stop offset="0.893" stop-color="#ff1f00"/><stop offset="1.000" stop-color="#ff3100"/></linearGradient><linearGradient id="d108"><stop offset="0.000" stop-color="#ffeb00"/><stop offset="0.105" stop-color="#ffe500"/><stop offset="0.130" stop-color="#ffcc00"/><stop offset="0.145" stop-color="#ff9800"/><stop offset="0.171" stop-color="#ff9100"/><stop offset="0.326" stop-color="#ff9700"/><stop offset="0.346" stop-color="#ffbd00"/><stop offset="0.361" stop-color="#ffa900"/><stop offset="0.381" stop-color="#ff8d00"/><stop offset="0.522" stop-color="#ff8300"/><stop offset="0.702" stop-color="#ff7100"/><stop offset="0.802" stop-color="#ff5600"/><stop offset="0.878" stop-color="#ff2f00"/><stop offset="0.898" stop-color="#ff2100"/><stop offset="1.000" stop-color="#ff3300"/></linearGradient><linearGradient id="d109"><stop offset="0.000" stop-color="#fdff00"/><stop offset="0.105" stop-color="#fffb00"/><stop offset="0.130" stop-color="#ffe300"/><stop offset="0.145" stop-color="#ffad00"/><stop offset="0.160" stop-color="#ff9000"/><stop offset="0.311" stop-color="#ff9100"/><stop offset="0.346" stop-color="#ffd400"/><stop offset="0.356" stop-color="#ffcb00"/><stop offset="0.376" stop-color="#ffa700"/><stop offset="0.386" stop-color="#ff8d00"/><stop offset="0.496" stop-color="#ff8800"/><stop offset="0.567" stop-color="#ff9300"/><stop offset="0.727" stop-color="#ff7700"/><stop offset="0.807" stop-color="#ff5f00"/><stop offset="0.878" stop-color="#ff3e00"/><stop offset="0.903" stop-color="#ff2500"/><stop offset="1.000" stop-color="#ff3600"/></linearGradient><linearGradient id="d110"><stop offset="0.000" stop-color="#d3ff00"/><stop offset="0.100" stop-color="#d8ff00"/><stop offset="0.115" stop-color="#f9ff00"/><stop offset="0.130" stop-color="#fff900"/><stop offset="0.145" stop-color="#ffc300"/><stop offset="0.155" stop-color="#ffb400"/><stop offset="0.165" stop-color="#ff9100"/><stop offset="0.306" stop-color="#ff9100"/><stop offset="0.316" stop-color="#ffb600"/><stop offset="0.336" stop-color="#ffd900"/><stop offset="0.346" stop-color="#ffeb00"/><stop offset="0.361" stop-color="#ffd600"/><stop offset="0.376" stop-color="#ffbd00"/><stop offset="0.386" stop-color="#ff8e00"/><stop offset="0.476" stop-color="#ff8e00"/><stop offset="0.547" stop-color="#ffa700"/><stop offset="0.787" stop-color="#ff7900"/><stop offset="0.858" stop-color="#ff5600"/><stop offset="0.913" stop-color="#ff2b00"/><stop offset="1.000" stop-color="#ff3a00"/></linearGradient><linearGradient id="d111"><stop offset="0.000" stop-color="#99ff00"/><stop offset="0.100" stop-color="#9fff00"/><stop offset="0.120" stop-color="#cfff00"/><stop offset="0.125" stop-color="#d3ff00"/><stop offset="0.135" stop-color="#fffe00"/><stop offset="0.145" stop-color="#ffdb00"/><stop offset="0.155" stop-color="#ffca00"/><stop offset="0.171" stop-color="#ff9100"/><stop offset="0.301" stop-color="#ff9200"/><stop offset="0.306" stop-color="#ff9c00"/><stop offset="0.316" stop-color="#ffcc00"/><stop offset="0.346" stop-color="#feff00"/><stop offset="0.356" stop-color="#fff800"/><stop offset="0.376" stop-color="#ffd400"/><stop offset="0.381" stop-color="#ffbf00"/><stop offset="0.386" stop-color="#ff9800"/><stop offset="0.396" stop-color="#ff8e00"/><stop offset="0.471" stop-color="#ff9a00"/><stop offset="0.542" stop-color="#ffbd00"/><stop offset="0.717" stop-color="#ff9700"/><stop offset="0.797" stop-color="#ff8100"/><stop offset="0.858" stop-color="#ff6300"/><stop offset="0.918" stop-color="#ff3600"/><stop offset="1.000" stop-color="#ff4000"/></linearGradient><linearGradient id="d112"><stop offset="0.000" stop-color="#61f900"/><stop offset="0.100" stop-color="#65f900"/><stop offset="0.120" stop-color="#96ff00"/><stop offset="0.125" stop-color="#9aff00"/><stop offset="0.130" stop-color="#afff00"/><stop offset="0.140" stop-color="#feff00"/><stop offset="0.155" stop-color="#ffe200"/><stop offset="0.171" stop-color="#ffa200"/><stop offset="0.221" stop-color="#ff9400"/><stop offset="0.296" stop-color="#ff9400"/><stop offset="0.301" stop-color="#ff9c00"/><stop offset="0.316" stop-color="#ffe400"/><stop offset="0.336" stop-color="#f9ff00"/><stop offset="0.346" stop-color="#d5ff00"/><stop offset="0.351" stop-color="#d7ff00"/><stop offset="0.361" stop-color="#fcff00"/><stop offset="0.376" stop-color="#ffeb00"/><stop offset="0.381" stop-color="#ffd600"/><stop offset="0.391" stop-color="#ff8f00"/><stop offset="0.416" stop-color="#ff9200"/><stop offset="0.446" stop-color="#ffa700"/><stop offset="0.542" stop-color="#ffd400"/><stop offset="0.712" stop-color="#ffaf00"/><stop offset="0.812" stop-color="#ff8600"/><stop offset="0.883" stop-color="#ff5e00"/><stop offset="0.918" stop-color="#ff4400"/><stop offset="0.963" stop-color="#ff3f00"/><stop offset="1.000" stop-color="#ff4700"/></linearGradient><linearGradient id="d113"><stop offset="0.000" stop-color="#2bf100"/><stop offset="0.100" stop-color="#2ff200"/><stop offset="0.120" stop-color="#5df800"/><stop offset="0.125" stop-color="#60f900"/><stop offset="0.130" stop-color="#75fc00"/><stop offset="0.140" stop-color="#d5ff00"/><stop offset="0.145" stop-color="#f8ff00"/><stop offset="0.155" stop-color="#fff800"/><stop offset="0.171" stop-color="#ffb900"/><stop offset="0.216" stop-color="#ffa700"/><stop offset="0.296" stop-color="#ffa700"/><stop offset="0.301" stop-color="#ffb200"/><stop offset="0.316" stop-color="#fffa00"/><stop offset="0.326" stop-color="#f9ff00"/><stop offset="0.331" stop-color="#e7ff00"/><stop offset="0.341" stop-color="#acff00"/><stop offset="0.346" stop-color="#9bff00"/><stop offset="0.351" stop-color="#9dff00"/><stop offset="0.361" stop-color="#ceff00"/><stop offset="0.366" stop-color="#edff00"/><stop offset="0.376" stop-color="#fdff00"/><stop offset="0.381" stop-color="#ffed00"/><stop offset="0.391" stop-color="#ff9f00"/><stop offset="0.396" stop-color="#ff9400"/><stop offset="0.421" stop-color="#ffab00"/><stop offset="0.446" stop-color="#ffbe00"/><stop offset="0.542" stop-color="#ffeb00"/><stop offset="0.707" stop-color="#ffc800"/><stop offset="0.792" stop-color="#ffa500"/><stop offset="0.853" stop-color="#ff7f00"/><stop offset="0.883" stop-color="#ff6b00"/><stop offset="0.918" stop-color="#ff5000"/><stop offset="0.963" stop-color="#ff4800"/><stop offset="1.000" stop-color="#ff5000"/></linearGradient><linearGradient id="d114"><stop offset="0.000" stop-color="#04ec00"/><stop offset="0.100" stop-color="#04ec00"/><stop offset="0.125" stop-color="#29f100"/><stop offset="0.130" stop-color="#3df400"/><stop offset="0.145" stop-color="#c4ff00"/><stop offset="0.160" stop-color="#fffa00"/><stop offset="0.171" stop-color="#ffd000"/><stop offset="0.216" stop-color="#ffbd00"/><stop offset="0.296" stop-color="#ffbd00"/><stop offset="0.301" stop-color="#ffc800"/><stop offset="0.311" stop-color="#fffb00"/><stop offset="0.321" stop-color="#d3ff00"/><stop offset="0.326" stop-color="#c7ff00"/><stop offset="0.346" stop-color="#51f700"/><stop offset="0.351" stop-color="#53f700"/><stop offset="0.366" stop-color="#b3ff00"/><stop offset="0.371" stop-color="#cbff00"/><stop offset="0.376" stop-color="#d3ff00"/><stop offset="0.381" stop-color="#fcff00"/><stop offset="0.391" stop-color="#ffb500"/><stop offset="0.396" stop-color="#ffa700"/><stop offset="0.441" stop-color="#ffd400"/><stop offset="0.537" stop-color="#fdff00"/><stop offset="0.707" stop-color="#ffdf00"/><stop offset="0.792" stop-color="#ffbb00"/><stop offset="0.843" stop-color="#ff9000"/><stop offset="0.878" stop-color="#ff7f00"/><stop offset="0.913" stop-color="#ff5d00"/><stop offset="0.973" stop-color="#ff5300"/><stop offset="1.000" stop-color="#ff5800"/></linearGradient><linearGradient id="d115"><stop offset="0.000" stop-color="#00ef1c"/><stop offset="0.100" stop-color="#00ef1e"/><stop offset="0.125" stop-color="#00eb00"/><stop offset="0.130" stop-color="#0bed00"/><stop offset="0.140" stop-color="#60f900"/><stop offset="0.145" stop-color="#8aff00"/><stop offset="0.155" stop-color="#b2ff00"/><stop offset="0.160" stop-color="#e6ff00"/><stop offset="0.165" stop-color="#fff900"/><stop offset="0.176" stop-color="#ffe000"/><stop offset="0.231" stop-color="#ffd400"/><stop offset="0.296" stop-color="#ffd500"/><stop offset="0.306" stop-color="#fff700"/><stop offset="0.311" stop-color="#e4ff00"/><stop offset="0.316" stop-color="#adff00"/><stop offset="0.326" stop-color="#8dff00"/><stop offset="0.331" stop-color="#74fc00"/><stop offset="0.336" stop-color="#44f500"/><stop offset="0.341" stop-color="#25f000"/><stop offset="0.346" stop-color="#13ee00"/><stop offset="0.351" stop-color="#15ee00"/><stop offset="0.361" stop-color="#4bf600"/><stop offset="0.366" stop-color="#79fc00"/><stop offset="0.371" stop-color="#91ff00"/><stop offset="0.376" stop-color="#9aff00"/><stop offset="0.381" stop-color="#cfff00"/><stop offset="0.386" stop-color="#fff200"/><stop offset="0.391" stop-color="#ffcc00"/><stop offset="0.396" stop-color="#ffbd00"/><stop offset="0.441" stop-color="#ffeb00"/><stop offset="0.502" stop-color="#f7ff00"/><stop offset="0.537" stop-color="#d4ff00"/><stop offset="0.592" stop-color="#e7ff00"/><stop offset="0.642" stop-color="#fbff00"/><stop offset="0.707" stop-color="#fff500"/><stop offset="0.792" stop-color="#ffd200"/><stop offset="0.848" stop-color="#ff9e00"/><stop offset="0.883" stop-color="#ff8800"/><stop offset="0.913" stop-color="#ff6a00"/><stop offset="0.973" stop-color="#ff5c00"/><stop offset="1.000" stop-color="#ff6000"/></linearGradient><linearGradient id="d116"><stop offset="0.000" stop-color="#00f33c"/><stop offset="0.095" stop-color="#00f548"/><stop offset="0.130" stop-color="#00ee17"/><stop offset="0.135" stop-color="#02eb00"/><stop offset="0.145" stop-color="#4ef600"/><stop offset="0.150" stop-color="#5df800"/><stop offset="0.155" stop-color="#78fc00"/><stop offset="0.165" stop-color="#e8ff00"/><stop offset="0.171" stop-color="#fffd00"/><stop offset="0.216" stop-color="#ffeb00"/><stop offset="0.296" stop-color="#ffeb00"/><stop offset="0.301" stop-color="#fff600"/><stop offset="0.306" stop-color="#eeff00"/><stop offset="0.311" stop-color="#aaff00"/><stop offset="0.316" stop-color="#73fb00"/><stop offset="0.326" stop-color="#49f500"/><stop offset="0.336" stop-color="#06ec00"/><stop offset="0.346" stop-color="#00ef21"/><stop offset="0.351" stop-color="#00ef20"/><stop offset="0.356" stop-color="#00ed11"/><stop offset="0.361" stop-color="#0ded00"/><stop offset="0.371" stop-color="#4ef600"/><stop offset="0.376" stop-color="#5bf800"/><stop offset="0.381" stop-color="#95ff00"/><stop offset="0.386" stop-color="#f7ff00"/><stop offset="0.391" stop-color="#ffe300"/><stop offset="0.396" stop-color="#ffd400"/><stop offset="0.436" stop-color="#feff00"/><stop offset="0.471" stop-color="#f3ff00"/><stop offset="0.527" stop-color="#a0ff00"/><stop offset="0.562" stop-color="#9eff00"/><stop offset="0.662" stop-color="#d3ff00"/><stop offset="0.697" stop-color="#e6ff00"/><stop offset="0.732" stop-color="#ffff00"/><stop offset="0.792" stop-color="#ffe900"/><stop offset="0.848" stop-color="#ffb400"/><stop offset="0.873" stop-color="#ffa500"/><stop offset="0.913" stop-color="#ff7800"/><stop offset="0.968" stop-color="#ff6400"/><stop offset="1.000" stop-color="#ff6800"/></linearGradient><linearGradient id="d117"><stop offset="0.000" stop-color="#00f54b"/><stop offset="0.090" stop-color="#00f862"/><stop offset="0.115" stop-color="#00f549"/><stop offset="0.130" stop-color="#00f232"/><stop offset="0.140" stop-color="#04ec00"/><stop offset="0.145" stop-color="#1aef00"/><stop offset="0.150" stop-color="#23f000"/><stop offset="0.155" stop-color="#3cf400"/><stop offset="0.165" stop-color="#afff00"/><stop offset="0.171" stop-color="#deff00"/><stop offset="0.176" stop-color="#f0ff00"/><stop offset="0.221" stop-color="#fdff00"/><stop offset="0.296" stop-color="#fdff00"/><stop offset="0.301" stop-color="#f0ff00"/><stop offset="0.311" stop-color="#71fb00"/><stop offset="0.316" stop-color="#3ef400"/><stop offset="0.326" stop-color="#18ee00"/><stop offset="0.331" stop-color="#00ed0c"/><stop offset="0.341" stop-color="#00f441"/><stop offset="0.346" stop-color="#00f64f"/><stop offset="0.351" stop-color="#00f54d"/><stop offset="0.361" stop-color="#00f023"/><stop offset="0.366" stop-color="#00eb04"/><stop offset="0.371" stop-color="#1eef00"/><stop offset="0.376" stop-color="#2df100"/><stop offset="0.381" stop-color="#58f800"/><stop offset="0.386" stop-color="#c1ff00"/><stop offset="0.391" stop-color="#fff900"/><stop offset="0.396" stop-color="#ffeb00"/><stop offset="0.421" stop-color="#f9ff00"/><stop offset="0.436" stop-color="#d6ff00"/><stop offset="0.471" stop-color="#b9ff00"/><stop offset="0.522" stop-color="#6cfa00"/><stop offset="0.552" stop-color="#62f900"/><stop offset="0.662" stop-color="#99ff00"/><stop offset="0.697" stop-color="#adff00"/><stop offset="0.757" stop-color="#edff00"/><stop offset="0.797" stop-color="#fffb00"/><stop offset="0.853" stop-color="#ffc900"/><stop offset="0.873" stop-color="#ffbc00"/><stop offset="0.903" stop-color="#ff8d00"/><stop offset="0.953" stop-color="#ff7800"/><stop offset="0.958" stop-color="#ff6b00"/><stop offset="1.000" stop-color="#ff6f00"/></linearGradient><linearGradient id="d118"><stop offset="0.000" stop-color="#00f650"/><stop offset="0.080" stop-color="#00fb79"/><stop offset="0.105" stop-color="#00f96b"/><stop offset="0.130" stop-color="#00f33e"/><stop offset="0.140" stop-color="#00ec05"/><stop offset="0.155" stop-color="#2df100"/><stop offset="0.160" stop-color="#4af600"/><stop offset="0.171" stop-color="#a5ff00"/><stop offset="0.176" stop-color="#b6ff00"/><stop offset="0.206" stop-color="#d3ff00"/><stop offset="0.296" stop-color="#d3ff00"/><stop offset="0.301" stop-color="#bdff00"/><stop offset="0.306" stop-color="#98ff00"/><stop offset="0.316" stop-color="#3df400"/><stop offset="0.326" stop-color="#13ee00"/><stop offset="0.331" stop-color="#00ee15"/><stop offset="0.341" stop-color="#00fa6f"/><stop offset="0.346" stop-color="#00fc7f"/><stop offset="0.351" stop-color="#00fc7d"/><stop offset="0.356" stop-color="#00f969"/><stop offset="0.366" stop-color="#00ed0c"/><stop offset="0.376" stop-color="#2af100"/><stop offset="0.381" stop-color="#30f200"/><stop offset="0.391" stop-color="#e7ff00"/><stop offset="0.396" stop-color="#fdff00"/><stop offset="0.411" stop-color="#edff00"/><stop offset="0.431" stop-color="#a7ff00"/><stop offset="0.476" stop-color="#78fc00"/><stop offset="0.527" stop-color="#31f200"/><stop offset="0.562" stop-color="#2ff200"/><stop offset="0.662" stop-color="#61f900"/><stop offset="0.697" stop-color="#73fb00"/><stop offset="0.757" stop-color="#b4ff00"/><stop offset="0.782" stop-color="#c4ff00"/><stop offset="0.807" stop-color="#f9ff00"/><stop offset="0.873" stop-color="#ffd300"/><stop offset="0.908" stop-color="#ff9700"/><stop offset="0.953" stop-color="#ff8600"/><stop offset="0.958" stop-color="#ff7200"/><stop offset="1.000" stop-color="#ff7500"/></linearGradient><linearGradient id="d119"><stop offset="0.000" stop-color="#00f757"/><stop offset="0.070" stop-color="#00ff97"/><stop offset="0.100" stop-color="#00fe8f"/><stop offset="0.125" stop-color="#00f861"/><stop offset="0.130" stop-color="#00f650"/><stop offset="0.140" stop-color="#00ed12"/><stop offset="0.145" stop-color="#08ec00"/><stop offset="0.155" stop-color="#25f000"/><stop offset="0.160" stop-color="#44f500"/><stop offset="0.165" stop-color="#74fc00"/><stop offset="0.171" stop-color="#8dff00"/><stop offset="0.191" stop-color="#b4ff00"/><stop offset="0.206" stop-color="#cfff00"/><stop offset="0.296" stop-color="#cfff00"/><stop offset="0.301" stop-color="#bdff00"/><stop offset="0.306" stop-color="#98ff00"/><stop offset="0.316" stop-color="#3bf300"/><stop offset="0.326" stop-color="#0ded00"/><stop offset="0.331" stop-color="#00ef1f"/><stop offset="0.341" stop-color="#00fc82"/><stop offset="0.346" stop-color="#00ff9b"/><stop offset="0.351" stop-color="#00ff98"/><stop offset="0.356" stop-color="#00fb79"/><stop offset="0.366" stop-color="#00ee15"/><stop offset="0.371" stop-color="#13ee00"/><stop offset="0.376" stop-color="#27f100"/><stop offset="0.381" stop-color="#2ef200"/><stop offset="0.386" stop-color="#4df600"/><stop offset="0.391" stop-color="#aeff00"/><stop offset="0.396" stop-color="#d3ff00"/><stop offset="0.411" stop-color="#b3ff00"/><stop offset="0.431" stop-color="#6dfb00"/><stop offset="0.476" stop-color="#42f400"/><stop offset="0.512" stop-color="#10ed00"/><stop offset="0.557" stop-color="#06ec00"/><stop offset="0.692" stop-color="#38f300"/><stop offset="0.757" stop-color="#7afc00"/><stop offset="0.782" stop-color="#8aff00"/><stop offset="0.827" stop-color="#f8ff00"/><stop offset="0.868" stop-color="#fff000"/><stop offset="0.913" stop-color="#ffa800"/><stop offset="0.953" stop-color="#ff9400"/><stop offset="0.958" stop-color="#ff7800"/><stop offset="1.000" stop-color="#ff7b00"/></linearGradient><linearGradient id="d120"><stop offset="0.000" stop-color="#00f860"/><stop offset="0.060" stop-color="#00ffae"/><stop offset="0.090" stop-color="#00ffb3"/><stop offset="0.110" stop-color="#00ff9b"/><stop offset="0.125" stop-color="#00fb79"/><stop offset="0.130" stop-color="#00f966"/><stop offset="0.145" stop-color="#00ec05"/><stop offset="0.155" stop-color="#1cef00"/><stop offset="0.160" stop-color="#3cf400"/><stop offset="0.165" stop-color="#74fc00"/><stop offset="0.171" stop-color="#8dff00"/><stop offset="0.191" stop-color="#b4ff00"/><stop offset="0.206" stop-color="#cfff00"/><stop offset="0.296" stop-color="#cfff00"/><stop offset="0.301" stop-color="#bdff00"/><stop offset="0.306" stop-color="#98ff00"/><stop offset="0.316" stop-color="#39f300"/><stop offset="0.326" stop-color="#07ec00"/><stop offset="0.331" stop-color="#00f129"/><stop offset="0.341" stop-color="#00ff93"/><stop offset="0.346" stop-color="#00ffa8"/><stop offset="0.351" stop-color="#00ffa6"/><stop offset="0.356" stop-color="#00fd8a"/><stop offset="0.366" stop-color="#00ef1f"/><stop offset="0.371" stop-color="#0eed00"/><stop offset="0.376" stop-color="#24f000"/><stop offset="0.386" stop-color="#32f200"/><stop offset="0.391" stop-color="#74fc00"/><stop offset="0.396" stop-color="#99ff00"/><stop offset="0.406" stop-color="#89ff00"/><stop offset="0.431" stop-color="#37f300"/><stop offset="0.491" stop-color="#0bed00"/><stop offset="0.592" stop-color="#00eb00"/><stop offset="0.697" stop-color="#0eed00"/><stop offset="0.762" stop-color="#46f500"/><stop offset="0.782" stop-color="#53f700"/><stop offset="0.812" stop-color="#9bff00"/><stop offset="0.843" stop-color="#e4ff00"/><stop offset="0.873" stop-color="#ffff00"/><stop offset="0.913" stop-color="#ffbf00"/><stop offset="0.943" stop-color="#ffaa00"/><stop offset="0.953" stop-color="#ff9700"/><stop offset="0.958" stop-color="#ff7d00"/><stop offset="1.000" stop-color="#ff7f00"/></linearGradient><linearGradient id="d121"><stop offset="0.000" stop-color="#00f96a"/><stop offset="0.060" stop-color="#00ffcc"/><stop offset="0.085" stop-color="#00ffd5"/><stop offset="0.105" stop-color="#00ffc0"/><stop offset="0.125" stop-color="#00ff96"/><stop offset="0.130" stop-color="#00fc7f"/><stop offset="0.145" stop-color="#00ee16"/><stop offset="0.150" stop-color="#00ec04"/><stop offset="0.155" stop-color="#11ed00"/><stop offset="0.160" stop-color="#34f200"/><stop offset="0.165" stop-color="#74fc00"/><stop offset="0.171" stop-color="#8dff00"/><stop offset="0.191" stop-color="#b4ff00"/><stop offset="0.206" stop-color="#cfff00"/><stop offset="0.296" stop-color="#cfff00"/><stop offset="0.301" stop-color="#bdff00"/><stop offset="0.306" stop-color="#98ff00"/><stop offset="0.316" stop-color="#37f300"/><stop offset="0.326" stop-color="#01eb00"/><stop offset="0.341" stop-color="#00ffa0"/><stop offset="0.346" stop-color="#00ffb5"/><stop offset="0.351" stop-color="#00ffb2"/><stop offset="0.356" stop-color="#00ff99"/><stop offset="0.366" stop-color="#00f028"/><stop offset="0.371" stop-color="#08ec00"/><stop offset="0.376" stop-color="#21f000"/><stop offset="0.391" stop-color="#3cf400"/><stop offset="0.396" stop-color="#60f900"/><stop offset="0.411" stop-color="#43f500"/><stop offset="0.421" stop-color="#22f000"/><stop offset="0.456" stop-color="#14ee00"/><stop offset="0.562" stop-color="#00eb00"/><stop offset="0.697" stop-color="#07ec00"/><stop offset="0.787" stop-color="#2df100"/><stop offset="0.807" stop-color="#55f700"/><stop offset="0.843" stop-color="#aaff00"/><stop offset="0.868" stop-color="#c6ff00"/><stop offset="0.883" stop-color="#faff00"/><stop offset="0.913" stop-color="#ffd600"/><stop offset="0.928" stop-color="#ffd000"/><stop offset="0.953" stop-color="#ff9700"/><stop offset="0.958" stop-color="#ff8100"/><stop offset="1.000" stop-color="#ff8300"/></linearGradient><linearGradient id="d122"><stop offset="0.000" stop-color="#00fa73"/><stop offset="0.060" stop-color="#00ffe9"/><stop offset="0.085" stop-color="#00fff6"/><stop offset="0.105" stop-color="#00ffdb"/><stop offset="0.130" stop-color="#00ff97"/><stop offset="0.145" stop-color="#00f026"/><stop offset="0.155" stop-color="#06ec00"/><stop offset="0.160" stop-color="#2bf100"/><stop offset="0.165" stop-color="#74fc00"/><stop offset="0.171" stop-color="#8dff00"/><stop offset="0.191" stop-color="#b4ff00"/><stop offset="0.206" stop-color="#cfff00"/><stop offset="0.296" stop-color="#cfff00"/><stop offset="0.301" stop-color="#bdff00"/><stop offset="0.306" stop-color="#98ff00"/><stop offset="0.316" stop-color="#36f300"/><stop offset="0.326" stop-color="#00ec05"/><stop offset="0.336" stop-color="#00fb7a"/><stop offset="0.341" stop-color="#00ffa9"/><stop offset="0.346" stop-color="#00ffc0"/><stop offset="0.351" stop-color="#00ffbd"/><stop offset="0.356" stop-color="#00ffa3"/><stop offset="0.366" stop-color="#00f12f"/><stop offset="0.371" stop-color="#04ec00"/><stop offset="0.376" stop-color="#1eef00"/><stop offset="0.391" stop-color="#34f200"/><stop offset="0.416" stop-color="#28f100"/><stop offset="0.446" stop-color="#15ee00"/><stop offset="0.567" stop-color="#00eb00"/><stop offset="0.697" stop-color="#07ec00"/><stop offset="0.787" stop-color="#2df100"/><stop offset="0.848" stop-color="#7efd00"/><stop offset="0.868" stop-color="#8fff00"/><stop offset="0.883" stop-color="#cbff00"/><stop offset="0.893" stop-color="#f8ff00"/><stop offset="0.903" stop-color="#fff700"/><stop offset="0.918" stop-color="#ffde00"/><stop offset="0.933" stop-color="#ffc500"/><stop offset="0.958" stop-color="#ff8500"/><stop offset="1.000" stop-color="#ff8600"/></linearGradient><linearGradient id="d123"><stop offset="0.000" stop-color="#00fb7b"/><stop offset="0.060" stop-color="#00fdff"/><stop offset="0.080" stop-color="#00e9ff"/><stop offset="0.100" stop-color="#00fffd"/><stop offset="0.130" stop-color="#00ffa5"/><stop offset="0.145" stop-color="#00f232"/><stop offset="0.155" stop-color="#00eb02"/><stop offset="0.160" stop-color="#24f000"/><stop offset="0.165" stop-color="#74fc00"/><stop offset="0.171" stop-color="#8dff00"/><stop offset="0.191" stop-color="#b4ff00"/><stop offset="0.206" stop-color="#cfff00"/><stop offset="0.296" stop-color="#cfff00"/><stop offset="0.301" stop-color="#bdff00"/><stop offset="0.306" stop-color="#98ff00"/><stop offset="0.316" stop-color="#35f300"/><stop offset="0.326" stop-color="#00ec08"/><stop offset="0.336" stop-color="#00fc83"/><stop offset="0.341" stop-color="#00ffb1"/><stop offset="0.346" stop-color="#00ffc8"/><stop offset="0.351" stop-color="#00ffc5"/><stop offset="0.356" stop-color="#00ffaa"/><stop offset="0.361" stop-color="#00fb76"/><stop offset="0.371" stop-color="#01eb00"/><stop offset="0.376" stop-color="#1cef00"/><stop offset="0.391" stop-color="#33f200"/><stop offset="0.416" stop-color="#28f100"/><stop offset="0.446" stop-color="#15ee00"/><stop offset="0.567" stop-color="#00eb00"/><stop offset="0.697" stop-color="#07ec00"/><stop offset="0.787" stop-color="#2df100"/><stop offset="0.848" stop-color="#7efd00"/><stop offset="0.868" stop-color="#8fff00"/><stop offset="0.898" stop-color="#f6ff00"/><stop offset="0.908" stop-color="#ffea00"/><stop offset="0.928" stop-color="#ffd100"/><stop offset="0.958" stop-color="#ff8700"/><stop offset="1.000" stop-color="#ff8800"/></linearGradient><linearGradient id="d124"><stop offset="0.000" stop-color="#00fc7f"/><stop offset="0.055" stop-color="#00f9ff"/><stop offset="0.075" stop-color="#00d8ff"/><stop offset="0.095" stop-color="#00e5ff"/><stop offset="0.105" stop-color="#00fffd"/><stop offset="0.130" stop-color="#00ffac"/><stop offset="0.135" stop-color="#00fe8c"/><stop offset="0.145" stop-color="#00f339"/><stop offset="0.155" stop-color="#00ec07"/><stop offset="0.160" stop-color="#20f000"/><stop offset="0.165" stop-color="#74fc00"/><stop offset="0.171" stop-color="#8dff00"/><stop offset="0.191" stop-color="#b4ff00"/><stop offset="0.206" stop-color="#cfff00"/><stop offset="0.296" stop-color="#cfff00"/><stop offset="0.301" stop-color="#bdff00"/><stop offset="0.306" stop-color="#98ff00"/><stop offset="0.316" stop-color="#34f200"/><stop offset="0.326" stop-color="#00ec0a"/><stop offset="0.336" stop-color="#00fd87"/><stop offset="0.341" stop-color="#00ffb4"/><stop offset="0.346" stop-color="#00ffcc"/><stop offset="0.351" stop-color="#00ffc9"/><stop offset="0.356" stop-color="#00ffad"/><stop offset="0.361" stop-color="#00fb7a"/><stop offset="0.371" stop-color="#00eb01"/><stop offset="0.376" stop-color="#1cef00"/><stop offset="0.391" stop-color="#33f200"/><stop offset="0.416" stop-color="#28f100"/><stop offset="0.446" stop-color="#15ee00"/><stop offset="0.567" stop-color="#00eb00"/><stop offset="0.697" stop-color="#07ec00"/><stop offset="0.787" stop-color="#2df100"/><stop offset="0.848" stop-color="#7efd00"/><stop offset="0.868" stop-color="#8fff00"/><stop offset="0.898" stop-color="#f6ff00"/><stop offset="0.908" stop-color="#ffea00"/><stop offset="0.928" stop-color="#ffd100"/><stop offset="0.958" stop-color="#ff8900"/><stop offset="1.000" stop-color="#ff8a00"/></linearGradient><linearGradient id="d125"><stop offset="0.000" stop-color="#00fc7f"/><stop offset="0.055" stop-color="#00fbff"/><stop offset="0.075" stop-color="#00daff"/><stop offset="0.095" stop-color="#00e7ff"/><stop offset="0.105" stop-color="#00fffc"/><stop offset="0.130" stop-color="#00ffab"/><stop offset="0.145" stop-color="#00f338"/><stop offset="0.155" stop-color="#00ec06"/><stop offset="0.160" stop-color="#21f000"/><stop offset="0.165" stop-color="#74fc00"/><stop offset="0.171" stop-color="#8dff00"/><stop offset="0.191" stop-color="#b4ff00"/><stop offset="0.206" stop-color="#cfff00"/><stop offset="0.296" stop-color="#cfff00"/><stop offset="0.301" stop-color="#bdff00"/><stop offset="0.306" stop-color="#98ff00"/><stop offset="0.316" stop-color="#34f200"/><stop offset="0.326" stop-color="#00ec0a"/><stop offset="0.336" stop-color="#00fd86"/><stop offset="0.341" stop-color="#00ffb4"/><stop offset="0.346" stop-color="#00ffcb"/><stop offset="0.351" stop-color="#00ffc9"/><stop offset="0.356" stop-color="#00ffad"/><stop offset="0.361" stop-color="#00fb79"/><stop offset="0.371" stop-color="#00eb01"/><stop offset="0.376" stop-color="#1cef00"/><stop offset="0.391" stop-color="#33f200"/><stop offset="0.416" stop-color="#28f100"/><stop offset="0.446" stop-color="#15ee00"/><stop offset="0.567" stop-color="#00eb00"/><stop offset="0.697" stop-color="#07ec00"/><stop offset="0.787" stop-color="#2df100"/><stop offset="0.848" stop-color="#7efd00"/><stop offset="0.868" stop-color="#8fff00"/><stop offset="0.898" stop-color="#f6ff00"/><stop offset="0.908" stop-color="#ffea00"/><stop offset="0.928" stop-color="#ffd100"/><stop offset="0.958" stop-color="#ff8a00"/><stop offset="1.000" stop-color="#ff8b00"/></linearGradient><linearGradient id="d126"><stop offset="0.000" stop-color="#00fb7a"/><stop offset="0.060" stop-color="#00fffc"/><stop offset="0.080" stop-color="#00eeff"/><stop offset="0.100" stop-color="#00fff9"/><stop offset="0.130" stop-color="#00ffa2"/><stop offset="0.145" stop-color="#00f130"/><stop offset="0.155" stop-color="#00eb01"/><stop offset="0.160" stop-color="#25f000"/><stop offset="0.165" stop-color="#74fc00"/><stop offset="0.171" stop-color="#8dff00"/><stop offset="0.191" stop-color="#b4ff00"/><stop offset="0.206" stop-color="#cfff00"/><stop offset="0.296" stop-color="#cfff00"/><stop offset="0.301" stop-color="#bdff00"/><stop offset="0.306" stop-color="#98ff00"/><stop offset="0.316" stop-color="#35f300"/><stop offset="0.326" stop-color="#00ec08"/><stop offset="0.336" stop-color="#00fc81"/><stop offset="0.341" stop-color="#00ffaf"/><stop offset="0.346" stop-color="#00ffc7"/><stop offset="0.351" stop-color="#00ffc4"/><stop offset="0.356" stop-color="#00ffa8"/><stop offset="0.361" stop-color="#00fb74"/><stop offset="0.366" stop-color="#00f234"/><stop offset="0.371" stop-color="#01eb00"/><stop offset="0.376" stop-color="#1def00"/><stop offset="0.391" stop-color="#33f200"/><stop offset="0.416" stop-color="#28f100"/><stop offset="0.446" stop-color="#15ee00"/><stop offset="0.567" stop-color="#00eb00"/><stop offset="0.697" stop-color="#07ec00"/><stop offset="0.787" stop-color="#2df100"/><stop offset="0.848" stop-color="#7efd00"/><stop offset="0.868" stop-color="#8fff00"/><stop offset="0.898" stop-color="#f6ff00"/><stop offset="0.908" stop-color="#ffea00"/><stop offset="0.928" stop-color="#ffd100"/><stop offset="0.958" stop-color="#ff8b00"/><stop offset="1.000" stop-color="#ff8c00"/></linearGradient><linearGradient id="d127"><stop offset="0.000" stop-color="#00fa71"/><stop offset="0.060" stop-color="#00ffe3"/><stop offset="0.085" stop-color="#00ffef"/><stop offset="0.105" stop-color="#00ffd6"/><stop offset="0.130" stop-color="#00ff93"/><stop offset="0.145" stop-color="#00f023"/><stop offset="0.155" stop-color="#08ec00"/><stop offset="0.160" stop-color="#2df100"/><stop offset="0.165" stop-color="#74fc00"/><stop offset="0.171" stop-color="#8dff00"/><stop offset="0.191" stop-color="#b4ff00"/><stop offset="0.206" stop-color="#cfff00"/><stop offset="0.296" stop-color="#cfff00"/><stop offset="0.301" stop-color="#bdff00"/><stop offset="0.306" stop-color="#98ff00"/><stop offset="0.316" stop-color="#36f300"/><stop offset="0.326" stop-color="#00eb04"/><stop offset="0.336" stop-color="#00fb78"/><stop offset="0.341" stop-color="#00ffa8"/><stop offset="0.346" stop-color="#00ffbe"/><stop offset="0.351" stop-color="#00ffbb"/><stop offset="0.356" stop-color="#00ffa1"/><stop offset="0.366" stop-color="#00f12e"/><stop offset="0.371" stop-color="#05ec00"/><stop offset="0.376" stop-color="#1fef00"/><stop offset="0.391" stop-color="#42f400"/><stop offset="0.396" stop-color="#5af800"/><stop offset="0.411" stop-color="#43f500"/><stop offset="0.426" stop-color="#1def00"/><stop offset="0.557" stop-color="#00eb00"/><stop offset="0.697" stop-color="#07ec00"/><stop offset="0.787" stop-color="#2df100"/><stop offset="0.843" stop-color="#91ff00"/><stop offset="0.868" stop-color="#a8ff00"/><stop offset="0.893" stop-color="#fcff00"/><stop offset="0.928" stop-color="#ffd100"/><stop offset="0.958" stop-color="#ff8c00"/><stop offset="1.000" stop-color="#ff8c00"/></linearGradient><linearGradient id="d128"><stop offset="0.000" stop-color="#00f967"/><stop offset="0.060" stop-color="#00ffc5"/><stop offset="0.085" stop-color="#00ffcf"/><stop offset="0.105" stop-color="#00ffba"/><stop offset="0.125" stop-color="#00fe90"/><stop offset="0.130" stop-color="#00fb7a"/><stop offset="0.145" stop-color="#00ed12"/><stop offset="0.150" stop-color="#00eb02"/><stop offset="0.155" stop-color="#13ee00"/><stop offset="0.160" stop-color="#35f300"/><stop offset="0.165" stop-color="#74fc00"/><stop offset="0.171" stop-color="#8dff00"/><stop offset="0.191" stop-color="#b4ff00"/><stop offset="0.206" stop-color="#cfff00"/><stop offset="0.296" stop-color="#cfff00"/><stop offset="0.301" stop-color="#bdff00"/><stop offset="0.306" stop-color="#98ff00"/><stop offset="0.316" stop-color="#38f300"/><stop offset="0.326" stop-color="#02eb00"/><stop offset="0.341" stop-color="#00ff9d"/><stop offset="0.346" stop-color="#00ffb3"/><stop offset="0.351" stop-color="#00ffb0"/><stop offset="0.356" stop-color="#00ff97"/><stop offset="0.366" stop-color="#00f026"/><stop offset="0.371" stop-color="#09ec00"/><stop offset="0.376" stop-color="#21f000"/><stop offset="0.386" stop-color="#31f200"/><stop offset="0.391" stop-color="#6ffb00"/><stop offset="0.396" stop-color="#86fe00"/><stop offset="0.411" stop-color="#6efb00"/><stop offset="0.436" stop-color="#32f200"/><stop offset="0.486" stop-color="#13ee00"/><stop offset="0.532" stop-color="#01eb00"/><stop offset="0.682" stop-color="#08ec00"/><stop offset="0.762" stop-color="#45f500"/><stop offset="0.787" stop-color="#56f700"/><stop offset="0.843" stop-color="#c0ff00"/><stop offset="0.868" stop-color="#d8ff00"/><stop offset="0.883" stop-color="#feff00"/><stop offset="0.913" stop-color="#ffd200"/><stop offset="0.933" stop-color="#ffc500"/><stop offset="0.958" stop-color="#ff8d00"/><stop offset="1.000" stop-color="#ff8d00"/></linearGradient><linearGradient id="d129"><stop offset="0.000" stop-color="#00f759"/><stop offset="0.060" stop-color="#00ffa5"/><stop offset="0.095" stop-color="#00ffa7"/><stop offset="0.115" stop-color="#00fd85"/><stop offset="0.130" stop-color="#00f85f"/><stop offset="0.145" stop-color="#00eb02"/><stop offset="0.155" stop-color="#1eef00"/><stop offset="0.160" stop-color="#3ef400"/><stop offset="0.165" stop-color="#74fc00"/><stop offset="0.171" stop-color="#8dff00"/><stop offset="0.191" stop-color="#b4ff00"/><stop offset="0.206" stop-color="#cfff00"/><stop offset="0.296" stop-color="#cfff00"/><stop offset="0.301" stop-color="#bdff00"/><stop offset="0.306" stop-color="#98ff00"/><stop offset="0.316" stop-color="#3af300"/><stop offset="0.326" stop-color="#08ec00"/><stop offset="0.331" stop-color="#00f027"/><stop offset="0.341" stop-color="#00fe90"/><stop offset="0.346" stop-color="#00ffa6"/><stop offset="0.351" stop-color="#00ffa3"/><stop offset="0.356" stop-color="#00fd87"/><stop offset="0.366" stop-color="#00ef1d"/><stop offset="0.371" stop-color="#0fed00"/><stop offset="0.376" stop-color="#25f000"/><stop offset="0.381" stop-color="#2df100"/><stop offset="0.386" stop-color="#5df800"/><stop offset="0.391" stop-color="#9aff00"/><stop offset="0.396" stop-color="#b2ff00"/><stop offset="0.411" stop-color="#98ff00"/><stop offset="0.436" stop-color="#5df800"/><stop offset="0.486" stop-color="#3ff400"/><stop offset="0.537" stop-color="#1aef00"/><stop offset="0.692" stop-color="#3af300"/><stop offset="0.757" stop-color="#6efb00"/><stop offset="0.782" stop-color="#7afc00"/><stop offset="0.812" stop-color="#b4ff00"/><stop offset="0.843" stop-color="#f0ff00"/><stop offset="0.873" stop-color="#fffb00"/><stop offset="0.908" stop-color="#ffc300"/><stop offset="0.938" stop-color="#ffb700"/><stop offset="0.958" stop-color="#ff8d00"/><stop offset="1.000" stop-color="#ff8d00"/></linearGradient><linearGradient id="d130"><stop offset="0.000" stop-color="#00f023"/><stop offset="0.075" stop-color="#00f85f"/><stop offset="0.100" stop-color="#00f656"/><stop offset="0.130" stop-color="#00ef1c"/><stop offset="0.135" stop-color="#00ec05"/><stop offset="0.145" stop-color="#26f000"/><stop offset="0.155" stop-color="#3ef400"/><stop offset="0.160" stop-color="#57f700"/><stop offset="0.165" stop-color="#7ffd00"/><stop offset="0.171" stop-color="#93ff00"/><stop offset="0.186" stop-color="#a6ff00"/><stop offset="0.201" stop-color="#ccff00"/><stop offset="0.296" stop-color="#cfff00"/><stop offset="0.301" stop-color="#bdff00"/><stop offset="0.306" stop-color="#98ff00"/><stop offset="0.316" stop-color="#3bf300"/><stop offset="0.326" stop-color="#0eed00"/><stop offset="0.331" stop-color="#00ee19"/><stop offset="0.341" stop-color="#00f968"/><stop offset="0.346" stop-color="#00fc7e"/><stop offset="0.351" stop-color="#00fb7b"/><stop offset="0.356" stop-color="#00f861"/><stop offset="0.366" stop-color="#00ed11"/><stop offset="0.371" stop-color="#15ee00"/><stop offset="0.376" stop-color="#28f100"/><stop offset="0.381" stop-color="#48f500"/><stop offset="0.391" stop-color="#caff00"/><stop offset="0.396" stop-color="#e2ff00"/><stop offset="0.411" stop-color="#c8ff00"/><stop offset="0.431" stop-color="#8fff00"/><stop offset="0.502" stop-color="#5bf800"/><stop offset="0.542" stop-color="#45f500"/><stop offset="0.692" stop-color="#65f900"/><stop offset="0.757" stop-color="#99ff00"/><stop offset="0.782" stop-color="#a6ff00"/><stop offset="0.822" stop-color="#f8ff00"/><stop offset="0.873" stop-color="#ffe500"/><stop offset="0.903" stop-color="#ffb900"/><stop offset="0.943" stop-color="#ffa800"/><stop offset="0.958" stop-color="#ff8d00"/><stop offset="1.000" stop-color="#ff8e00"/></linearGradient><linearGradient id="d131"><stop offset="0.000" stop-color="#11ed00"/><stop offset="0.045" stop-color="#00ec07"/><stop offset="0.090" stop-color="#00ed12"/><stop offset="0.110" stop-color="#02eb00"/><stop offset="0.130" stop-color="#20f000"/><stop offset="0.150" stop-color="#70fb00"/><stop offset="0.160" stop-color="#90ff00"/><stop offset="0.171" stop-color="#c2ff00"/><stop offset="0.206" stop-color="#e2ff00"/><stop offset="0.296" stop-color="#e2ff00"/><stop offset="0.301" stop-color="#d0ff00"/><stop offset="0.316" stop-color="#5ff900"/><stop offset="0.326" stop-color="#3cf400"/><stop offset="0.336" stop-color="#00ec07"/><stop offset="0.341" stop-color="#00f029"/><stop offset="0.346" stop-color="#00f33d"/><stop offset="0.351" stop-color="#00f33b"/><stop offset="0.361" stop-color="#01eb00"/><stop offset="0.371" stop-color="#41f400"/><stop offset="0.376" stop-color="#50f600"/><stop offset="0.381" stop-color="#7afc00"/><stop offset="0.391" stop-color="#f7ff00"/><stop offset="0.401" stop-color="#ffff00"/><stop offset="0.411" stop-color="#f6ff00"/><stop offset="0.436" stop-color="#b5ff00"/><stop offset="0.481" stop-color="#99ff00"/><stop offset="0.537" stop-color="#70fb00"/><stop offset="0.692" stop-color="#90ff00"/><stop offset="0.757" stop-color="#c8ff00"/><stop offset="0.782" stop-color="#d6ff00"/><stop offset="0.807" stop-color="#fdff00"/><stop offset="0.853" stop-color="#ffdc00"/><stop offset="0.873" stop-color="#ffcf00"/><stop offset="0.913" stop-color="#ffa500"/><stop offset="0.953" stop-color="#ff9700"/><stop offset="0.963" stop-color="#ff8e00"/><stop offset="1.000" stop-color="#ff8e00"/></linearGradient><linearGradient id="d132"><stop offset="0.000" stop-color="#40f400"/><stop offset="0.095" stop-color="#2ef200"/><stop offset="0.130" stop-color="#55f700"/><stop offset="0.140" stop-color="#86fe00"/><stop offset="0.155" stop-color="#a6ff00"/><stop offset="0.171" stop-color="#f2ff00"/><stop offset="0.216" stop-color="#fffd00"/><stop offset="0.301" stop-color="#faff00"/><stop offset="0.306" stop-color="#dbff00"/><stop offset="0.316" stop-color="#90ff00"/><stop offset="0.326" stop-color="#7dfd00"/><stop offset="0.336" stop-color="#30f200"/><stop offset="0.341" stop-color="#13ee00"/><stop offset="0.346" stop-color="#02eb00"/><stop offset="0.351" stop-color="#04ec00"/><stop offset="0.361" stop-color="#36f300"/><stop offset="0.366" stop-color="#6efb00"/><stop offset="0.376" stop-color="#86fe00"/><stop offset="0.381" stop-color="#a6ff00"/><stop offset="0.386" stop-color="#e9ff00"/><stop offset="0.391" stop-color="#fff200"/><stop offset="0.396" stop-color="#ffe700"/><stop offset="0.426" stop-color="#f7ff00"/><stop offset="0.441" stop-color="#e2ff00"/><stop offset="0.481" stop-color="#c8ff00"/><stop offset="0.532" stop-color="#9cff00"/><stop offset="0.682" stop-color="#b7ff00"/><stop offset="0.757" stop-color="#f7ff00"/><stop offset="0.792" stop-color="#fffb00"/><stop offset="0.848" stop-color="#ffc800"/><stop offset="0.878" stop-color="#ffba00"/><stop offset="0.913" stop-color="#ff9700"/><stop offset="0.988" stop-color="#ff8e00"/><stop offset="1.000" stop-color="#ff8e00"/></linearGradient><linearGradient id="d133"><stop offset="0.000" stop-color="#70fb00"/><stop offset="0.105" stop-color="#76fc00"/><stop offset="0.130" stop-color="#8dff00"/><stop offset="0.145" stop-color="#c4ff00"/><stop offset="0.155" stop-color="#d6ff00"/><stop offset="0.165" stop-color="#feff00"/><stop offset="0.191" stop-color="#ffec00"/><stop offset="0.296" stop-color="#ffe700"/><stop offset="0.306" stop-color="#feff00"/><stop offset="0.316" stop-color="#bfff00"/><stop offset="0.326" stop-color="#a8ff00"/><stop offset="0.336" stop-color="#7dfd00"/><stop offset="0.341" stop-color="#4af600"/><stop offset="0.346" stop-color="#3af300"/><stop offset="0.351" stop-color="#3cf400"/><stop offset="0.356" stop-color="#6cfa00"/><stop offset="0.371" stop-color="#abff00"/><stop offset="0.376" stop-color="#b3ff00"/><stop offset="0.386" stop-color="#fffa00"/><stop offset="0.391" stop-color="#ffdc00"/><stop offset="0.396" stop-color="#ffd100"/><stop offset="0.441" stop-color="#fffd00"/><stop offset="0.491" stop-color="#eeff00"/><stop offset="0.537" stop-color="#cbff00"/><stop offset="0.687" stop-color="#eaff00"/><stop offset="0.737" stop-color="#fff900"/><stop offset="0.792" stop-color="#ffe500"/><stop offset="0.843" stop-color="#ffbc00"/><stop offset="0.878" stop-color="#ffac00"/><stop offset="0.908" stop-color="#ff8e00"/><stop offset="1.000" stop-color="#ff8e00"/></linearGradient><linearGradient id="d134"><stop offset="0.000" stop-color="#9aff00"/><stop offset="0.100" stop-color="#9cff00"/><stop offset="0.130" stop-color="#bbff00"/><stop offset="0.145" stop-color="#f4ff00"/><stop offset="0.160" stop-color="#fff700"/><stop offset="0.176" stop-color="#ffdc00"/><stop offset="0.236" stop-color="#ffd100"/><stop offset="0.296" stop-color="#ffd100"/><stop offset="0.306" stop-color="#ffea00"/><stop offset="0.311" stop-color="#fffd00"/><stop offset="0.326" stop-color="#d8ff00"/><stop offset="0.341" stop-color="#93ff00"/><stop offset="0.346" stop-color="#87fe00"/><stop offset="0.351" stop-color="#88fe00"/><stop offset="0.361" stop-color="#aeff00"/><stop offset="0.371" stop-color="#dbff00"/><stop offset="0.376" stop-color="#e3ff00"/><stop offset="0.381" stop-color="#fcff00"/><stop offset="0.391" stop-color="#ffc700"/><stop offset="0.406" stop-color="#ffc400"/><stop offset="0.441" stop-color="#ffe700"/><stop offset="0.527" stop-color="#f9ff00"/><stop offset="0.697" stop-color="#fff500"/><stop offset="0.792" stop-color="#ffcf00"/><stop offset="0.853" stop-color="#ffab00"/><stop offset="0.883" stop-color="#ff9800"/><stop offset="0.903" stop-color="#ff8e00"/><stop offset="1.000" stop-color="#ff8e00"/></linearGradient><linearGradient id="d135"><stop offset="0.000" stop-color="#caff00"/><stop offset="0.100" stop-color="#ccff00"/><stop offset="0.130" stop-color="#ebff00"/><stop offset="0.140" stop-color="#fffc00"/><stop offset="0.160" stop-color="#ffe100"/><stop offset="0.176" stop-color="#ffc700"/><stop offset="0.296" stop-color="#ffc000"/><stop offset="0.306" stop-color="#ffd400"/><stop offset="0.316" stop-color="#fff700"/><stop offset="0.331" stop-color="#f3ff00"/><stop offset="0.341" stop-color="#c2ff00"/><stop offset="0.346" stop-color="#b4ff00"/><stop offset="0.351" stop-color="#b6ff00"/><stop offset="0.366" stop-color="#f6ff00"/><stop offset="0.376" stop-color="#fffd00"/><stop offset="0.381" stop-color="#ffec00"/><stop offset="0.391" stop-color="#ffb900"/><stop offset="0.406" stop-color="#ffb600"/><stop offset="0.446" stop-color="#ffd100"/><stop offset="0.547" stop-color="#fff200"/><stop offset="0.702" stop-color="#ffdd00"/><stop offset="0.812" stop-color="#ffb200"/><stop offset="0.893" stop-color="#ff8e00"/><stop offset="1.000" stop-color="#ff8e00"/></linearGradient><linearGradient id="d136"><stop offset="0.000" stop-color="#f7ff00"/><stop offset="0.110" stop-color="#fcff00"/><stop offset="0.130" stop-color="#fff900"/><stop offset="0.176" stop-color="#ffb900"/><stop offset="0.296" stop-color="#ffb200"/><stop offset="0.311" stop-color="#ffd100"/><stop offset="0.321" stop-color="#ffe700"/><stop offset="0.336" stop-color="#fdff00"/><stop offset="0.346" stop-color="#e4ff00"/><stop offset="0.351" stop-color="#e5ff00"/><stop offset="0.361" stop-color="#ffff00"/><stop offset="0.376" stop-color="#ffe700"/><stop offset="0.391" stop-color="#ffab00"/><stop offset="0.406" stop-color="#ffa800"/><stop offset="0.446" stop-color="#ffc000"/><stop offset="0.552" stop-color="#ffdc00"/><stop offset="0.707" stop-color="#ffc600"/><stop offset="0.802" stop-color="#ffab00"/><stop offset="0.863" stop-color="#ff8e00"/><stop offset="1.000" stop-color="#ff8f00"/></linearGradient><linearGradient id="d137"><stop offset="0.000" stop-color="#fff200"/><stop offset="0.110" stop-color="#ffec00"/><stop offset="0.135" stop-color="#ffda00"/><stop offset="0.150" stop-color="#ffc700"/><stop offset="0.176" stop-color="#ffab00"/><stop offset="0.296" stop-color="#ffa400"/><stop offset="0.321" stop-color="#ffd100"/><stop offset="0.346" stop-color="#fffc00"/><stop offset="0.361" stop-color="#ffe900"/><stop offset="0.381" stop-color="#ffc300"/><stop offset="0.391" stop-color="#ff9e00"/><stop offset="0.406" stop-color="#ff9a00"/><stop offset="0.446" stop-color="#ffb200"/><stop offset="0.562" stop-color="#ffc600"/><stop offset="0.717" stop-color="#ffb500"/><stop offset="0.802" stop-color="#ff9d00"/><stop offset="0.838" stop-color="#ff8f00"/><stop offset="1.000" stop-color="#ff8f00"/></linearGradient><linearGradient id="d138"><stop offset="0.000" stop-color="#ffdc00"/><stop offset="0.110" stop-color="#ffd600"/><stop offset="0.140" stop-color="#ffc000"/><stop offset="0.181" stop-color="#ff9d00"/><stop offset="0.296" stop-color="#ff9600"/><stop offset="0.321" stop-color="#ffc000"/><stop offset="0.336" stop-color="#ffd500"/><stop offset="0.346" stop-color="#ffe600"/><stop offset="0.361" stop-color="#ffd300"/><stop offset="0.381" stop-color="#ffb600"/><stop offset="0.391" stop-color="#ff9100"/><stop offset="0.421" stop-color="#ff9900"/><stop offset="0.527" stop-color="#ffb800"/><stop offset="0.712" stop-color="#ffa900"/><stop offset="0.827" stop-color="#ff8f00"/><stop offset="1.000" stop-color="#ff8f00"/></linearGradient><linearGradient id="d139"><stop offset="0.000" stop-color="#ffc700"/><stop offset="0.125" stop-color="#ffc000"/><stop offset="0.165" stop-color="#ff9800"/><stop offset="0.226" stop-color="#ff9100"/><stop offset="0.301" stop-color="#ff9100"/><stop offset="0.321" stop-color="#ffb200"/><stop offset="0.351" stop-color="#ffcf00"/><stop offset="0.381" stop-color="#ffa800"/><stop offset="0.386" stop-color="#ff9400"/><stop offset="0.466" stop-color="#ff9a00"/><stop offset="0.562" stop-color="#ffab00"/><stop offset="0.717" stop-color="#ff9a00"/><stop offset="0.832" stop-color="#ff8f00"/><stop offset="1.000" stop-color="#ff8f00"/></linearGradient><linearGradient id="d140"><stop offset="0.000" stop-color="#ffb900"/><stop offset="0.125" stop-color="#ffb200"/><stop offset="0.171" stop-color="#ff9100"/><stop offset="0.311" stop-color="#ff9700"/><stop offset="0.346" stop-color="#ffbf00"/><stop offset="0.381" stop-color="#ff9a00"/><stop offset="0.396" stop-color="#ff9100"/><stop offset="0.512" stop-color="#ff9900"/><stop offset="0.697" stop-color="#ff9200"/><stop offset="1.000" stop-color="#ff8f00"/></linearGradient><linearGradient id="d141"><stop offset="0.000" stop-color="#ffab00"/><stop offset="0.125" stop-color="#ffa400"/><stop offset="0.150" stop-color="#ff9100"/><stop offset="0.321" stop-color="#ff9600"/><stop offset="0.351" stop-color="#ffb100"/><stop offset="0.381" stop-color="#ff9100"/><stop offset="1.000" stop-color="#ff8f00"/></linearGradient><linearGradient id="d142"><stop offset="0.000" stop-color="#ff9d00"/><stop offset="0.125" stop-color="#ff9600"/><stop offset="0.331" stop-color="#ff9200"/><stop offset="0.351" stop-color="#ffa300"/><stop offset="0.371" stop-color="#ff9100"/><stop offset="1.000" stop-color="#ff8f00"/></linearGradient></defs>
<rect x="277.10" y="189.10" width="199.40" height="1.30" fill="url(#d0)"/><rect x="277.10" y="190.10" width="199.40" height="1.30" fill="url(#d1)"/><rect x="277.10" y="191.10" width="199.40" height="1.30" fill="url(#d2)"/><rect x="277.10" y="192.10" width="199.40" height="1.30" fill="url(#d3)"/><rect x="277.10" y="193.10" width="199.40" height="1.30" fill="url(#d4)"/><rect x="277.10" y="194.10" width="199.40" height="1.30" fill="url(#d5)"/><rect x="277.10" y="195.10" width="199.40" height="1.30" fill="url(#d6)"/><rect x="277.10" y="196.10" width="199.40" height="1.30" fill="url(#d7)"/><rect x="277.10" y="197.10" width="199.40" height="1.30" fill="url(#d8)"/><rect x="277.10" y="198.10" width="199.40" height="1.30" fill="url(#d9)"/><rect x="277.10" y="199.10" width="199.40" height="1.30" fill="url(#d10)"/><rect x="277.10" y="200.10" width="199.40" height="1.30" fill="url(#d11)"/><rect x="277.10" y="201.10" width="199.40" height="1.30" fill="url(#d12)"/><rect x="277.10" y="202.10" width="199.40" height="1.30" fill="url(#d13)"/><rect x="277.10" y="203.10" width="199.40" height="1.30" fill="url(#d14)"/><rect x="277.10" y="204.10" width="199.40" height="1.30" fill="url(#d15)"/><rect x="277.10" y="205.10" width="199.40" height="1.30" fill="url(#d16)"/><rect x="277.10" y="206.10" width="199.40" height="1.30" fill="url(#d17)"/><rect x="277.10" y="207.10" width="199.40" height="1.30" fill="url(#d18)"/><rect x="277.10" y="208.10" width="199.40" height="1.30" fill="url(#d19)"/><rect x="277.10" y="209.10" width="199.40" height="1.30" fill="url(#d20)"/><rect x="277.10" y="210.10" width="199.40" height="1.30" fill="url(#d21)"/><rect x="277.10" y="211.10" width="199.40" height="1.30" fill="url(#d22)"/><rect x="277.10" y="212.10" width="199.40" height="1.30" fill="url(#d23)"/><rect x="277.10" y="213.10" width="199.40" height="1.30" fill="url(#d24)"/><rect x="277.10" y="214.10" width="199.40" height="1.30" fill="url(#d25)"/><rect x="277.10" y="215.10" width="199.40" height="1.30" fill="url(#d26)"/><rect x="277.10" y="216.10" width="199.40" height="1.30" fill="url(#d27)"/><rect x="277.10" y="217.10" width="199.40" height="1.30" fill="url(#d28)"/><rect x="277.10" y="218.10" width="199.40" height="1.30" fill="url(#d29)"/><rect x="277.10" y="219.10" width="199.40" height="1.30" fill="url(#d30)"/><rect x="277.10" y="220.10" width="199.40" height="1.30" fill="url(#d31)"/><rect x="277.10" y="221.10" width="199.40" height="1.30" fill="url(#d32)"/><rect x="277.10" y="222.10" width="199.40" height="1.30" fill="url(#d33)"/><rect x="277.10" y="223.10" width="199.40" height="1.30" fill="url(#d34)"/><rect x="277.10" y="224.10" width="199.40" height="1.30" fill="url(#d35)"/><rect x="277.10" y="225.10" width="199.40" height="1.30" fill="url(#d36)"/><rect x="277.10" y="226.10" width="199.40" height="1.30" fill="url(#d37)"/><rect x="277.10" y="227.10" width="199.40" height="1.30" fill="url(#d38)"/><rect x="277.10" y="228.10" width="199.40" height="1.30" fill="url(#d39)"/><rect x="277.10" y="229.10" width="199.40" height="1.30" fill="url(#d40)"/><rect x="277.10" y="230.10" width="199.40" height="1.30" fill="url(#d41)"/><rect x="277.10" y="231.10" width="199.40" height="1.30" fill="url(#d42)"/><rect x="277.10" y="232.10" width="199.40" height="1.30" fill="url(#d43)"/><rect x="277.10" y="233.10" width="199.40" height="1.30" fill="url(#d44)"/><rect x="277.10" y="234.10" width="199.40" height="1.30" fill="url(#d45)"/><rect x="277.10" y="235.10" width="199.40" height="1.30" fill="url(#d46)"/><rect x="277.10" y="236.10" width="199.40" height="1.30" fill="url(#d47)"/><rect x="277.10" y="237.10" width="199.40" height="1.30" fill="url(#d48)"/><rect x="277.10" y="238.10" width="199.40" height="1.30" fill="url(#d49)"/><rect x="277.10" y="239.10" width="199.40" height="1.30" fill="url(#d50)"/><rect x="277.10" y="240.10" width="199.40" height="1.30" fill="url(#d51)"/><rect x="277.10" y="241.10" width="199.40" height="1.30" fill="url(#d52)"/><rect x="277.10" y="242.10" width="199.40" height="1.30" fill="url(#d53)"/><rect x="277.10" y="243.10" width="199.40" height="1.30" fill="url(#d54)"/><rect x="277.10" y="244.10" width="199.40" height="1.30" fill="url(#d55)"/><rect x="277.10" y="245.10" width="199.40" height="1.30" fill="url(#d56)"/><rect x="277.10" y="246.10" width="199.40" height="1.30" fill="url(#d57)"/><rect x="277.10" y="247.10" width="199.40" height="1.30" fill="url(#d58)"/><rect x="277.10" y="248.10" width="199.40" height="1.30" fill="url(#d59)"/><rect x="277.10" y="249.10" width="199.40" height="1.30" fill="url(#d60)"/><rect x="277.10" y="250.10" width="199.40" height="1.30" fill="url(#d61)"/><rect x="277.10" y="251.10" width="199.40" height="1.30" fill="url(#d62)"/><rect x="277.10" y="252.10" width="199.40" height="1.30" fill="url(#d63)"/><rect x="277.10" y="253.10" width="199.40" height="1.30" fill="url(#d64)"/><rect x="277.10" y="254.10" width="199.40" height="1.30" fill="url(#d65)"/><rect x="277.10" y="255.10" width="199.40" height="1.30" fill="url(#d66)"/><rect x="277.10" y="256.10" width="199.40" height="1.30" fill="url(#d67)"/><rect x="277.10" y="257.10" width="199.40" height="1.30" fill="url(#d68)"/><rect x="277.10" y="258.10" width="199.40" height="1.30" fill="url(#d69)"/><rect x="277.10" y="259.10" width="199.40" height="1.30" fill="url(#d70)"/><rect x="277.10" y="260.10" width="199.40" height="1.30" fill="url(#d71)"/><rect x="277.10" y="261.10" width="199.40" height="1.30" fill="url(#d72)"/><rect x="277.10" y="262.10" width="199.40" height="1.30" fill="url(#d73)"/><rect x="277.10" y="263.10" width="199.40" height="1.30" fill="url(#d74)"/><rect x="277.10" y="264.10" width="199.40" height="1.30" fill="url(#d75)"/><rect x="277.10" y="265.10" width="199.40" height="1.30" fill="url(#d76)"/><rect x="277.10" y="266.10" width="199.40" height="1.30" fill="url(#d77)"/><rect x="277.10" y="267.10" width="199.40" height="1.30" fill="url(#d78)"/><rect x="277.10" y="268.10" width="199.40" height="1.30" fill="url(#d79)"/><rect x="277.10" y="269.10" width="199.40" height="1.30" fill="url(#d80)"/><rect x="277.10" y="270.10" width="199.40" height="1.30" fill="url(#d81)"/><rect x="277.10" y="271.10" width="199.40" height="1.30" fill="url(#d82)"/><rect x="277.10" y="272.10" width="199.40" height="1.30" fill="url(#d83)"/><rect x="277.10" y="273.10" width="199.40" height="1.30" fill="url(#d84)"/><rect x="277.10" y="274.10" width="199.40" height="1.30" fill="url(#d85)"/><rect x="277.10" y="275.10" width="199.40" height="1.30" fill="url(#d86)"/><rect x="277.10" y="276.10" width="199.40" height="1.30" fill="url(#d87)"/><rect x="277.10" y="277.10" width="199.40" height="1.30" fill="url(#d88)"/><rect x="277.10" y="278.10" width="199.40" height="1.30" fill="url(#d89)"/><rect x="277.10" y="279.10" width="199.40" height="1.30" fill="url(#d90)"/><rect x="277.10" y="280.10" width="199.40" height="1.30" fill="url(#d91)"/><rect x="277.10" y="281.10" width="199.40" height="1.30" fill="url(#d92)"/><rect x="277.10" y="282.10" width="199.40" height="1.30" fill="url(#d93)"/><rect x="277.10" y="283.10" width="199.40" height="1.30" fill="url(#d94)"/><rect x="277.10" y="284.10" width="199.40" height="1.30" fill="url(#d95)"/><rect x="277.10" y="285.10" width="199.40" height="1.30" fill="url(#d96)"/><rect x="277.10" y="286.10" width="199.40" height="1.30" fill="url(#d97)"/><rect x="277.10" y="287.10" width="199.40" height="1.30" fill="url(#d98)"/><rect x="277.10" y="288.10" width="199.40" height="1.30" fill="url(#d99)"/><rect x="277.10" y="289.10" width="199.40" height="1.30" fill="url(#d100)"/><rect x="277.10" y="290.10" width="199.40" height="1.30" fill="url(#d101)"/><rect x="277.10" y="291.10" width="199.40" height="1.30" fill="url(#d102)"/><rect x="277.10" y="292.10" width="199.40" height="1.30" fill="url(#d103)"/><rect x="277.10" y="293.10" width="199.40" height="1.30" fill="url(#d104)"/><rect x="277.10" y="294.10" width="199.40" height="1.30" fill="url(#d105)"/><rect x="277.10" y="295.10" width="199.40" height="1.30" fill="url(#d106)"/><rect x="277.10" y="296.10" width="199.40" height="1.30" fill="url(#d107)"/><rect x="277.10" y="297.10" width="199.40" height="1.30" fill="url(#d108)"/><rect x="277.10" y="298.10" width="199.40" height="1.30" fill="url(#d109)"/><rect x="277.10" y="299.10" width="199.40" height="1.30" fill="url(#d110)"/><rect x="277.10" y="300.10" width="199.40" height="1.30" fill="url(#d111)"/><rect x="277.10" y="301.10" width="199.40" height="1.30" fill="url(#d112)"/><rect x="277.10" y="302.10" width="199.40" height="1.30" fill="url(#d113)"/><rect x="277.10" y="303.10" width="199.40" height="1.30" fill="url(#d114)"/><rect x="277.10" y="304.10" width="199.40" height="1.30" fill="url(#d115)"/><rect x="277.10" y="305.10" width="199.40" height="1.30" fill="url(#d116)"/><rect x="277.10" y="306.10" width="199.40" height="1.30" fill="url(#d117)"/><rect x="277.10" y="307.10" width="199.40" height="1.30" fill="url(#d118)"/><rect x="277.10" y="308.10" width="199.40" height="1.30" fill="url(#d119)"/><rect x="277.10" y="309.10" width="199.40" height="1.30" fill="url(#d120)"/><rect x="277.10" y="310.10" width="199.40" height="1.30" fill="url(#d121)"/><rect x="277.10" y="311.10" width="199.40" height="1.30" fill="url(#d122)"/><rect x="277.10" y="312.10" width="199.40" height="1.30" fill="url(#d123)"/><rect x="277.10" y="313.10" width="199.40" height="1.30" fill="url(#d124)"/><rect x="277.10" y="314.10" width="199.40" height="1.30" fill="url(#d125)"/><rect x="277.10" y="315.10" width="199.40" height="1.30" fill="url(#d126)"/><rect x="277.10" y="316.10" width="199.40" height="1.30" fill="url(#d127)"/><rect x="277.10" y="317.10" width="199.40" height="1.30" fill="url(#d128)"/><rect x="277.10" y="318.10" width="199.40" height="1.30" fill="url(#d129)"/><rect x="277.10" y="319.10" width="199.40" height="1.30" fill="url(#d130)"/><rect x="277.10" y="320.10" width="199.40" height="1.30" fill="url(#d131)"/><rect x="277.10" y="321.10" width="199.40" height="1.30" fill="url(#d132)"/><rect x="277.10" y="322.10" width="199.40" height="1.30" fill="url(#d133)"/><rect x="277.10" y="323.10" width="199.40" height="1.30" fill="url(#d134)"/><rect x="277.10" y="324.10" width="199.40" height="1.30" fill="url(#d135)"/><rect x="277.10" y="325.10" width="199.40" height="1.30" fill="url(#d136)"/><rect x="277.10" y="326.10" width="199.40" height="1.30" fill="url(#d137)"/><rect x="277.10" y="327.10" width="199.40" height="1.30" fill="url(#d138)"/><rect x="277.10" y="328.10" width="199.40" height="1.30" fill="url(#d139)"/><rect x="277.10" y="329.10" width="199.40" height="1.30" fill="url(#d140)"/><rect x="277.10" y="330.10" width="199.40" height="1.30" fill="url(#d141)"/><rect x="277.10" y="331.10" width="199.40" height="1.30" fill="url(#d142)"/><rect x="277.10" y="332.10" width="199.40" height="1.30" fill="#ff9100"/><rect x="277.10" y="333.10" width="199.40" height="1.30" fill="#ff9100"/><rect x="277.10" y="334.10" width="199.40" height="1.30" fill="#ff9100"/><rect x="277.10" y="335.10" width="199.40" height="1.30" fill="#ff9100"/><rect x="277.10" y="336.10" width="199.40" height="1.30" fill="#ff9100"/><rect x="277.10" y="337.10" width="199.40" height="0.30" fill="#ff9100"/>
<rect x="345.6" y="189.1" width="3.0" height="148.00000000000003" fill="#fff"/>
<line x1="276.5" y1="189.3" x2="477.1" y2="189.3" stroke="#111" stroke-width="1.6"/>
<line x1="476.5" y1="189.1" x2="476.5" y2="337.1" stroke="#1a1a1a" stroke-width="1.3"/>
<line x1="277.1" y1="189.1" x2="277.1" y2="337.1" stroke="#222" stroke-width="1.3"/>
<line x1="276.5" y1="337.1" x2="477.1" y2="337.1" stroke="#222" stroke-width="1.3"/>
<rect x="345.40000000000003" y="188.1" width="3.4" height="2" fill="#fff"/>
<rect x="345.40000000000003" y="336.1" width="3.4" height="2" fill="#fff"/>
<line x1="343.7" y1="191.8" x2="347.3" y2="186.4" stroke="#111" stroke-width="1.3"/>
<line x1="346.9" y1="191.8" x2="350.5" y2="186.4" stroke="#111" stroke-width="1.3"/>
<line x1="343.7" y1="339.8" x2="347.3" y2="334.4" stroke="#111" stroke-width="1.3"/>
<line x1="346.9" y1="339.8" x2="350.5" y2="334.4" stroke="#111" stroke-width="1.3"/>
<line x1="277.1" y1="337.1" x2="274.5" y2="337.1" stroke="#222" stroke-width="1.2"/>
<line x1="277.1" y1="327.8" x2="275.7" y2="327.8" stroke="#222" stroke-width="0.9"/>
<line x1="277.1" y1="322.36" x2="275.7" y2="322.36" stroke="#222" stroke-width="0.9"/>
<line x1="277.1" y1="318.5" x2="275.7" y2="318.5" stroke="#222" stroke-width="0.9"/>
<line x1="277.1" y1="315.5" x2="275.7" y2="315.5" stroke="#222" stroke-width="0.9"/>
<line x1="277.1" y1="313.06" x2="275.7" y2="313.06" stroke="#222" stroke-width="0.9"/>
<line x1="277.1" y1="310.99" x2="275.7" y2="310.99" stroke="#222" stroke-width="0.9"/>
<line x1="277.1" y1="309.19" x2="275.7" y2="309.19" stroke="#222" stroke-width="0.9"/>
<line x1="277.1" y1="307.61" x2="275.7" y2="307.61" stroke="#222" stroke-width="0.9"/>
<line x1="277.1" y1="306.2" x2="274.5" y2="306.2" stroke="#222" stroke-width="1.2"/>
<line x1="277.1" y1="296.9" x2="275.7" y2="296.9" stroke="#222" stroke-width="0.9"/>
<line x1="277.1" y1="291.46" x2="275.7" y2="291.46" stroke="#222" stroke-width="0.9"/>
<line x1="277.1" y1="287.6" x2="275.7" y2="287.6" stroke="#222" stroke-width="0.9"/>
<line x1="277.1" y1="284.6" x2="275.7" y2="284.6" stroke="#222" stroke-width="0.9"/>
<line x1="277.1" y1="282.16" x2="275.7" y2="282.16" stroke="#222" stroke-width="0.9"/>
<line x1="277.1" y1="280.09" x2="275.7" y2="280.09" stroke="#222" stroke-width="0.9"/>
<line x1="277.1" y1="278.29" x2="275.7" y2="278.29" stroke="#222" stroke-width="0.9"/>
<line x1="277.1" y1="276.71" x2="275.7" y2="276.71" stroke="#222" stroke-width="0.9"/>
<line x1="277.1" y1="275.3" x2="274.5" y2="275.3" stroke="#222" stroke-width="1.2"/>
<line x1="277.1" y1="266" x2="275.7" y2="266" stroke="#222" stroke-width="0.9"/>
<line x1="277.1" y1="260.56" x2="275.7" y2="260.56" stroke="#222" stroke-width="0.9"/>
<line x1="277.1" y1="256.7" x2="275.7" y2="256.7" stroke="#222" stroke-width="0.9"/>
<line x1="277.1" y1="253.7" x2="275.7" y2="253.7" stroke="#222" stroke-width="0.9"/>
<line x1="277.1" y1="251.26" x2="275.7" y2="251.26" stroke="#222" stroke-width="0.9"/>
<line x1="277.1" y1="249.19" x2="275.7" y2="249.19" stroke="#222" stroke-width="0.9"/>
<line x1="277.1" y1="247.39" x2="275.7" y2="247.39" stroke="#222" stroke-width="0.9"/>
<line x1="277.1" y1="245.81" x2="275.7" y2="245.81" stroke="#222" stroke-width="0.9"/>
<line x1="277.1" y1="244.4" x2="274.5" y2="244.4" stroke="#222" stroke-width="1.2"/>
<line x1="277.1" y1="235.1" x2="275.7" y2="235.1" stroke="#222" stroke-width="0.9"/>
<line x1="277.1" y1="229.66" x2="275.7" y2="229.66" stroke="#222" stroke-width="0.9"/>
<line x1="277.1" y1="225.8" x2="275.7" y2="225.8" stroke="#222" stroke-width="0.9"/>
<line x1="277.1" y1="222.8" x2="275.7" y2="222.8" stroke="#222" stroke-width="0.9"/>
<line x1="277.1" y1="220.36" x2="275.7" y2="220.36" stroke="#222" stroke-width="0.9"/>
<line x1="277.1" y1="218.29" x2="275.7" y2="218.29" stroke="#222" stroke-width="0.9"/>
<line x1="277.1" y1="216.49" x2="275.7" y2="216.49" stroke="#222" stroke-width="0.9"/>
<line x1="277.1" y1="214.91" x2="275.7" y2="214.91" stroke="#222" stroke-width="0.9"/>
<line x1="277.1" y1="213.5" x2="274.5" y2="213.5" stroke="#222" stroke-width="1.2"/>
<line x1="277.1" y1="204.2" x2="275.7" y2="204.2" stroke="#222" stroke-width="0.9"/>
<line x1="277.1" y1="198.76" x2="275.7" y2="198.76" stroke="#222" stroke-width="0.9"/>
<line x1="277.1" y1="194.9" x2="275.7" y2="194.9" stroke="#222" stroke-width="0.9"/>
<line x1="277.1" y1="191.9" x2="275.7" y2="191.9" stroke="#222" stroke-width="0.9"/>
<line x1="277.1" y1="189.46" x2="275.7" y2="189.46" stroke="#222" stroke-width="0.9"/>
<text transform="translate(273.2 340.5) scale(0.9 1)" font-size="10.6" text-anchor="end" fill="#111">0.1</text>
<text transform="translate(273.2 309.6) scale(0.9 1)" font-size="10.6" text-anchor="end" fill="#111">1</text>
<text transform="translate(273.2 278.7) scale(0.9 1)" font-size="10.6" text-anchor="end" fill="#111">10</text>
<text transform="translate(273.2 247.8) scale(0.9 1)" font-size="10.6" text-anchor="end" fill="#111">100</text>
<text transform="translate(273.2 216.9) scale(0.9 1)" font-size="10.6" text-anchor="end" fill="#111">1000</text>
<line x1="288.3" y1="337.1" x2="288.3" y2="339.3" stroke="#222" stroke-width="1.2"/>
<text transform="translate(288.3 350.4) scale(0.9 1)" font-size="10.6" text-anchor="middle" fill="#111">440</text>
<line x1="303.8" y1="337.1" x2="303.8" y2="338.5" stroke="#222" stroke-width="1.2"/>
<line x1="319.6" y1="337.1" x2="319.6" y2="339.3" stroke="#222" stroke-width="1.2"/>
<text transform="translate(319.6 350.4) scale(0.9 1)" font-size="10.6" text-anchor="middle" fill="#111">480</text>
<line x1="335" y1="337.1" x2="335" y2="338.5" stroke="#222" stroke-width="1.2"/>
<line x1="349.9" y1="337.1" x2="349.9" y2="339.3" stroke="#222" stroke-width="1.2"/>
<text transform="translate(349.9 350.4) scale(0.9 1)" font-size="10.6" text-anchor="middle" fill="#111">520</text>
<line x1="366" y1="337.1" x2="366" y2="338.5" stroke="#222" stroke-width="1.2"/>
<line x1="381.4" y1="337.1" x2="381.4" y2="339.3" stroke="#222" stroke-width="1.2"/>
<text transform="translate(381.4 350.4) scale(0.9 1)" font-size="10.6" text-anchor="middle" fill="#111">560</text>
<line x1="396.6" y1="337.1" x2="396.6" y2="338.5" stroke="#222" stroke-width="1.2"/>
<line x1="411.7" y1="337.1" x2="411.7" y2="339.3" stroke="#222" stroke-width="1.2"/>
<text transform="translate(411.7 350.4) scale(0.9 1)" font-size="10.6" text-anchor="middle" fill="#111">600</text>
<line x1="427.1" y1="337.1" x2="427.1" y2="338.5" stroke="#222" stroke-width="1.2"/>
<line x1="442.5" y1="337.1" x2="442.5" y2="339.3" stroke="#222" stroke-width="1.2"/>
<text transform="translate(442.5 350.4) scale(0.9 1)" font-size="10.6" text-anchor="middle" fill="#111">640</text>
<line x1="457.9" y1="337.1" x2="457.9" y2="338.5" stroke="#222" stroke-width="1.2"/>
<line x1="472.9" y1="337.1" x2="472.9" y2="339.3" stroke="#222" stroke-width="1.2"/>
<text transform="translate(472.9 350.4) scale(0.9 1)" font-size="10.6" text-anchor="middle" fill="#111">680</text>
<defs><linearGradient id="cbd"><stop offset="0.00" stop-color="#ff1414"/><stop offset="0.06" stop-color="#ff0000"/><stop offset="0.15" stop-color="#ff8000"/><stop offset="0.25" stop-color="#ffff00"/><stop offset="0.50" stop-color="#00eb00"/><stop offset="0.63" stop-color="#00ff96"/><stop offset="0.76" stop-color="#00ffff"/><stop offset="0.88" stop-color="#006eff"/><stop offset="0.96" stop-color="#0028ff"/><stop offset="1.00" stop-color="#0a1ef0"/></linearGradient></defs>
<rect x="421.0" y="190.7" width="40.5" height="12.8" fill="url(#cbd)" stroke="#ffd8b0" stroke-width="0.5"/>
<text x="419.2" y="203.1" font-size="14.4" text-anchor="end" fill="#111">mOD</text>
<text transform="translate(416.4 213.3) scale(0.9 1)" font-size="7.6" text-anchor="start" fill="#222">1.5</text>
<text transform="translate(465.5 213.3) scale(0.9 1)" font-size="7.6" text-anchor="end" fill="#222">0.1</text>
<text x="377.1" y="360.3" font-size="12.6" text-anchor="middle" fill="#111">Wavelength (nm)</text>
<text x="252.4" y="266.7" font-size="12.2" text-anchor="middle" fill="#111" transform="rotate(-90 252.4 266.7)">Delay Times (ps)</text>
<text x="245.1" y="194.6" font-size="16.5" text-anchor="start" fill="#111">d</text>
<g fill="none" stroke="#ec7b6e" stroke-width="0.55"><circle cx="50.0" cy="373.1" r="1.6"/><circle cx="50.4" cy="374.3" r="1.6"/><circle cx="50.3" cy="376.3" r="1.6"/><circle cx="49.6" cy="377.9" r="1.6"/><circle cx="49.6" cy="379.1" r="1.6"/><circle cx="49.6" cy="379.8" r="1.6"/><circle cx="50.1" cy="382.6" r="1.6"/><circle cx="49.7" cy="382.8" r="1.6"/><circle cx="50.4" cy="385.6" r="1.6"/><circle cx="50.3" cy="385.8" r="1.6"/><circle cx="50.9" cy="386.5" r="1.6"/><circle cx="50.7" cy="388.4" r="1.6"/><circle cx="49.7" cy="389.4" r="1.6"/><circle cx="49.9" cy="392.1" r="1.6"/><circle cx="51.0" cy="394.5" r="1.6"/><circle cx="51.8" cy="400.4" r="1.6"/><circle cx="52.6" cy="404.7" r="1.6"/><circle cx="53.5" cy="407.9" r="1.6"/><circle cx="54.5" cy="411.7" r="1.6"/><circle cx="55.6" cy="412.3" r="1.6"/><circle cx="57.0" cy="414.3" r="1.6"/><circle cx="58.5" cy="416.3" r="1.6"/><circle cx="60.0" cy="419.0" r="1.6"/><circle cx="62.0" cy="419.0" r="1.6"/><circle cx="64.0" cy="419.3" r="1.6"/><circle cx="66.5" cy="420.9" r="1.6"/><circle cx="69.0" cy="420.9" r="1.6"/><circle cx="72.0" cy="420.8" r="1.6"/><circle cx="75.0" cy="422.8" r="1.6"/><circle cx="78.0" cy="422.7" r="1.6"/><circle cx="82.0" cy="421.3" r="1.6"/><circle cx="86.0" cy="422.7" r="1.6"/><circle cx="90.0" cy="422.7" r="1.6"/><circle cx="94.0" cy="424.1" r="1.6"/><circle cx="98.0" cy="423.8" r="1.6"/><circle cx="102.0" cy="422.3" r="1.6"/><circle cx="106.0" cy="424.9" r="1.6"/><circle cx="110.0" cy="421.9" r="1.6"/><circle cx="114.0" cy="423.1" r="1.6"/><circle cx="118.0" cy="424.4" r="1.6"/><circle cx="122.0" cy="422.4" r="1.6"/><circle cx="126.0" cy="423.7" r="1.6"/><circle cx="134.0" cy="432.3" r="1.6"/><circle cx="136.0" cy="433.4" r="1.6"/><circle cx="138.0" cy="433.6" r="1.6"/><circle cx="140.0" cy="433.2" r="1.6"/><circle cx="143.0" cy="433.8" r="1.6"/><circle cx="146.0" cy="432.8" r="1.6"/><circle cx="150.0" cy="433.5" r="1.6"/><circle cx="154.0" cy="433.3" r="1.6"/><circle cx="158.0" cy="433.2" r="1.6"/><circle cx="162.0" cy="433.0" r="1.6"/><circle cx="167.0" cy="433.7" r="1.6"/><circle cx="172.0" cy="433.9" r="1.6"/><circle cx="177.0" cy="433.1" r="1.6"/><circle cx="182.0" cy="433.4" r="1.6"/><circle cx="187.0" cy="432.3" r="1.6"/><circle cx="193.0" cy="433.5" r="1.6"/><circle cx="199.0" cy="433.4" r="1.6"/><circle cx="205.0" cy="434.0" r="1.6"/><circle cx="211.0" cy="433.7" r="1.6"/><circle cx="217.0" cy="432.7" r="1.6"/><circle cx="223.0" cy="432.9" r="1.6"/><circle cx="229.0" cy="433.4" r="1.6"/></g>
<g fill="none" stroke="#7cc2de" stroke-width="0.55"><circle cx="49.5" cy="460.8" r="1.6"/><circle cx="49.7" cy="460.6" r="1.6"/><circle cx="49.6" cy="462.3" r="1.6"/><circle cx="49.7" cy="461.7" r="1.6"/><circle cx="50.0" cy="463.4" r="1.6"/><circle cx="49.6" cy="463.0" r="1.6"/><circle cx="50.3" cy="464.3" r="1.6"/><circle cx="50.6" cy="464.6" r="1.6"/><circle cx="49.9" cy="464.2" r="1.6"/><circle cx="50.0" cy="465.5" r="1.6"/><circle cx="50.8" cy="464.5" r="1.6"/><circle cx="49.7" cy="465.1" r="1.6"/><circle cx="49.8" cy="466.0" r="1.6"/><circle cx="50.3" cy="466.0" r="1.6"/><circle cx="51.0" cy="467.3" r="1.6"/><circle cx="51.8" cy="473.0" r="1.6"/><circle cx="52.6" cy="475.5" r="1.6"/><circle cx="53.5" cy="478.1" r="1.6"/><circle cx="54.5" cy="480.8" r="1.6"/><circle cx="55.6" cy="480.8" r="1.6"/><circle cx="57.0" cy="481.0" r="1.6"/><circle cx="58.5" cy="482.0" r="1.6"/><circle cx="60.0" cy="482.6" r="1.6"/><circle cx="62.0" cy="480.9" r="1.6"/><circle cx="64.0" cy="484.3" r="1.6"/><circle cx="66.5" cy="484.4" r="1.6"/><circle cx="69.0" cy="485.3" r="1.6"/><circle cx="72.0" cy="485.6" r="1.6"/><circle cx="75.0" cy="484.6" r="1.6"/><circle cx="78.0" cy="485.2" r="1.6"/><circle cx="82.0" cy="484.8" r="1.6"/><circle cx="86.0" cy="487.4" r="1.6"/><circle cx="90.0" cy="486.0" r="1.6"/><circle cx="94.0" cy="486.7" r="1.6"/><circle cx="98.0" cy="487.8" r="1.6"/><circle cx="102.0" cy="488.3" r="1.6"/><circle cx="106.0" cy="489.5" r="1.6"/><circle cx="110.0" cy="489.0" r="1.6"/><circle cx="114.0" cy="489.3" r="1.6"/><circle cx="118.0" cy="490.4" r="1.6"/><circle cx="122.0" cy="490.7" r="1.6"/><circle cx="126.0" cy="492.1" r="1.6"/><circle cx="134.0" cy="510.5" r="1.6"/><circle cx="136.0" cy="512.1" r="1.6"/><circle cx="138.0" cy="511.6" r="1.6"/><circle cx="140.0" cy="510.8" r="1.6"/><circle cx="143.0" cy="511.0" r="1.6"/><circle cx="146.0" cy="511.1" r="1.6"/><circle cx="150.0" cy="511.2" r="1.6"/><circle cx="154.0" cy="510.7" r="1.6"/><circle cx="158.0" cy="512.0" r="1.6"/><circle cx="162.0" cy="512.3" r="1.6"/><circle cx="167.0" cy="511.3" r="1.6"/><circle cx="172.0" cy="511.4" r="1.6"/><circle cx="177.0" cy="510.7" r="1.6"/><circle cx="182.0" cy="510.7" r="1.6"/><circle cx="187.0" cy="511.1" r="1.6"/><circle cx="193.0" cy="511.0" r="1.6"/><circle cx="199.0" cy="512.0" r="1.6"/><circle cx="205.0" cy="510.8" r="1.6"/><circle cx="211.0" cy="510.5" r="1.6"/><circle cx="217.0" cy="512.2" r="1.6"/><circle cx="223.0" cy="511.5" r="1.6"/><circle cx="229.0" cy="510.8" r="1.6"/></g>
<path d="M50.1,387.5 L50.2,388.1 L50.3,388.9 L50.4,389.9 L50.5,390.9 L50.6,392.0 L50.7,393.1 L50.9,394.1 L51.0,395.0 L51.1,395.8 L51.2,396.4 L51.3,397.1 L51.4,397.7 L51.5,398.3 L51.7,398.9 L51.8,399.7 L52.0,400.5 L52.2,401.5 L52.4,402.6 L52.6,403.8 L52.9,405.0 L53.1,406.2 L53.4,407.4 L53.7,408.5 L54.0,409.5 L54.3,410.4 L54.6,411.2 L55.0,412.0 L55.3,412.8 L55.7,413.4 L56.1,414.1 L56.5,414.7 L57.0,415.3 L57.5,415.9 L58.0,416.4 L58.6,416.8 L59.2,417.2 L59.8,417.6 L60.5,418.0 L61.2,418.4 L62.0,418.7 L62.8,419.0 L63.7,419.3 L64.7,419.6 L65.7,419.8 L66.7,420.0 L67.8,420.2 L68.9,420.4 L70.0,420.6 L71.1,420.8 L72.1,420.9 L73.2,421.0 L74.2,421.1 L75.4,421.2 L76.8,421.3 L78.3,421.4 L80.0,421.5 L82.0,421.6 L84.1,421.7 L86.3,421.8 L88.8,422.0 L91.4,422.1 L94.1,422.2 L97.0,422.3 L100.0,422.4 L103.4,422.5 L107.4,422.6 L111.7,422.7 L116.0,422.9 L120.2,423.0 L124.1,423.1 L127.3,423.1 L129.6,423.2" fill="none" stroke="#e8604f" stroke-width="1.3" stroke-linejoin="round"/>
<path d="M133.6,431.8 L231.8,432.4" fill="none" stroke="#e8604f" stroke-width="1.3" stroke-linejoin="round"/>
<path d="M50.1,462.5 L50.2,463.0 L50.3,463.6 L50.4,464.4 L50.5,465.2 L50.6,466.1 L50.7,466.9 L50.9,467.8 L51.0,468.5 L51.1,469.2 L51.2,469.8 L51.3,470.5 L51.5,471.1 L51.6,471.8 L51.7,472.4 L51.9,472.9 L52.0,473.5 L52.2,474.0 L52.3,474.6 L52.5,475.1 L52.7,475.6 L52.8,476.0 L53.0,476.5 L53.3,476.9 L53.5,477.3 L53.8,477.7 L54.0,478.0 L54.3,478.4 L54.6,478.7 L54.9,479.0 L55.2,479.3 L55.6,479.5 L56.0,479.8 L56.4,480.0 L56.8,480.3 L57.1,480.4 L57.5,480.6 L58.0,480.8 L58.5,481.0 L59.2,481.2 L60.0,481.4 L61.0,481.6 L62.1,481.9 L63.3,482.2 L64.6,482.4 L66.0,482.7 L67.4,483.0 L68.7,483.2 L70.0,483.5 L71.2,483.7 L72.5,484.0 L73.8,484.2 L75.0,484.4 L76.2,484.6 L77.5,484.9 L78.8,485.1 L80.0,485.3 L81.2,485.5 L82.5,485.7 L83.8,485.9 L85.0,486.2 L86.2,486.4 L87.5,486.6 L88.8,486.8 L90.0,487.0 L91.2,487.2 L92.5,487.4 L93.8,487.6 L95.0,487.8 L96.2,488.0 L97.5,488.2 L98.8,488.4 L100.0,488.6 L101.2,488.8 L102.5,489.0 L103.8,489.1 L105.0,489.3 L106.2,489.5 L107.5,489.7 L108.8,489.8 L110.0,490.0 L111.3,490.2 L112.5,490.3 L113.8,490.5 L115.0,490.7 L116.3,490.8 L117.5,491.0 L118.8,491.1 L120.0,491.3 L121.3,491.5 L122.7,491.6 L124.1,491.8 L125.4,491.9 L126.7,492.1 L127.9,492.2 L128.9,492.3 L129.6,492.4" fill="none" stroke="#6db8d8" stroke-width="1.3" stroke-linejoin="round"/>
<path d="M133.6,509.9 L231.8,510.4" fill="none" stroke="#6db8d8" stroke-width="1.3" stroke-linejoin="round"/>
<line x1="31" y1="369.5" x2="231.8" y2="369.5" stroke="#222" stroke-width="1.3"/>
<line x1="31" y1="517.6" x2="231.8" y2="517.6" stroke="#222" stroke-width="1.3"/>
<line x1="31" y1="443.6" x2="231.8" y2="443.6" stroke="#222" stroke-width="1.3"/>
<line x1="31" y1="368.9" x2="31" y2="518.2" stroke="#222" stroke-width="1.3"/>
<line x1="231.8" y1="368.9" x2="231.8" y2="518.2" stroke="#222" stroke-width="1.3"/>
<rect x="130.20000000000002" y="368.3" width="2.4" height="2.4" fill="#fff"/>
<line x1="128" y1="372.2" x2="131.6" y2="366.8" stroke="#111" stroke-width="1.3"/>
<line x1="131.2" y1="372.2" x2="134.8" y2="366.8" stroke="#111" stroke-width="1.3"/>
<rect x="130.20000000000002" y="442.40000000000003" width="2.4" height="2.4" fill="#fff"/>
<line x1="128" y1="446.3" x2="131.6" y2="440.9" stroke="#111" stroke-width="1.3"/>
<line x1="131.2" y1="446.3" x2="134.8" y2="440.9" stroke="#111" stroke-width="1.3"/>
<rect x="130.20000000000002" y="516.4" width="2.4" height="2.4" fill="#fff"/>
<line x1="128" y1="520.3" x2="131.6" y2="514.9" stroke="#111" stroke-width="1.3"/>
<line x1="131.2" y1="520.3" x2="134.8" y2="514.9" stroke="#111" stroke-width="1.3"/>
<line x1="50.4" y1="517.6" x2="50.4" y2="519.8" stroke="#222" stroke-width="1.2"/>
<text transform="translate(50.4 530.6) scale(0.9 1)" font-size="10.6" text-anchor="middle" fill="#111">0</text>
<line x1="70.3" y1="517.6" x2="70.3" y2="519" stroke="#222" stroke-width="1.2"/>
<line x1="90.2" y1="517.6" x2="90.2" y2="519.8" stroke="#222" stroke-width="1.2"/>
<text transform="translate(90.2 530.6) scale(0.9 1)" font-size="10.6" text-anchor="middle" fill="#111">100</text>
<line x1="110" y1="517.6" x2="110" y2="519" stroke="#222" stroke-width="1.2"/>
<line x1="133.2" y1="517.6" x2="133.2" y2="519.8" stroke="#222" stroke-width="1.2"/>
<text transform="translate(133.2 530.6) scale(0.9 1)" font-size="10.6" text-anchor="middle" fill="#111">2000</text>
<line x1="157.8" y1="517.6" x2="157.8" y2="519" stroke="#222" stroke-width="1.2"/>
<line x1="182.5" y1="517.6" x2="182.5" y2="519.8" stroke="#222" stroke-width="1.2"/>
<text transform="translate(182.5 530.6) scale(0.9 1)" font-size="10.6" text-anchor="middle" fill="#111">4000</text>
<line x1="207" y1="517.6" x2="207" y2="519" stroke="#222" stroke-width="1.2"/>
<line x1="231.6" y1="517.6" x2="231.6" y2="519.8" stroke="#222" stroke-width="1.2"/>
<text transform="translate(231.6 530.6) scale(0.9 1)" font-size="10.6" text-anchor="middle" fill="#111">6000</text>
<text x="133.7" y="542.4" font-size="12.6" text-anchor="middle" fill="#111">Time Delay (ps)</text>
<text x="23.8" y="436.8" font-size="12.9" text-anchor="middle" fill="#111" transform="rotate(-90 23.8 436.8)">TA Signal (a.u.)</text>
<text x="8.2" y="373.5" font-size="17" text-anchor="start" fill="#111">e</text>
<g fill="none" stroke="#ec7b6e" stroke-width="0.6"><circle cx="152.2" cy="377.0" r="1.7"/></g>
<text x="167.5" y="380.8" font-size="10.7" text-anchor="start" fill="#111">Ag@Ir-cages</text>
<g fill="none" stroke="#7cc2de" stroke-width="0.6"><circle cx="152.4" cy="451.5" r="1.7"/></g>
<text x="167.5" y="455" font-size="10.7" text-anchor="start" fill="#111">Ag NCs</text>
<text x="150.4" y="406.8" font-size="9.9" fill="#e8604f">τ<tspan font-size="7" dy="3">1</tspan><tspan dy="-3">=9.01 ps</tspan></text>
<text x="150.4" y="423.5" font-size="9.9" fill="#e8604f">τ<tspan font-size="7" dy="3">2</tspan><tspan dy="-3">=882.99 ps</tspan></text>
<text x="150.4" y="486" font-size="9.9" fill="#5b9ec2">τ<tspan font-size="7" dy="3">1</tspan><tspan dy="-3">=5.56 ps</tspan></text>
<text x="150.4" y="502.6" font-size="9.9" fill="#5b9ec2">τ<tspan font-size="7" dy="3">2</tspan><tspan dy="-3">=371.19 ps</tspan></text>
<path d="M277.0,427.2 L278.6,426.4 L280.3,427.3 L282.0,428.1 L283.6,427.8 L285.3,427.3 L286.9,426.4 L288.4,426.4 L289.7,426.1 L291.1,426.9 L292.5,426.4 L294.0,426.5 L295.5,425.4 L296.9,424.8 L298.4,424.9 L299.8,424.3 L300.9,423.3 L302.1,422.5 L303.3,421.7 L304.5,420.9 L305.9,419.3 L307.3,419.0 L308.4,418.0 L309.6,416.7 L310.9,415.8 L312.1,415.3 L313.3,414.4 L314.5,414.3 L315.6,413.8 L316.8,412.1 L317.9,412.0 L319.0,411.3 L320.4,410.3 L321.8,408.6 L323.0,407.6 L324.2,406.6 L325.4,405.4 L326.3,404.4 L327.4,404.0 L328.6,403.4 L329.8,404.0 L331.2,403.6 L332.2,403.1 L333.7,402.7 L335.0,401.2 L336.5,402.4 L338.0,403.5 L339.3,404.1 L340.3,404.9 L341.5,405.2 L342.9,405.4 L344.4,407.2 L345.7,407.2 L347.0,408.7 L348.2,409.9 L349.2,410.0 L350.0,411.1 L351.0,413.2 L352.1,413.7 L353.4,412.0 L354.3,410.8 L355.7,411.0 L357.0,413.1 L358.3,413.6 L359.7,412.5 L361.1,413.5 L362.8,414.1 L364.1,414.1 L365.7,414.0 L367.1,414.0 L368.3,412.8 L369.7,412.0 L371.1,412.9 L372.5,411.8 L373.7,411.0 L374.9,411.0 L376.2,409.6 L377.4,409.5 L378.6,408.3 L379.7,406.3 L380.8,405.5 L382.0,404.9 L383.4,404.0 L384.8,403.8 L386.2,402.7 L387.7,402.3 L389.0,401.3 L390.5,402.2 L391.8,400.9 L393.2,400.7 L394.7,401.0 L396.0,401.9 L397.1,402.0 L398.4,403.5 L399.9,403.4 L401.0,404.3 L402.3,405.4 L403.4,405.6 L404.7,407.4 L406.0,408.2 L407.4,409.2 L408.8,411.9 L409.7,411.9 L410.6,413.4 L411.5,414.8 L412.5,415.6 L413.5,416.4 L414.5,417.8 L415.5,419.0 L416.4,420.5 L417.3,420.3 L418.5,422.4 L419.7,423.1 L421.0,424.3 L422.0,426.0 L423.1,426.5 L424.2,427.4 L425.4,428.6 L426.4,429.7 L427.8,430.1 L429.2,431.4 L430.5,432.2 L432.0,433.1 L433.5,434.1 L435.0,434.3 L436.3,434.9 L437.9,434.9 L439.5,435.7 L441.0,435.3 L442.7,435.6 L444.4,435.7 L445.9,434.8 L447.3,435.5 L448.6,436.4 L450.0,436.5 L451.4,435.6 L452.9,435.8 L454.4,436.5 L455.9,436.0 L457.5,436.3 L459.0,436.1 L460.5,437.1 L462.2,437.3 L463.9,437.6 L465.4,436.5 L467.1,437.6 L468.8,437.7 L470.6,437.1 L471.9,438.5 L473.2,438.8 L475.0,437.9" fill="none" stroke="#f0883e" stroke-width="1.25" stroke-linejoin="round"/>
<path d="M277.0,481.8 L278.6,480.7 L280.2,480.5 L282.0,481.0 L283.9,480.3 L285.3,479.0 L286.6,479.1 L287.9,479.0 L289.5,478.3 L290.8,477.7 L292.1,477.5 L293.5,477.7 L295.0,476.1 L296.6,476.5 L298.2,475.8 L299.7,474.5 L301.1,474.3 L302.5,474.0 L304.0,473.1 L305.5,471.7 L307.0,472.4 L308.3,471.2 L309.5,470.5 L310.7,468.0 L312.0,467.1 L313.0,465.9 L314.2,466.1 L315.4,464.3 L316.5,463.1 L317.6,462.8 L319.0,462.7 L320.2,461.8 L321.5,460.3 L323.0,459.5 L324.8,460.0 L326.4,458.9 L327.7,458.6 L329.0,457.0 L330.3,456.5 L331.8,457.0 L333.1,456.4 L334.6,456.0 L336.2,457.8 L337.8,457.8 L339.3,458.8 L340.9,458.3 L342.1,460.1 L343.4,459.3 L344.6,461.2 L345.8,461.2 L346.9,461.8 L348.0,462.9 L349.3,464.5 L350.4,464.4 L351.5,465.0 L352.6,466.4 L353.8,466.5 L355.3,466.8 L356.6,467.0 L358.0,466.9 L359.5,467.2 L361.1,467.5 L362.7,467.4 L364.2,468.0 L365.8,466.9 L367.3,466.8 L368.7,465.6 L369.9,465.2 L371.3,463.7 L372.5,463.4 L373.9,462.3 L375.1,462.8 L376.3,461.9 L377.5,460.5 L378.7,460.1 L379.9,459.9 L381.1,457.6 L382.2,457.8 L383.3,456.4 L384.6,456.0 L386.0,456.2 L387.5,455.2 L389.1,455.1 L390.6,455.3 L392.0,455.7 L393.5,454.4 L394.9,455.1 L396.2,455.5 L397.5,456.2 L398.7,456.7 L400.0,457.6 L401.1,458.0 L402.2,459.1 L403.3,460.2 L404.5,462.4 L405.7,462.8 L406.9,463.9 L408.1,465.1 L409.3,467.6 L410.5,468.9 L411.7,469.9 L412.9,470.6 L414.0,471.9 L415.2,473.3 L416.3,474.8 L417.4,475.5 L418.5,477.0 L419.6,477.8 L420.8,479.9 L421.9,480.9 L423.2,481.2 L424.4,481.5 L425.7,483.4 L427.1,482.9 L428.5,483.6 L430.0,483.6 L431.6,484.7 L433.2,485.4 L434.7,485.9 L436.1,485.9 L437.5,486.8 L439.0,486.3 L440.5,487.1 L441.9,487.1 L443.4,487.9 L444.8,487.7 L446.1,487.9 L447.5,488.6 L449.0,488.7 L450.5,489.5 L452.1,489.5 L453.6,489.9 L455.1,489.7 L456.5,489.7 L458.0,489.9 L459.4,489.0 L460.9,488.7 L462.3,489.7 L463.8,488.4 L465.2,489.4 L466.8,489.4 L468.7,488.6 L470.4,489.9 L472.3,490.1 L474.1,489.7 L475.5,489.9" fill="none" stroke="#4a90b5" stroke-width="1.25" stroke-linejoin="round"/>
<g stroke="#f07a70" stroke-width="1" stroke-dasharray="3 2.2" fill="none"><path d="M334.2,397.5 L331.4,467"/><path d="M393.7,395.8 L391.2,459.4"/></g>
<line x1="314.9" y1="424.7" x2="325.7" y2="424.7" stroke="#e8604f" stroke-width="1.2"/>
<path d="M330.7,424.7 L323.7,422.0 L325.1,424.7 L323.7,427.4 Z" fill="#e8604f"/>
<line x1="350.8" y1="424.7" x2="340" y2="424.7" stroke="#e8604f" stroke-width="1.2"/>
<path d="M335.0,424.7 L342.0,422.0 L340.6,424.7 L342.0,427.4 Z" fill="#e8604f"/>
<line x1="375" y1="424.7" x2="386.1" y2="424.7" stroke="#e8604f" stroke-width="1.2"/>
<path d="M391.1,424.7 L384.1,422.0 L385.5,424.7 L384.1,427.4 Z" fill="#e8604f"/>
<line x1="410" y1="424.7" x2="399.6" y2="424.7" stroke="#e8604f" stroke-width="1.2"/>
<path d="M394.6,424.7 L401.6,422.0 L400.2,424.7 L401.6,427.4 Z" fill="#e8604f"/>
<text x="346.4" y="444.5" font-size="12" text-anchor="start" fill="#e8604f">0.1 eV</text>
<rect x="276.8" y="369.3" width="199.1" height="148.3" fill="none" stroke="#222" stroke-width="1.3"/>
<line x1="475.8" y1="517.6" x2="475.8" y2="519" stroke="#222" stroke-width="1.2"/>
<line x1="455.9" y1="517.6" x2="455.9" y2="519.8" stroke="#222" stroke-width="1.2"/>
<text transform="translate(455.9 530.6) scale(0.9 1)" font-size="10.6" text-anchor="middle" fill="#111">58</text>
<line x1="436" y1="517.6" x2="436" y2="519" stroke="#222" stroke-width="1.2"/>
<line x1="416.1" y1="517.6" x2="416.1" y2="519.8" stroke="#222" stroke-width="1.2"/>
<text transform="translate(416.1 530.6) scale(0.9 1)" font-size="10.6" text-anchor="middle" fill="#111">60</text>
<line x1="396.2" y1="517.6" x2="396.2" y2="519" stroke="#222" stroke-width="1.2"/>
<line x1="376.3" y1="517.6" x2="376.3" y2="519.8" stroke="#222" stroke-width="1.2"/>
<text transform="translate(376.3 530.6) scale(0.9 1)" font-size="10.6" text-anchor="middle" fill="#111">62</text>
<line x1="356.4" y1="517.6" x2="356.4" y2="519" stroke="#222" stroke-width="1.2"/>
<line x1="336.5" y1="517.6" x2="336.5" y2="519.8" stroke="#222" stroke-width="1.2"/>
<text transform="translate(336.5 530.6) scale(0.9 1)" font-size="10.6" text-anchor="middle" fill="#111">64</text>
<line x1="316.6" y1="517.6" x2="316.6" y2="519" stroke="#222" stroke-width="1.2"/>
<line x1="296.7" y1="517.6" x2="296.7" y2="519.8" stroke="#222" stroke-width="1.2"/>
<text transform="translate(296.7 530.6) scale(0.9 1)" font-size="10.6" text-anchor="middle" fill="#111">66</text>
<line x1="276.8" y1="517.6" x2="276.8" y2="519" stroke="#222" stroke-width="1.2"/>
<text x="376.7" y="541.9" font-size="12.6" text-anchor="middle" fill="#111">Binding Energy (eV)</text>
<text x="270" y="443.9" font-size="13.2" text-anchor="middle" fill="#111" transform="rotate(-90 270 443.9)">Intensity (a.u.)</text>
<text x="244.8" y="373" font-size="17" text-anchor="start" fill="#111">f</text>
<text x="280.4" y="383.5" font-size="12" fill="#111">Ir 4<tspan font-style="italic">f</tspan></text>
<text x="278.6" y="415.3" font-size="12" text-anchor="start" fill="#111">light</text>
<text x="278.6" y="466.8" font-size="12" text-anchor="start" fill="#111">dark</text>
<text x="335.6" y="397.5" font-size="11.8" fill="#111">4<tspan font-style="italic">f</tspan><tspan font-size="7.4" font-style="italic" fill="#444" dy="4.6">5/2</tspan></text>
<text x="396.9" y="395.4" font-size="11.8" fill="#111">4<tspan font-style="italic">f</tspan><tspan font-size="7.4" font-style="italic" fill="#444" dy="4.6">7/2</tspan></text>
<defs><clipPath id="icoclip"><polygon points="566.4,4.4 632.0,43.9 633.2,120.8 566.4,158.2 499.6,120.8 500.8,43.9"/></clipPath>
<radialGradient id="hot"><stop offset="0" stop-color="#700000"/><stop offset="0.16" stop-color="#e02000"/><stop offset="0.3" stop-color="#ffa000"/><stop offset="0.42" stop-color="#a8f060"/><stop offset="0.58" stop-color="#20c8f0"/><stop offset="0.8" stop-color="#2060f0" stop-opacity="0.6"/><stop offset="1" stop-color="#2040e0" stop-opacity="0"/></radialGradient><radialGradient id="glow"><stop offset="0" stop-color="#3c70f8" stop-opacity="0.75"/><stop offset="0.5" stop-color="#2c4ae8" stop-opacity="0.35"/><stop offset="1" stop-color="#2030d0" stop-opacity="0"/></radialGradient>
<linearGradient id="frontg" x1="0" y1="0" x2="0" y2="1"><stop offset="0" stop-color="#2430b8"/><stop offset="0.25" stop-color="#1e22a2"/><stop offset="1" stop-color="#1c1c98"/></linearGradient>
</defs>
<defs><radialGradient id="gl2"><stop offset="0" stop-color="#60f0a0" stop-opacity="1"/><stop offset="0.18" stop-color="#30e0f0" stop-opacity="1"/><stop offset="0.38" stop-color="#20a8f8" stop-opacity="0.85"/><stop offset="0.65" stop-color="#2860f0" stop-opacity="0.45"/><stop offset="1" stop-color="#2030d0" stop-opacity="0"/></radialGradient><radialGradient id="core"><stop offset="0" stop-color="#6a0000"/><stop offset="0.2" stop-color="#e02000"/><stop offset="0.42" stop-color="#ffb000"/><stop offset="0.62" stop-color="#b0f050" stop-opacity="0.95"/><stop offset="0.8" stop-color="#40d0f0" stop-opacity="0.7"/><stop offset="1" stop-color="#30a0f0" stop-opacity="0"/></radialGradient></defs>
<clipPath id="fc0"><polygon points="566.4,131.5 609.0,57.3 523.8,57.3"/></clipPath>
<polygon points="566.4,131.5 609.0,57.3 523.8,57.3" fill="url(#frontg)"/>
<g clip-path="url(#fc0)" opacity="1.0">
<circle cx="566.4" cy="131.5" r="18" fill="url(#gl2)"/>
<circle cx="609.0" cy="57.3" r="18" fill="url(#gl2)"/>
<circle cx="523.8" cy="57.3" r="18" fill="url(#gl2)"/>
</g>
<clipPath id="fc1"><polygon points="566.4,131.5 609.0,57.3 633.2,120.8"/></clipPath>
<polygon points="566.4,131.5 609.0,57.3 633.2,120.8" fill="#1d1f9c"/>
<g clip-path="url(#fc1)" opacity="0.85">
<circle cx="566.4" cy="131.5" r="18" fill="url(#gl2)"/>
<circle cx="609.0" cy="57.3" r="18" fill="url(#gl2)"/>
<circle cx="633.2" cy="120.8" r="13" fill="url(#gl2)"/>
</g>
<clipPath id="fc2"><polygon points="566.4,131.5 523.8,57.3 499.6,120.8"/></clipPath>
<polygon points="566.4,131.5 523.8,57.3 499.6,120.8" fill="#1d1f9c"/>
<g clip-path="url(#fc2)" opacity="0.85">
<circle cx="566.4" cy="131.5" r="18" fill="url(#gl2)"/>
<circle cx="523.8" cy="57.3" r="18" fill="url(#gl2)"/>
<circle cx="499.6" cy="120.8" r="13" fill="url(#gl2)"/>
</g>
<clipPath id="fc3"><polygon points="566.4,131.5 566.4,158.2 499.6,120.8"/></clipPath>
<polygon points="566.4,131.5 566.4,158.2 499.6,120.8" fill="#181880"/>
<g clip-path="url(#fc3)" opacity="0.45">
<circle cx="566.4" cy="131.5" r="18" fill="url(#gl2)"/>
<circle cx="566.4" cy="158.2" r="13" fill="url(#gl2)"/>
<circle cx="499.6" cy="120.8" r="13" fill="url(#gl2)"/>
</g>
<clipPath id="fc4"><polygon points="566.4,131.5 566.4,158.2 633.2,120.8"/></clipPath>
<polygon points="566.4,131.5 566.4,158.2 633.2,120.8" fill="#181880"/>
<g clip-path="url(#fc4)" opacity="0.45">
<circle cx="566.4" cy="131.5" r="18" fill="url(#gl2)"/>
<circle cx="566.4" cy="158.2" r="13" fill="url(#gl2)"/>
<circle cx="633.2" cy="120.8" r="13" fill="url(#gl2)"/>
</g>
<clipPath id="fc5"><polygon points="609.0,57.3 523.8,57.3 566.4,4.4"/></clipPath>
<polygon points="609.0,57.3 523.8,57.3 566.4,4.4" fill="#12125a"/>
<g clip-path="url(#fc5)" opacity="0.12">
<circle cx="609.0" cy="57.3" r="18" fill="url(#gl2)"/>
<circle cx="523.8" cy="57.3" r="18" fill="url(#gl2)"/>
<circle cx="566.4" cy="4.4" r="13" fill="url(#gl2)"/>
</g>
<clipPath id="fc6"><polygon points="609.0,57.3 632.0,43.9 633.2,120.8"/></clipPath>
<polygon points="609.0,57.3 632.0,43.9 633.2,120.8" fill="#1a1a8a"/>
<g clip-path="url(#fc6)" opacity="0.8">
<circle cx="609.0" cy="57.3" r="18" fill="url(#gl2)"/>
<circle cx="632.0" cy="43.9" r="13" fill="url(#gl2)"/>
<circle cx="633.2" cy="120.8" r="13" fill="url(#gl2)"/>
</g>
<clipPath id="fc7"><polygon points="609.0,57.3 632.0,43.9 566.4,4.4"/></clipPath>
<polygon points="609.0,57.3 632.0,43.9 566.4,4.4" fill="#12125a"/>
<g clip-path="url(#fc7)" opacity="0.12">
<circle cx="609.0" cy="57.3" r="18" fill="url(#gl2)"/>
<circle cx="632.0" cy="43.9" r="13" fill="url(#gl2)"/>
<circle cx="566.4" cy="4.4" r="13" fill="url(#gl2)"/>
</g>
<clipPath id="fc8"><polygon points="523.8,57.3 500.8,43.9 499.6,120.8"/></clipPath>
<polygon points="523.8,57.3 500.8,43.9 499.6,120.8" fill="#1a1a8a"/>
<g clip-path="url(#fc8)" opacity="0.8">
<circle cx="523.8" cy="57.3" r="18" fill="url(#gl2)"/>
<circle cx="500.8" cy="43.9" r="13" fill="url(#gl2)"/>
<circle cx="499.6" cy="120.8" r="13" fill="url(#gl2)"/>
</g>
<clipPath id="fc9"><polygon points="523.8,57.3 500.8,43.9 566.4,4.4"/></clipPath>
<polygon points="523.8,57.3 500.8,43.9 566.4,4.4" fill="#12125a"/>
<g clip-path="url(#fc9)" opacity="0.12">
<circle cx="523.8" cy="57.3" r="18" fill="url(#gl2)"/>
<circle cx="500.8" cy="43.9" r="13" fill="url(#gl2)"/>
<circle cx="566.4" cy="4.4" r="13" fill="url(#gl2)"/>
</g>
<polygon points="566.4,131.5 609.0,57.3 523.8,57.3" fill="none" stroke="#08082e" stroke-width="0.6" stroke-linejoin="round"/>
<polygon points="566.4,131.5 609.0,57.3 633.2,120.8" fill="none" stroke="#08082e" stroke-width="0.6" stroke-linejoin="round"/>
<polygon points="566.4,131.5 523.8,57.3 499.6,120.8" fill="none" stroke="#08082e" stroke-width="0.6" stroke-linejoin="round"/>
<polygon points="566.4,131.5 566.4,158.2 499.6,120.8" fill="none" stroke="#08082e" stroke-width="0.6" stroke-linejoin="round"/>
<polygon points="566.4,131.5 566.4,158.2 633.2,120.8" fill="none" stroke="#08082e" stroke-width="0.6" stroke-linejoin="round"/>
<polygon points="609.0,57.3 523.8,57.3 566.4,4.4" fill="none" stroke="#08082e" stroke-width="0.6" stroke-linejoin="round"/>
<polygon points="609.0,57.3 632.0,43.9 633.2,120.8" fill="none" stroke="#08082e" stroke-width="0.6" stroke-linejoin="round"/>
<polygon points="609.0,57.3 632.0,43.9 566.4,4.4" fill="none" stroke="#08082e" stroke-width="0.6" stroke-linejoin="round"/>
<polygon points="523.8,57.3 500.8,43.9 499.6,120.8" fill="none" stroke="#08082e" stroke-width="0.6" stroke-linejoin="round"/>
<polygon points="523.8,57.3 500.8,43.9 566.4,4.4" fill="none" stroke="#08082e" stroke-width="0.6" stroke-linejoin="round"/>
<g clip-path="url(#icoclip)">
<ellipse cx="566.4" cy="132.7" rx="5.2" ry="6.0" fill="url(#core)"/>
<ellipse cx="609.0" cy="58.5" rx="5.2" ry="6.0" fill="url(#core)"/>
<ellipse cx="523.8" cy="58.5" rx="5.2" ry="6.0" fill="url(#core)"/>
<ellipse cx="632.0" cy="45.1" rx="4.2" ry="4.8" fill="url(#core)"/>
<ellipse cx="500.8" cy="45.1" rx="4.2" ry="4.8" fill="url(#core)"/>
<ellipse cx="566.4" cy="159.4" rx="4.2" ry="4.8" fill="url(#core)"/>
<ellipse cx="499.6" cy="122.0" rx="4.2" ry="4.8" fill="url(#core)"/>
<ellipse cx="633.2" cy="122.0" rx="4.2" ry="4.8" fill="url(#core)"/>
<ellipse cx="566.4" cy="5.6" rx="4.2" ry="4.8" fill="url(#core)"/>
</g>
<ellipse cx="566.0" cy="220.4" rx="8.2" ry="7.5" fill="#1e20b0" stroke="#0c0c60" stroke-width="0.7"/>
<line x1="566.0" y1="220.4" x2="526.6" y2="289.6" stroke="#10107a" stroke-width="10.2" stroke-linecap="butt"/>
<line x1="566.0" y1="220.4" x2="526.6" y2="289.6" stroke="#2434d8" stroke-width="9.0" stroke-linecap="butt"/>
<line x1="566.0" y1="220.4" x2="605.4" y2="289.6" stroke="#10107a" stroke-width="10.2" stroke-linecap="butt"/>
<line x1="566.0" y1="220.4" x2="605.4" y2="289.6" stroke="#2434d8" stroke-width="9.0" stroke-linecap="butt"/>
<line x1="526.6" y1="289.6" x2="605.4" y2="289.6" stroke="#10107a" stroke-width="10.2" stroke-linecap="butt"/>
<line x1="526.6" y1="289.6" x2="605.4" y2="289.6" stroke="#2434d8" stroke-width="9.0" stroke-linecap="butt"/>
<ellipse cx="526.6" cy="289.6" rx="8.2" ry="7.5" fill="#1e20b0" stroke="#0c0c60" stroke-width="0.7"/>
<ellipse cx="605.4" cy="289.6" rx="8.2" ry="7.5" fill="#1e20b0" stroke="#0c0c60" stroke-width="0.7"/>
<line x1="629.8" y1="225.3" x2="566.0" y2="220.4" stroke="#10107a" stroke-width="10.2" stroke-linecap="butt"/>
<line x1="629.8" y1="225.3" x2="566.0" y2="220.4" stroke="#2434d8" stroke-width="9.0" stroke-linecap="butt"/>
<line x1="502.2" y1="225.3" x2="566.0" y2="220.4" stroke="#10107a" stroke-width="10.2" stroke-linecap="butt"/>
<line x1="502.2" y1="225.3" x2="566.0" y2="220.4" stroke="#2434d8" stroke-width="9.0" stroke-linecap="butt"/>
<line x1="629.8" y1="225.3" x2="605.4" y2="289.6" stroke="#10107a" stroke-width="10.2" stroke-linecap="butt"/>
<line x1="629.8" y1="225.3" x2="605.4" y2="289.6" stroke="#2434d8" stroke-width="9.0" stroke-linecap="butt"/>
<line x1="502.2" y1="225.3" x2="526.6" y2="289.6" stroke="#10107a" stroke-width="10.2" stroke-linecap="butt"/>
<line x1="502.2" y1="225.3" x2="526.6" y2="289.6" stroke="#2434d8" stroke-width="9.0" stroke-linecap="butt"/>
<line x1="566.0" y1="337.1" x2="526.6" y2="289.6" stroke="#10107a" stroke-width="10.2" stroke-linecap="butt"/>
<line x1="566.0" y1="337.1" x2="526.6" y2="289.6" stroke="#2434d8" stroke-width="9.0" stroke-linecap="butt"/>
<line x1="566.0" y1="337.1" x2="605.4" y2="289.6" stroke="#10107a" stroke-width="10.2" stroke-linecap="butt"/>
<line x1="566.0" y1="337.1" x2="605.4" y2="289.6" stroke="#2434d8" stroke-width="9.0" stroke-linecap="butt"/>
<line x1="566.0" y1="185.6" x2="566.0" y2="220.4" stroke="#10107a" stroke-width="10.2" stroke-linecap="butt"/>
<line x1="566.0" y1="185.6" x2="566.0" y2="220.4" stroke="#2434d8" stroke-width="9.0" stroke-linecap="butt"/>
<line x1="502.2" y1="297.4" x2="526.6" y2="289.6" stroke="#10107a" stroke-width="10.2" stroke-linecap="butt"/>
<line x1="502.2" y1="297.4" x2="526.6" y2="289.6" stroke="#2434d8" stroke-width="9.0" stroke-linecap="butt"/>
<line x1="629.8" y1="297.4" x2="605.4" y2="289.6" stroke="#10107a" stroke-width="10.2" stroke-linecap="butt"/>
<line x1="629.8" y1="297.4" x2="605.4" y2="289.6" stroke="#2434d8" stroke-width="9.0" stroke-linecap="butt"/>
<ellipse cx="629.8" cy="225.3" rx="8.2" ry="7.5" fill="#1e20b0" stroke="#0c0c60" stroke-width="0.7"/>
<ellipse cx="502.2" cy="225.3" rx="8.2" ry="7.5" fill="#1e20b0" stroke="#0c0c60" stroke-width="0.7"/>
<ellipse cx="566.0" cy="337.1" rx="8.2" ry="7.5" fill="#1e20b0" stroke="#0c0c60" stroke-width="0.7"/>
<line x1="629.8" y1="225.3" x2="566.0" y2="185.6" stroke="#10107a" stroke-width="10.2" stroke-linecap="butt"/>
<line x1="629.8" y1="225.3" x2="566.0" y2="185.6" stroke="#2434d8" stroke-width="9.0" stroke-linecap="butt"/>
<line x1="502.2" y1="225.3" x2="566.0" y2="185.6" stroke="#10107a" stroke-width="10.2" stroke-linecap="butt"/>
<line x1="502.2" y1="225.3" x2="566.0" y2="185.6" stroke="#2434d8" stroke-width="9.0" stroke-linecap="butt"/>
<line x1="629.8" y1="225.3" x2="629.8" y2="297.4" stroke="#10107a" stroke-width="10.2" stroke-linecap="butt"/>
<line x1="629.8" y1="225.3" x2="629.8" y2="297.4" stroke="#2434d8" stroke-width="9.0" stroke-linecap="butt"/>
<line x1="502.2" y1="225.3" x2="502.2" y2="297.4" stroke="#10107a" stroke-width="10.2" stroke-linecap="butt"/>
<line x1="502.2" y1="225.3" x2="502.2" y2="297.4" stroke="#2a3cee" stroke-width="9.0" stroke-linecap="butt"/>
<line x1="502.2" y1="225.3" x2="502.2" y2="297.4" stroke="#3046f8" stroke-width="3.15" stroke-linecap="butt"/>
<line x1="566.0" y1="337.1" x2="629.8" y2="297.4" stroke="#10107a" stroke-width="10.2" stroke-linecap="butt"/>
<line x1="566.0" y1="337.1" x2="629.8" y2="297.4" stroke="#2a3cee" stroke-width="9.0" stroke-linecap="butt"/>
<line x1="566.0" y1="337.1" x2="629.8" y2="297.4" stroke="#3046f8" stroke-width="3.15" stroke-linecap="butt"/>
<line x1="566.0" y1="337.1" x2="502.2" y2="297.4" stroke="#10107a" stroke-width="10.2" stroke-linecap="butt"/>
<line x1="566.0" y1="337.1" x2="502.2" y2="297.4" stroke="#2a3cee" stroke-width="9.0" stroke-linecap="butt"/>
<line x1="566.0" y1="337.1" x2="502.2" y2="297.4" stroke="#3046f8" stroke-width="3.15" stroke-linecap="butt"/>
<ellipse cx="566.0" cy="185.6" rx="8.2" ry="7.5" fill="#1e20b0" stroke="#0c0c60" stroke-width="0.7"/>
<ellipse cx="629.8" cy="297.4" rx="8.2" ry="7.5" fill="#1e20b0" stroke="#0c0c60" stroke-width="0.7"/>
<ellipse cx="502.2" cy="297.4" rx="8.2" ry="7.5" fill="#1e20b0" stroke="#0c0c60" stroke-width="0.7"/>
<line x1="605.4" y1="233.1" x2="629.8" y2="225.3" stroke="#10107a" stroke-width="10.2" stroke-linecap="butt"/>
<line x1="605.4" y1="233.1" x2="629.8" y2="225.3" stroke="#2a3cee" stroke-width="9.0" stroke-linecap="butt"/>
<line x1="605.4" y1="233.1" x2="629.8" y2="225.3" stroke="#3046f8" stroke-width="3.15" stroke-linecap="butt"/>
<line x1="526.6" y1="233.1" x2="502.2" y2="225.3" stroke="#10107a" stroke-width="10.2" stroke-linecap="butt"/>
<line x1="526.6" y1="233.1" x2="502.2" y2="225.3" stroke="#2a3cee" stroke-width="9.0" stroke-linecap="butt"/>
<line x1="526.6" y1="233.1" x2="502.2" y2="225.3" stroke="#3046f8" stroke-width="3.15" stroke-linecap="butt"/>
<line x1="566.0" y1="302.3" x2="566.0" y2="337.1" stroke="#10107a" stroke-width="10.2" stroke-linecap="butt"/>
<line x1="566.0" y1="302.3" x2="566.0" y2="337.1" stroke="#2a3cee" stroke-width="9.0" stroke-linecap="butt"/>
<line x1="566.0" y1="302.3" x2="566.0" y2="337.1" stroke="#3046f8" stroke-width="3.15" stroke-linecap="butt"/>
<line x1="605.4" y1="233.1" x2="566.0" y2="185.6" stroke="#10107a" stroke-width="10.2" stroke-linecap="butt"/>
<line x1="605.4" y1="233.1" x2="566.0" y2="185.6" stroke="#2a3cee" stroke-width="9.0" stroke-linecap="butt"/>
<line x1="605.4" y1="233.1" x2="566.0" y2="185.6" stroke="#3046f8" stroke-width="3.15" stroke-linecap="butt"/>
<line x1="526.6" y1="233.1" x2="566.0" y2="185.6" stroke="#10107a" stroke-width="10.2" stroke-linecap="butt"/>
<line x1="526.6" y1="233.1" x2="566.0" y2="185.6" stroke="#2a3cee" stroke-width="9.0" stroke-linecap="butt"/>
<line x1="526.6" y1="233.1" x2="566.0" y2="185.6" stroke="#3046f8" stroke-width="3.15" stroke-linecap="butt"/>
<line x1="605.4" y1="233.1" x2="629.8" y2="297.4" stroke="#10107a" stroke-width="10.2" stroke-linecap="butt"/>
<line x1="605.4" y1="233.1" x2="629.8" y2="297.4" stroke="#2a3cee" stroke-width="9.0" stroke-linecap="butt"/>
<line x1="605.4" y1="233.1" x2="629.8" y2="297.4" stroke="#3046f8" stroke-width="3.15" stroke-linecap="butt"/>
<line x1="526.6" y1="233.1" x2="502.2" y2="297.4" stroke="#10107a" stroke-width="10.2" stroke-linecap="butt"/>
<line x1="526.6" y1="233.1" x2="502.2" y2="297.4" stroke="#2a3cee" stroke-width="9.0" stroke-linecap="butt"/>
<line x1="526.6" y1="233.1" x2="502.2" y2="297.4" stroke="#3046f8" stroke-width="3.15" stroke-linecap="butt"/>
<line x1="566.0" y1="302.3" x2="629.8" y2="297.4" stroke="#10107a" stroke-width="10.2" stroke-linecap="butt"/>
<line x1="566.0" y1="302.3" x2="629.8" y2="297.4" stroke="#2a3cee" stroke-width="9.0" stroke-linecap="butt"/>
<line x1="566.0" y1="302.3" x2="629.8" y2="297.4" stroke="#3046f8" stroke-width="3.15" stroke-linecap="butt"/>
<line x1="566.0" y1="302.3" x2="502.2" y2="297.4" stroke="#10107a" stroke-width="10.2" stroke-linecap="butt"/>
<line x1="566.0" y1="302.3" x2="502.2" y2="297.4" stroke="#2a3cee" stroke-width="9.0" stroke-linecap="butt"/>
<line x1="566.0" y1="302.3" x2="502.2" y2="297.4" stroke="#3046f8" stroke-width="3.15" stroke-linecap="butt"/>
<line x1="605.4" y1="233.1" x2="526.6" y2="233.1" stroke="#10107a" stroke-width="10.2" stroke-linecap="butt"/>
<line x1="605.4" y1="233.1" x2="526.6" y2="233.1" stroke="#2a3cee" stroke-width="9.0" stroke-linecap="butt"/>
<line x1="605.4" y1="233.1" x2="526.6" y2="233.1" stroke="#3046f8" stroke-width="3.15" stroke-linecap="butt"/>
<ellipse cx="605.4" cy="233.1" rx="9.4" ry="8.6" fill="#1e20b0" stroke="#0c0c60" stroke-width="0.7"/>
<ellipse cx="526.6" cy="233.1" rx="9.4" ry="8.6" fill="#1e20b0" stroke="#0c0c60" stroke-width="0.7"/>
<line x1="566.0" y1="302.3" x2="605.4" y2="233.1" stroke="#10107a" stroke-width="10.2" stroke-linecap="butt"/>
<line x1="566.0" y1="302.3" x2="605.4" y2="233.1" stroke="#2a3cee" stroke-width="9.0" stroke-linecap="butt"/>
<line x1="566.0" y1="302.3" x2="605.4" y2="233.1" stroke="#3046f8" stroke-width="3.15" stroke-linecap="butt"/>
<line x1="566.0" y1="302.3" x2="526.6" y2="233.1" stroke="#10107a" stroke-width="10.2" stroke-linecap="butt"/>
<line x1="566.0" y1="302.3" x2="526.6" y2="233.1" stroke="#2a3cee" stroke-width="9.0" stroke-linecap="butt"/>
<line x1="566.0" y1="302.3" x2="526.6" y2="233.1" stroke="#3046f8" stroke-width="3.15" stroke-linecap="butt"/>
<ellipse cx="566.0" cy="302.3" rx="9.4" ry="8.6" fill="#1e20b0" stroke="#0c0c60" stroke-width="0.7"/>
<defs><radialGradient id="sph" cx="0.45" cy="0.35" r="0.6"><stop offset="0" stop-color="#c03020"/><stop offset="0.5" stop-color="#8a0c0c"/><stop offset="1" stop-color="#500404"/></radialGradient><radialGradient id="facebot" cx="0.5" cy="0.5" r="0.5"><stop offset="0" stop-color="#0e1888"/><stop offset="0.5" stop-color="#1428b8"/><stop offset="0.72" stop-color="#1c5ae0"/><stop offset="0.88" stop-color="#28b0f0"/><stop offset="1" stop-color="#50e8e0"/></radialGradient></defs>
<defs><filter id="fb" x="-5%" y="-5%" width="110%" height="110%"><feGaussianBlur stdDeviation="1.6"/></filter></defs>
<g filter="url(#fb)">
<polygon points="610.0,420.9 635.1,407.9 569.4,369.9" fill="#50e4d8"/>
<polygon points="611.4,414.3 624.3,407.7 590.6,388.1" fill="#30c8ee"/>
<polygon points="611.8,412.3 621.0,407.6 597.1,393.7" fill="#2290f0"/>
<polygon points="612.3,410.2 617.4,407.5 604.0,399.7" fill="#1c5ee0"/>
<polygon points="528.8,420.9 503.7,407.9 569.4,369.9" fill="#50e4d8"/>
<polygon points="527.4,414.3 514.5,407.7 548.2,388.1" fill="#30c8ee"/>
<polygon points="527.0,412.3 517.8,407.6 541.7,393.7" fill="#2290f0"/>
<polygon points="526.5,410.2 521.4,407.5 534.8,399.7" fill="#1c5ee0"/>
<polygon points="610.0,420.9 635.1,407.9 635.1,482.5" fill="#50e4d8"/>
<polygon points="616.6,423.4 629.9,416.5 629.9,456.0" fill="#30c8ee"/>
<polygon points="618.6,424.1 628.3,419.1 628.3,447.8" fill="#2290f0"/>
<polygon points="620.8,424.9 626.6,421.9 626.6,439.1" fill="#1c5ee0"/>
<polygon points="528.8,420.9 503.7,407.9 503.7,482.5" fill="#50e4d8"/>
<polygon points="522.2,423.4 508.9,416.5 508.9,456.0" fill="#30c8ee"/>
<polygon points="520.2,424.1 510.5,419.1 510.5,447.8" fill="#2290f0"/>
<polygon points="518.0,424.9 512.2,421.9 512.2,439.1" fill="#1c5ee0"/>
<polygon points="569.4,490.6 569.4,520.5 503.7,482.5" fill="#50e4d8"/>
<polygon points="564.2,495.2 564.2,511.5 528.3,490.8" fill="#30c8ee"/>
<polygon points="562.6,496.6 562.6,508.7 535.9,493.3" fill="#2290f0"/>
<polygon points="560.9,498.1 560.9,505.8 544.0,496.0" fill="#1c5ee0"/>
<polygon points="558.4,500.3 558.4,501.5 555.8,500.0" fill="#1838c4"/>
<polygon points="569.4,490.6 569.4,520.5 635.1,482.5" fill="#50e4d8"/>
<polygon points="574.6,495.2 574.6,511.5 610.5,490.8" fill="#30c8ee"/>
<polygon points="576.2,496.6 576.2,508.7 602.9,493.3" fill="#2290f0"/>
<polygon points="577.9,498.1 577.9,505.8 594.8,496.0" fill="#1c5ee0"/>
<polygon points="580.4,500.3 580.4,501.5 583.0,500.0" fill="#1838c4"/>
<polygon points="610.0,420.9 528.8,420.9 569.4,369.9" fill="#50e4d8"/>
<polygon points="599.2,415.7 539.6,415.7 569.4,378.2" fill="#30c8ee"/>
<polygon points="595.9,414.1 542.9,414.1 569.4,380.8" fill="#2290f0"/>
<polygon points="592.4,412.4 546.4,412.4 569.4,383.5" fill="#1c5ee0"/>
<polygon points="587.2,409.9 551.6,409.9 569.4,387.5" fill="#1838c4"/>
<polygon points="580.0,406.4 558.8,406.4 569.4,393.2" fill="#1424a4"/>
<polygon points="572.7,402.9 566.1,402.9 569.4,398.8" fill="#101a8c"/>
<polygon points="569.4,490.6 610.0,420.9 635.1,482.5" fill="#50e4d8"/>
<polygon points="579.2,484.1 609.2,432.7 627.7,478.2" fill="#30c8ee"/>
<polygon points="582.2,482.1 608.9,436.3 625.4,476.8" fill="#2290f0"/>
<polygon points="585.4,480.0 608.6,440.1 623.0,475.4" fill="#1c5ee0"/>
<polygon points="590.1,476.9 608.2,445.8 619.5,473.3" fill="#1838c4"/>
<polygon points="596.7,472.6 607.7,453.7 614.5,470.4" fill="#1424a4"/>
<polygon points="603.2,468.3 607.1,461.6 609.5,467.5" fill="#101a8c"/>
<polygon points="569.4,490.6 528.8,420.9 503.7,482.5" fill="#50e4d8"/>
<polygon points="559.6,484.1 529.6,432.7 511.1,478.2" fill="#30c8ee"/>
<polygon points="556.6,482.1 529.9,436.3 513.4,476.8" fill="#2290f0"/>
<polygon points="553.4,480.0 530.2,440.1 515.8,475.4" fill="#1c5ee0"/>
<polygon points="548.7,476.9 530.6,445.8 519.3,473.3" fill="#1838c4"/>
<polygon points="542.1,472.6 531.1,453.7 524.3,470.4" fill="#1424a4"/>
<polygon points="535.6,468.3 531.7,461.6 529.3,467.5" fill="#101a8c"/>
<polygon points="569.4,490.6 610.0,420.9 528.8,420.9" fill="#50e4d8"/>
<polygon points="569.4,480.2 600.9,426.1 537.9,426.1" fill="#30c8ee"/>
<polygon points="569.4,477.1 598.2,427.7 540.6,427.7" fill="#2290f0"/>
<polygon points="569.4,473.7 595.2,429.4 543.6,429.4" fill="#1c5ee0"/>
<polygon points="569.4,468.7 590.9,431.9 547.9,431.9" fill="#1838c4"/>
<polygon points="569.4,461.8 584.8,435.4 554.0,435.4" fill="#1424a4"/>
<polygon points="569.4,454.8 578.7,438.9 560.1,438.9" fill="#101a8c"/>
</g>
<line x1="635.1" y1="407.9" x2="569.4" y2="369.9" stroke="#103050" stroke-width="10.2" stroke-linecap="butt"/>
<line x1="635.1" y1="407.9" x2="569.4" y2="369.9" stroke="#5cc8a0" stroke-width="9.0" stroke-linecap="butt"/>
<line x1="635.1" y1="407.9" x2="569.4" y2="369.9" stroke="#a8c03c" stroke-width="4.5" stroke-linecap="butt"/>
<line x1="503.7" y1="407.9" x2="569.4" y2="369.9" stroke="#103050" stroke-width="10.2" stroke-linecap="butt"/>
<line x1="503.7" y1="407.9" x2="569.4" y2="369.9" stroke="#5cc8a0" stroke-width="9.0" stroke-linecap="butt"/>
<line x1="503.7" y1="407.9" x2="569.4" y2="369.9" stroke="#a8c03c" stroke-width="4.5" stroke-linecap="butt"/>
<line x1="635.1" y1="407.9" x2="635.1" y2="482.5" stroke="#103050" stroke-width="10.2" stroke-linecap="butt"/>
<line x1="635.1" y1="407.9" x2="635.1" y2="482.5" stroke="#5cc8a0" stroke-width="9.0" stroke-linecap="butt"/>
<line x1="635.1" y1="407.9" x2="635.1" y2="482.5" stroke="#a8c03c" stroke-width="4.5" stroke-linecap="butt"/>
<line x1="503.7" y1="407.9" x2="503.7" y2="482.5" stroke="#103050" stroke-width="10.2" stroke-linecap="butt"/>
<line x1="503.7" y1="407.9" x2="503.7" y2="482.5" stroke="#5cc8a0" stroke-width="9.0" stroke-linecap="butt"/>
<line x1="503.7" y1="407.9" x2="503.7" y2="482.5" stroke="#a8c03c" stroke-width="4.5" stroke-linecap="butt"/>
<line x1="569.4" y1="520.5" x2="503.7" y2="482.5" stroke="#103050" stroke-width="10.2" stroke-linecap="butt"/>
<line x1="569.4" y1="520.5" x2="503.7" y2="482.5" stroke="#5cc8a0" stroke-width="9.0" stroke-linecap="butt"/>
<line x1="569.4" y1="520.5" x2="503.7" y2="482.5" stroke="#a8c03c" stroke-width="4.5" stroke-linecap="butt"/>
<line x1="569.4" y1="520.5" x2="635.1" y2="482.5" stroke="#103050" stroke-width="10.2" stroke-linecap="butt"/>
<line x1="569.4" y1="520.5" x2="635.1" y2="482.5" stroke="#5cc8a0" stroke-width="9.0" stroke-linecap="butt"/>
<line x1="569.4" y1="520.5" x2="635.1" y2="482.5" stroke="#a8c03c" stroke-width="4.5" stroke-linecap="butt"/>
<line x1="610.0" y1="420.9" x2="635.1" y2="407.9" stroke="#103050" stroke-width="10.2" stroke-linecap="butt"/>
<line x1="610.0" y1="420.9" x2="635.1" y2="407.9" stroke="#5cc8a0" stroke-width="9.0" stroke-linecap="butt"/>
<line x1="610.0" y1="420.9" x2="635.1" y2="407.9" stroke="#a8c03c" stroke-width="4.5" stroke-linecap="butt"/>
<line x1="528.8" y1="420.9" x2="503.7" y2="407.9" stroke="#103050" stroke-width="10.2" stroke-linecap="butt"/>
<line x1="528.8" y1="420.9" x2="503.7" y2="407.9" stroke="#5cc8a0" stroke-width="9.0" stroke-linecap="butt"/>
<line x1="528.8" y1="420.9" x2="503.7" y2="407.9" stroke="#a8c03c" stroke-width="4.5" stroke-linecap="butt"/>
<line x1="569.4" y1="490.6" x2="569.4" y2="520.5" stroke="#103050" stroke-width="10.2" stroke-linecap="butt"/>
<line x1="569.4" y1="490.6" x2="569.4" y2="520.5" stroke="#5cc8a0" stroke-width="9.0" stroke-linecap="butt"/>
<line x1="569.4" y1="490.6" x2="569.4" y2="520.5" stroke="#a8c03c" stroke-width="4.5" stroke-linecap="butt"/>
<line x1="610.0" y1="420.9" x2="569.4" y2="369.9" stroke="#103050" stroke-width="10.2" stroke-linecap="butt"/>
<line x1="610.0" y1="420.9" x2="569.4" y2="369.9" stroke="#5cc8a0" stroke-width="9.0" stroke-linecap="butt"/>
<line x1="610.0" y1="420.9" x2="569.4" y2="369.9" stroke="#a8c03c" stroke-width="4.5" stroke-linecap="butt"/>
<line x1="528.8" y1="420.9" x2="569.4" y2="369.9" stroke="#103050" stroke-width="10.2" stroke-linecap="butt"/>
<line x1="528.8" y1="420.9" x2="569.4" y2="369.9" stroke="#5cc8a0" stroke-width="9.0" stroke-linecap="butt"/>
<line x1="528.8" y1="420.9" x2="569.4" y2="369.9" stroke="#a8c03c" stroke-width="4.5" stroke-linecap="butt"/>
<line x1="610.0" y1="420.9" x2="635.1" y2="482.5" stroke="#103050" stroke-width="10.2" stroke-linecap="butt"/>
<line x1="610.0" y1="420.9" x2="635.1" y2="482.5" stroke="#5cc8a0" stroke-width="9.0" stroke-linecap="butt"/>
<line x1="610.0" y1="420.9" x2="635.1" y2="482.5" stroke="#a8c03c" stroke-width="4.5" stroke-linecap="butt"/>
<line x1="528.8" y1="420.9" x2="503.7" y2="482.5" stroke="#103050" stroke-width="10.2" stroke-linecap="butt"/>
<line x1="528.8" y1="420.9" x2="503.7" y2="482.5" stroke="#5cc8a0" stroke-width="9.0" stroke-linecap="butt"/>
<line x1="528.8" y1="420.9" x2="503.7" y2="482.5" stroke="#a8c03c" stroke-width="4.5" stroke-linecap="butt"/>
<line x1="569.4" y1="490.6" x2="503.7" y2="482.5" stroke="#103050" stroke-width="10.2" stroke-linecap="butt"/>
<line x1="569.4" y1="490.6" x2="503.7" y2="482.5" stroke="#5cc8a0" stroke-width="9.0" stroke-linecap="butt"/>
<line x1="569.4" y1="490.6" x2="503.7" y2="482.5" stroke="#a8c03c" stroke-width="4.5" stroke-linecap="butt"/>
<line x1="569.4" y1="490.6" x2="635.1" y2="482.5" stroke="#103050" stroke-width="10.2" stroke-linecap="butt"/>
<line x1="569.4" y1="490.6" x2="635.1" y2="482.5" stroke="#5cc8a0" stroke-width="9.0" stroke-linecap="butt"/>
<line x1="569.4" y1="490.6" x2="635.1" y2="482.5" stroke="#a8c03c" stroke-width="4.5" stroke-linecap="butt"/>
<line x1="610.0" y1="420.9" x2="528.8" y2="420.9" stroke="#103050" stroke-width="10.2" stroke-linecap="butt"/>
<line x1="610.0" y1="420.9" x2="528.8" y2="420.9" stroke="#5cc8a0" stroke-width="9.0" stroke-linecap="butt"/>
<line x1="610.0" y1="420.9" x2="528.8" y2="420.9" stroke="#a8c03c" stroke-width="4.5" stroke-linecap="butt"/>
<line x1="569.4" y1="490.6" x2="610.0" y2="420.9" stroke="#103050" stroke-width="10.2" stroke-linecap="butt"/>
<line x1="569.4" y1="490.6" x2="610.0" y2="420.9" stroke="#5cc8a0" stroke-width="9.0" stroke-linecap="butt"/>
<line x1="569.4" y1="490.6" x2="610.0" y2="420.9" stroke="#a8c03c" stroke-width="4.5" stroke-linecap="butt"/>
<line x1="569.4" y1="490.6" x2="528.8" y2="420.9" stroke="#103050" stroke-width="10.2" stroke-linecap="butt"/>
<line x1="569.4" y1="490.6" x2="528.8" y2="420.9" stroke="#5cc8a0" stroke-width="9.0" stroke-linecap="butt"/>
<line x1="569.4" y1="490.6" x2="528.8" y2="420.9" stroke="#a8c03c" stroke-width="4.5" stroke-linecap="butt"/>
<circle cx="635.1" cy="407.9" r="5.8" fill="url(#sph)" stroke="#400000" stroke-width="0.6"/>
<circle cx="503.7" cy="407.9" r="5.8" fill="url(#sph)" stroke="#400000" stroke-width="0.6"/>
<circle cx="569.4" cy="520.5" r="5.8" fill="url(#sph)" stroke="#400000" stroke-width="0.6"/>
<circle cx="569.4" cy="369.9" r="5.8" fill="url(#sph)" stroke="#400000" stroke-width="0.6"/>
<circle cx="503.7" cy="482.5" r="5.8" fill="url(#sph)" stroke="#400000" stroke-width="0.6"/>
<circle cx="635.1" cy="482.5" r="5.8" fill="url(#sph)" stroke="#400000" stroke-width="0.6"/>
<circle cx="610.0" cy="420.9" r="7" fill="url(#sph)" stroke="#400000" stroke-width="0.6"/>
<circle cx="528.8" cy="420.9" r="7" fill="url(#sph)" stroke="#400000" stroke-width="0.6"/>
<circle cx="569.4" cy="490.6" r="7" fill="url(#sph)" stroke="#400000" stroke-width="0.6"/>
<defs><linearGradient id="cbg" x1="0" y1="1" x2="0" y2="0"><stop offset="0" stop-color="#1a1a8a"/><stop offset="0.1" stop-color="#1f2cc8"/><stop offset="0.22" stop-color="#2060f0"/><stop offset="0.35" stop-color="#10b0f0"/><stop offset="0.45" stop-color="#30e0d0"/><stop offset="0.55" stop-color="#90f060"/><stop offset="0.63" stop-color="#e0e020"/><stop offset="0.72" stop-color="#f8a010"/><stop offset="0.82" stop-color="#f04010"/><stop offset="0.9" stop-color="#c80808"/><stop offset="1" stop-color="#6a0000"/></linearGradient></defs>
<rect x="651.1" y="107.3" width="11.7" height="299.5" fill="url(#cbg)" stroke="#333" stroke-width="0.5"/>
<line x1="651.1" y1="405.2" x2="652.7" y2="405.2" stroke="#222" stroke-width="0.7"/>
<line x1="662.8" y1="405.2" x2="661.2" y2="405.2" stroke="#222" stroke-width="0.7"/>
<text transform="translate(674.6 408.8) scale(0.9 1)" font-size="10" text-anchor="middle" fill="#222">0</text>
<line x1="651.1" y1="345.3" x2="652.7" y2="345.3" stroke="#222" stroke-width="0.7"/>
<line x1="662.8" y1="345.3" x2="661.2" y2="345.3" stroke="#222" stroke-width="0.7"/>
<text transform="translate(674.6 348.9) scale(0.9 1)" font-size="10" text-anchor="middle" fill="#222">0.5</text>
<line x1="651.1" y1="285.4" x2="652.7" y2="285.4" stroke="#222" stroke-width="0.7"/>
<line x1="662.8" y1="285.4" x2="661.2" y2="285.4" stroke="#222" stroke-width="0.7"/>
<text transform="translate(674.6 289) scale(0.9 1)" font-size="10" text-anchor="middle" fill="#222">1</text>
<line x1="651.1" y1="225.5" x2="652.7" y2="225.5" stroke="#222" stroke-width="0.7"/>
<line x1="662.8" y1="225.5" x2="661.2" y2="225.5" stroke="#222" stroke-width="0.7"/>
<text transform="translate(674.6 229.1) scale(0.9 1)" font-size="10" text-anchor="middle" fill="#222">1.5</text>
<line x1="651.1" y1="165.6" x2="652.7" y2="165.6" stroke="#222" stroke-width="0.7"/>
<line x1="662.8" y1="165.6" x2="661.2" y2="165.6" stroke="#222" stroke-width="0.7"/>
<text transform="translate(674.6 169.2) scale(0.9 1)" font-size="10" text-anchor="middle" fill="#222">2</text>
<text transform="translate(665.6 103.4) scale(0.9 1)" font-size="9.6" fill="#222">×10<tspan font-size="6.6" dy="-3.2">8</tspan></text>
<text x="486.6" y="13.6" font-size="17" text-anchor="start" fill="#111">g</text>
</svg></body></html>
